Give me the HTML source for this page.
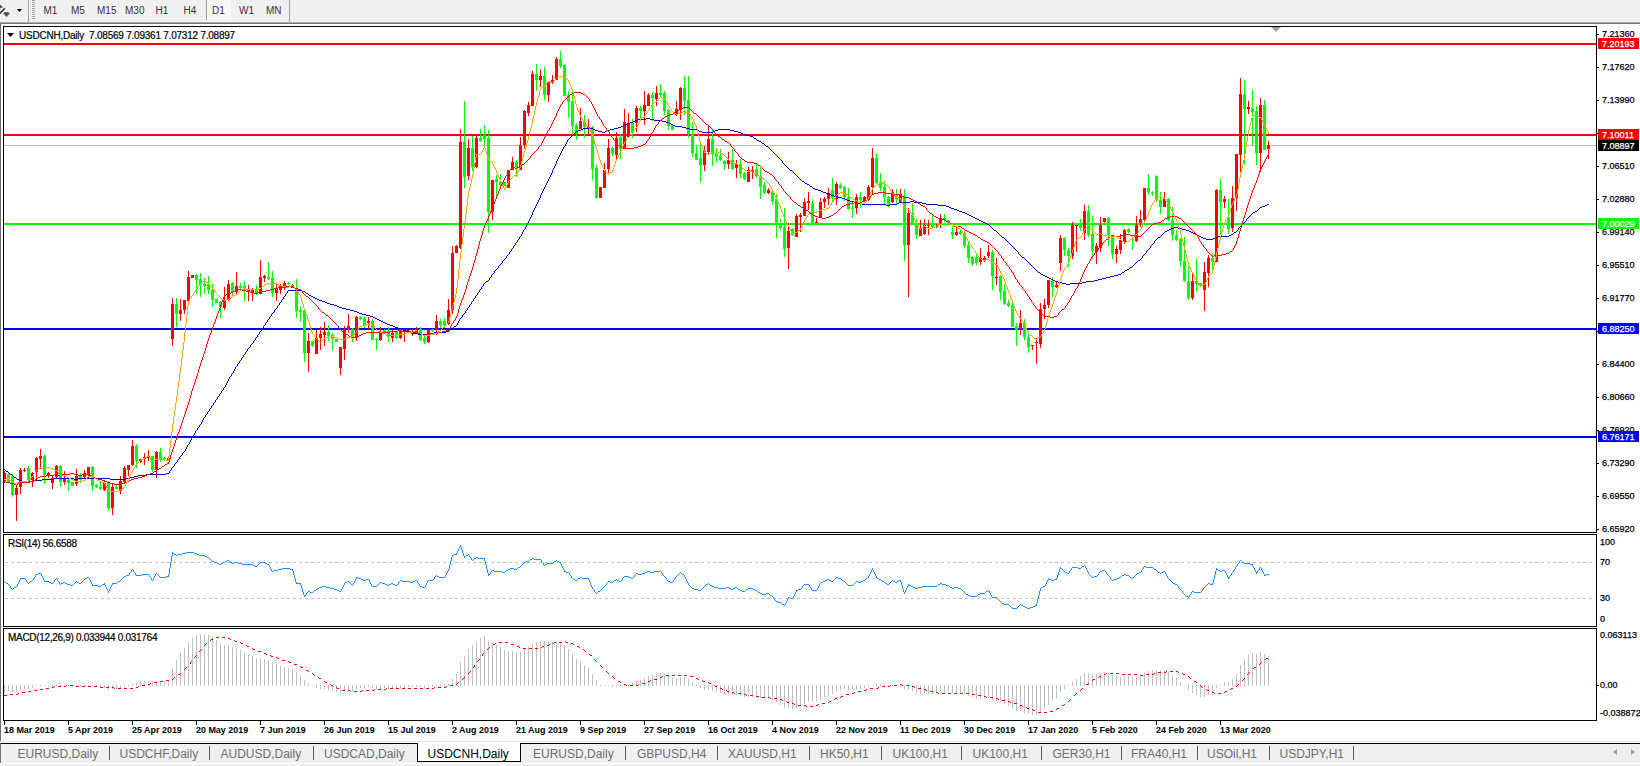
<!DOCTYPE html><html><head><meta charset="utf-8"><style>
html,body{margin:0;padding:0;}
body{width:1640px;height:766px;overflow:hidden;position:relative;background:#fff;font-family:"Liberation Sans",sans-serif;}
.a{position:absolute;white-space:nowrap;}
.tb{font-size:10px;color:#333;top:5px;}
.pl{font-size:9.5px;color:#000;left:1602px;line-height:11px;height:11px;transform:scaleX(0.95);transform-origin:0 0;-webkit-text-stroke:0.25px currentColor;}
.dl{font-size:9.5px;font-weight:bold;color:#000;top:724px;line-height:11px;transform:scaleX(0.94);transform-origin:0 0;}
.tab{font-size:12px;color:#6d6d6d;top:747px;line-height:14px;}
.sep{position:absolute;top:746px;width:1px;height:14px;background:#5a5a5a;}
</style></head><body>
<div class="a" style="left:0;top:0;width:1640px;height:22px;background:#F0F0F0"></div>
<div class="a" style="left:0;top:22px;width:1640px;height:1px;background:#A8A8A8"></div>
<div class="a" style="left:0;top:23px;width:1640px;height:1px;background:#7A7A7A"></div>
<div class="a" style="left:28px;top:0;width:1px;height:22px;background:#A0A0A0"></div>
<div class="a" style="left:289px;top:0;width:1px;height:22px;background:#A0A0A0"></div>
<div class="a" style="left:32px;top:0px;width:3px;height:1px;background:#A0A0A0"></div>
<div class="a" style="left:32px;top:2px;width:3px;height:1px;background:#A0A0A0"></div>
<div class="a" style="left:32px;top:4px;width:3px;height:1px;background:#A0A0A0"></div>
<div class="a" style="left:32px;top:6px;width:3px;height:1px;background:#A0A0A0"></div>
<div class="a" style="left:32px;top:8px;width:3px;height:1px;background:#A0A0A0"></div>
<div class="a" style="left:32px;top:10px;width:3px;height:1px;background:#A0A0A0"></div>
<div class="a" style="left:32px;top:12px;width:3px;height:1px;background:#A0A0A0"></div>
<div class="a" style="left:32px;top:14px;width:3px;height:1px;background:#A0A0A0"></div>
<div class="a" style="left:32px;top:16px;width:3px;height:1px;background:#A0A0A0"></div>
<div class="a" style="left:32px;top:18px;width:3px;height:1px;background:#A0A0A0"></div>
<div class="a" style="left:206px;top:0;width:25px;height:20px;background:#F7F7F7"></div>
<div class="a" style="left:206px;top:0;width:1px;height:20px;background:#A0A0A0"></div>
<div class="a tb" style="left:43.5px">M1</div>
<div class="a tb" style="left:71px">M5</div>
<div class="a tb" style="left:97px">M15</div>
<div class="a tb" style="left:125px">M30</div>
<div class="a tb" style="left:155.5px">H1</div>
<div class="a tb" style="left:183.5px">H4</div>
<div class="a tb" style="left:212px">D1</div>
<div class="a tb" style="left:239px">W1</div>
<div class="a tb" style="left:266px">MN</div>
<svg class="a" style="left:0;top:0" width="28" height="22"><path d="M0 4.5 L3 7.3 L0 8.5 Z" fill="#555"/><path d="M0 13.5 L4.8 8.3" stroke="#333" stroke-width="1.6"/><path d="M3 13.3 L5.5 12 L7.5 12 L10 13.3 L6.5 17 Z" fill="#555"/><path d="M17 9 H22 L19.5 12 Z" fill="#000"/></svg>
<div class="a" style="left:0;top:24px;width:1px;height:717px;background:#6E6E6E"></div>
<svg class="a" style="left:0;top:0" width="1640" height="766"><defs><clipPath id="cm"><rect x="4" y="27" width="1592" height="505"/></clipPath><clipPath id="cr"><rect x="4" y="535" width="1592" height="91"/></clipPath><clipPath id="cd"><rect x="4" y="629" width="1592" height="90"/></clipPath></defs><rect x="3.5" y="26.5" width="1593" height="506" fill="none" stroke="#000" stroke-width="1" shape-rendering="crispEdges"/><rect x="3.5" y="534.5" width="1593" height="92" fill="none" stroke="#000" stroke-width="1" shape-rendering="crispEdges"/><rect x="3.5" y="628.5" width="1593" height="92" fill="none" stroke="#000" stroke-width="1" shape-rendering="crispEdges"/><g clip-path="url(#cm)"><g shape-rendering="crispEdges"><rect x="4" y="43" width="1592" height="2" fill="#FF0000"/><rect x="4" y="134" width="1592" height="2" fill="#FF0000"/><rect x="4" y="145" width="1592" height="1" fill="#C0C0C0"/><rect x="4" y="223" width="1592" height="2" fill="#00FF00"/><rect x="4" y="328" width="1592" height="2" fill="#0000FF"/><rect x="4" y="436" width="1592" height="2" fill="#0000FF"/></g><g shape-rendering="crispEdges"><rect x="4" y="471" width="1" height="12" fill="#FF0000"/><rect x="3" y="473" width="3" height="9" fill="#FF0000"/><rect x="8" y="472" width="1" height="10" fill="#00FF00"/><rect x="7" y="474" width="3" height="8" fill="#00FF00"/><rect x="12" y="474" width="1" height="23" fill="#00FF00"/><rect x="11" y="476" width="3" height="19" fill="#00FF00"/><rect x="16" y="484" width="1" height="37" fill="#FF0000"/><rect x="15" y="488" width="3" height="7" fill="#FF0000"/><rect x="20" y="468" width="1" height="26" fill="#FF0000"/><rect x="19" y="470" width="3" height="17" fill="#FF0000"/><rect x="24" y="468" width="1" height="4" fill="#FF0000"/><rect x="23" y="470" width="3" height="1" fill="#FF0000"/><rect x="28" y="466" width="1" height="17" fill="#00FF00"/><rect x="27" y="468" width="3" height="12" fill="#00FF00"/><rect x="32" y="472" width="1" height="15" fill="#FF0000"/><rect x="31" y="473" width="3" height="7" fill="#FF0000"/><rect x="36" y="457" width="1" height="23" fill="#FF0000"/><rect x="35" y="458" width="3" height="14" fill="#FF0000"/><rect x="40" y="449" width="1" height="20" fill="#FF0000"/><rect x="39" y="456" width="3" height="3" fill="#FF0000"/><rect x="44" y="454" width="1" height="30" fill="#00FF00"/><rect x="43" y="456" width="3" height="19" fill="#00FF00"/><rect x="48" y="472" width="1" height="6" fill="#FF0000"/><rect x="47" y="473" width="3" height="3" fill="#FF0000"/><rect x="52" y="476" width="1" height="13" fill="#FF0000"/><rect x="51" y="478" width="3" height="5" fill="#FF0000"/><rect x="56" y="465" width="1" height="14" fill="#FF0000"/><rect x="55" y="466" width="3" height="11" fill="#FF0000"/><rect x="60" y="465" width="1" height="22" fill="#00FF00"/><rect x="59" y="466" width="3" height="16" fill="#00FF00"/><rect x="64" y="471" width="1" height="14" fill="#FF0000"/><rect x="63" y="478" width="3" height="4" fill="#FF0000"/><rect x="68" y="478" width="1" height="13" fill="#00FF00"/><rect x="67" y="480" width="3" height="3" fill="#00FF00"/><rect x="72" y="482" width="1" height="4" fill="#00FF00"/><rect x="71" y="482" width="3" height="4" fill="#00FF00"/><rect x="76" y="469" width="1" height="17" fill="#FF0000"/><rect x="75" y="476" width="3" height="8" fill="#FF0000"/><rect x="80" y="473" width="1" height="10" fill="#00FF00"/><rect x="79" y="475" width="3" height="5" fill="#00FF00"/><rect x="84" y="470" width="1" height="9" fill="#FF0000"/><rect x="83" y="473" width="3" height="4" fill="#FF0000"/><rect x="88" y="467" width="1" height="11" fill="#FF0000"/><rect x="87" y="467" width="3" height="8" fill="#FF0000"/><rect x="92" y="466" width="1" height="25" fill="#00FF00"/><rect x="91" y="467" width="3" height="19" fill="#00FF00"/><rect x="96" y="484" width="1" height="4" fill="#00FF00"/><rect x="95" y="485" width="3" height="2" fill="#00FF00"/><rect x="100" y="482" width="1" height="8" fill="#00FF00"/><rect x="99" y="487" width="3" height="2" fill="#00FF00"/><rect x="104" y="480" width="1" height="11" fill="#FF0000"/><rect x="103" y="483" width="3" height="7" fill="#FF0000"/><rect x="108" y="481" width="1" height="29" fill="#00FF00"/><rect x="107" y="482" width="3" height="26" fill="#00FF00"/><rect x="112" y="484" width="1" height="31" fill="#FF0000"/><rect x="111" y="487" width="3" height="21" fill="#FF0000"/><rect x="116" y="485" width="1" height="4" fill="#00FF00"/><rect x="115" y="487" width="3" height="2" fill="#00FF00"/><rect x="120" y="476" width="1" height="18" fill="#FF0000"/><rect x="119" y="481" width="3" height="10" fill="#FF0000"/><rect x="124" y="466" width="1" height="18" fill="#FF0000"/><rect x="123" y="468" width="3" height="14" fill="#FF0000"/><rect x="128" y="465" width="1" height="11" fill="#FF0000"/><rect x="127" y="465" width="3" height="5" fill="#FF0000"/><rect x="132" y="440" width="1" height="26" fill="#FF0000"/><rect x="131" y="446" width="3" height="19" fill="#FF0000"/><rect x="136" y="444" width="1" height="24" fill="#00FF00"/><rect x="135" y="446" width="3" height="15" fill="#00FF00"/><rect x="140" y="459" width="1" height="4" fill="#FF0000"/><rect x="139" y="459" width="3" height="3" fill="#FF0000"/><rect x="144" y="453" width="1" height="12" fill="#FF0000"/><rect x="143" y="457" width="3" height="2" fill="#FF0000"/><rect x="148" y="450" width="1" height="11" fill="#FF0000"/><rect x="147" y="456" width="3" height="2" fill="#FF0000"/><rect x="152" y="456" width="1" height="16" fill="#00FF00"/><rect x="151" y="456" width="3" height="14" fill="#00FF00"/><rect x="156" y="451" width="1" height="27" fill="#FF0000"/><rect x="155" y="452" width="3" height="18" fill="#FF0000"/><rect x="160" y="448" width="1" height="14" fill="#00FF00"/><rect x="159" y="452" width="3" height="7" fill="#00FF00"/><rect x="164" y="457" width="1" height="4" fill="#00FF00"/><rect x="163" y="458" width="3" height="2" fill="#00FF00"/><rect x="168" y="458" width="1" height="2" fill="#FF0000"/><rect x="167" y="458" width="3" height="2" fill="#FF0000"/><rect x="172" y="298" width="1" height="48" fill="#FF0000"/><rect x="171" y="304" width="3" height="35" fill="#FF0000"/><rect x="176" y="298" width="1" height="29" fill="#00FF00"/><rect x="175" y="304" width="3" height="10" fill="#00FF00"/><rect x="180" y="299" width="1" height="22" fill="#FF0000"/><rect x="179" y="310" width="3" height="4" fill="#FF0000"/><rect x="184" y="300" width="1" height="14" fill="#FF0000"/><rect x="183" y="300" width="3" height="10" fill="#FF0000"/><rect x="188" y="271" width="1" height="30" fill="#FF0000"/><rect x="187" y="277" width="3" height="24" fill="#FF0000"/><rect x="192" y="275" width="1" height="3" fill="#FF0000"/><rect x="191" y="275" width="3" height="3" fill="#FF0000"/><rect x="196" y="274" width="1" height="20" fill="#00FF00"/><rect x="195" y="275" width="3" height="5" fill="#00FF00"/><rect x="200" y="273" width="1" height="24" fill="#00FF00"/><rect x="199" y="279" width="3" height="5" fill="#00FF00"/><rect x="204" y="278" width="1" height="16" fill="#00FF00"/><rect x="203" y="284" width="3" height="2" fill="#00FF00"/><rect x="208" y="276" width="1" height="18" fill="#00FF00"/><rect x="207" y="284" width="3" height="6" fill="#00FF00"/><rect x="212" y="284" width="1" height="23" fill="#00FF00"/><rect x="211" y="290" width="3" height="10" fill="#00FF00"/><rect x="216" y="299" width="1" height="4" fill="#00FF00"/><rect x="215" y="299" width="3" height="4" fill="#00FF00"/><rect x="220" y="301" width="1" height="17" fill="#00FF00"/><rect x="219" y="302" width="3" height="5" fill="#00FF00"/><rect x="224" y="287" width="1" height="23" fill="#FF0000"/><rect x="223" y="300" width="3" height="8" fill="#FF0000"/><rect x="228" y="280" width="1" height="21" fill="#FF0000"/><rect x="227" y="284" width="3" height="16" fill="#FF0000"/><rect x="232" y="282" width="1" height="14" fill="#00FF00"/><rect x="231" y="283" width="3" height="9" fill="#00FF00"/><rect x="236" y="272" width="1" height="22" fill="#FF0000"/><rect x="235" y="286" width="3" height="6" fill="#FF0000"/><rect x="240" y="283" width="1" height="7" fill="#00FF00"/><rect x="239" y="286" width="3" height="2" fill="#00FF00"/><rect x="244" y="281" width="1" height="20" fill="#00FF00"/><rect x="243" y="286" width="3" height="4" fill="#00FF00"/><rect x="248" y="285" width="1" height="16" fill="#FF0000"/><rect x="247" y="290" width="3" height="2" fill="#FF0000"/><rect x="252" y="288" width="1" height="13" fill="#FF0000"/><rect x="251" y="290" width="3" height="2" fill="#FF0000"/><rect x="256" y="285" width="1" height="10" fill="#00FF00"/><rect x="255" y="289" width="3" height="5" fill="#00FF00"/><rect x="260" y="260" width="1" height="34" fill="#FF0000"/><rect x="259" y="277" width="3" height="17" fill="#FF0000"/><rect x="264" y="275" width="1" height="7" fill="#FF0000"/><rect x="263" y="276" width="3" height="2" fill="#FF0000"/><rect x="268" y="262" width="1" height="18" fill="#00FF00"/><rect x="267" y="277" width="3" height="2" fill="#00FF00"/><rect x="272" y="271" width="1" height="26" fill="#00FF00"/><rect x="271" y="278" width="3" height="15" fill="#00FF00"/><rect x="276" y="284" width="1" height="17" fill="#FF0000"/><rect x="275" y="289" width="3" height="4" fill="#FF0000"/><rect x="280" y="284" width="1" height="10" fill="#FF0000"/><rect x="279" y="286" width="3" height="4" fill="#FF0000"/><rect x="284" y="281" width="1" height="9" fill="#FF0000"/><rect x="283" y="283" width="3" height="3" fill="#FF0000"/><rect x="288" y="282" width="1" height="3" fill="#00FF00"/><rect x="287" y="283" width="3" height="1" fill="#00FF00"/><rect x="292" y="284" width="1" height="4" fill="#FF0000"/><rect x="291" y="285" width="3" height="3" fill="#FF0000"/><rect x="296" y="279" width="1" height="39" fill="#00FF00"/><rect x="295" y="288" width="3" height="23" fill="#00FF00"/><rect x="300" y="307" width="1" height="15" fill="#00FF00"/><rect x="299" y="310" width="3" height="2" fill="#00FF00"/><rect x="304" y="310" width="1" height="52" fill="#00FF00"/><rect x="303" y="310" width="3" height="43" fill="#00FF00"/><rect x="308" y="333" width="1" height="39" fill="#FF0000"/><rect x="307" y="341" width="3" height="12" fill="#FF0000"/><rect x="312" y="341" width="1" height="6" fill="#00FF00"/><rect x="311" y="341" width="3" height="5" fill="#00FF00"/><rect x="316" y="330" width="1" height="24" fill="#FF0000"/><rect x="315" y="338" width="3" height="16" fill="#FF0000"/><rect x="320" y="327" width="1" height="23" fill="#FF0000"/><rect x="319" y="334" width="3" height="4" fill="#FF0000"/><rect x="324" y="322" width="1" height="24" fill="#FF0000"/><rect x="323" y="332" width="3" height="3" fill="#FF0000"/><rect x="328" y="325" width="1" height="16" fill="#00FF00"/><rect x="327" y="332" width="3" height="4" fill="#00FF00"/><rect x="332" y="333" width="1" height="17" fill="#00FF00"/><rect x="331" y="335" width="3" height="4" fill="#00FF00"/><rect x="336" y="339" width="1" height="3" fill="#00FF00"/><rect x="335" y="339" width="3" height="3" fill="#00FF00"/><rect x="340" y="347" width="1" height="28" fill="#FF0000"/><rect x="339" y="347" width="3" height="21" fill="#FF0000"/><rect x="344" y="326" width="1" height="34" fill="#FF0000"/><rect x="343" y="330" width="3" height="19" fill="#FF0000"/><rect x="348" y="314" width="1" height="19" fill="#FF0000"/><rect x="347" y="326" width="3" height="4" fill="#FF0000"/><rect x="352" y="328" width="1" height="14" fill="#00FF00"/><rect x="351" y="329" width="3" height="8" fill="#00FF00"/><rect x="356" y="316" width="1" height="25" fill="#FF0000"/><rect x="355" y="317" width="3" height="21" fill="#FF0000"/><rect x="360" y="316" width="1" height="4" fill="#00FF00"/><rect x="359" y="317" width="3" height="2" fill="#00FF00"/><rect x="364" y="316" width="1" height="12" fill="#00FF00"/><rect x="363" y="318" width="3" height="7" fill="#00FF00"/><rect x="368" y="317" width="1" height="12" fill="#FF0000"/><rect x="367" y="321" width="3" height="2" fill="#FF0000"/><rect x="372" y="319" width="1" height="21" fill="#00FF00"/><rect x="371" y="321" width="3" height="19" fill="#00FF00"/><rect x="376" y="338" width="1" height="12" fill="#00FF00"/><rect x="375" y="339" width="3" height="1" fill="#00FF00"/><rect x="380" y="327" width="1" height="14" fill="#FF0000"/><rect x="379" y="332" width="3" height="8" fill="#FF0000"/><rect x="384" y="329" width="1" height="5" fill="#00FF00"/><rect x="383" y="330" width="3" height="3" fill="#00FF00"/><rect x="388" y="327" width="1" height="15" fill="#00FF00"/><rect x="387" y="331" width="3" height="6" fill="#00FF00"/><rect x="392" y="330" width="1" height="12" fill="#FF0000"/><rect x="391" y="333" width="3" height="5" fill="#FF0000"/><rect x="396" y="331" width="1" height="8" fill="#00FF00"/><rect x="395" y="332" width="3" height="6" fill="#00FF00"/><rect x="400" y="328" width="1" height="11" fill="#FF0000"/><rect x="399" y="329" width="3" height="9" fill="#FF0000"/><rect x="404" y="330" width="1" height="12" fill="#FF0000"/><rect x="403" y="330" width="3" height="2" fill="#FF0000"/><rect x="408" y="330" width="1" height="2" fill="#00FF00"/><rect x="407" y="330" width="3" height="1" fill="#00FF00"/><rect x="412" y="329" width="1" height="7" fill="#FF0000"/><rect x="411" y="332" width="3" height="2" fill="#FF0000"/><rect x="416" y="327" width="1" height="7" fill="#FF0000"/><rect x="415" y="329" width="3" height="3" fill="#FF0000"/><rect x="420" y="327" width="1" height="14" fill="#00FF00"/><rect x="419" y="329" width="3" height="11" fill="#00FF00"/><rect x="424" y="334" width="1" height="10" fill="#00FF00"/><rect x="423" y="338" width="3" height="4" fill="#00FF00"/><rect x="428" y="329" width="1" height="14" fill="#FF0000"/><rect x="427" y="330" width="3" height="12" fill="#FF0000"/><rect x="432" y="329" width="1" height="3" fill="#00FF00"/><rect x="431" y="329" width="3" height="2" fill="#00FF00"/><rect x="436" y="315" width="1" height="20" fill="#FF0000"/><rect x="435" y="321" width="3" height="8" fill="#FF0000"/><rect x="440" y="319" width="1" height="9" fill="#00FF00"/><rect x="439" y="321" width="3" height="4" fill="#00FF00"/><rect x="444" y="318" width="1" height="10" fill="#00FF00"/><rect x="443" y="321" width="3" height="4" fill="#00FF00"/><rect x="448" y="299" width="1" height="26" fill="#FF0000"/><rect x="447" y="310" width="3" height="14" fill="#FF0000"/><rect x="452" y="246" width="1" height="68" fill="#FF0000"/><rect x="451" y="253" width="3" height="57" fill="#FF0000"/><rect x="456" y="245" width="1" height="8" fill="#FF0000"/><rect x="455" y="246" width="3" height="7" fill="#FF0000"/><rect x="460" y="129" width="1" height="120" fill="#FF0000"/><rect x="459" y="142" width="3" height="106" fill="#FF0000"/><rect x="464" y="101" width="1" height="87" fill="#00FF00"/><rect x="463" y="142" width="3" height="35" fill="#00FF00"/><rect x="468" y="139" width="1" height="41" fill="#FF0000"/><rect x="467" y="148" width="3" height="28" fill="#FF0000"/><rect x="472" y="136" width="1" height="35" fill="#00FF00"/><rect x="471" y="148" width="3" height="19" fill="#00FF00"/><rect x="476" y="135" width="1" height="33" fill="#FF0000"/><rect x="475" y="138" width="3" height="29" fill="#FF0000"/><rect x="480" y="129" width="1" height="13" fill="#00FF00"/><rect x="479" y="138" width="3" height="3" fill="#00FF00"/><rect x="484" y="125" width="1" height="21" fill="#00FF00"/><rect x="483" y="135" width="3" height="4" fill="#00FF00"/><rect x="488" y="130" width="1" height="103" fill="#00FF00"/><rect x="487" y="138" width="3" height="74" fill="#00FF00"/><rect x="492" y="180" width="1" height="40" fill="#FF0000"/><rect x="491" y="180" width="3" height="32" fill="#FF0000"/><rect x="496" y="175" width="1" height="24" fill="#00FF00"/><rect x="495" y="179" width="3" height="3" fill="#00FF00"/><rect x="500" y="174" width="1" height="13" fill="#00FF00"/><rect x="499" y="182" width="3" height="3" fill="#00FF00"/><rect x="504" y="182" width="1" height="4" fill="#00FF00"/><rect x="503" y="182" width="3" height="4" fill="#00FF00"/><rect x="508" y="170" width="1" height="18" fill="#FF0000"/><rect x="507" y="170" width="3" height="18" fill="#FF0000"/><rect x="512" y="157" width="1" height="13" fill="#FF0000"/><rect x="511" y="162" width="3" height="8" fill="#FF0000"/><rect x="516" y="160" width="1" height="17" fill="#00FF00"/><rect x="515" y="162" width="3" height="5" fill="#00FF00"/><rect x="520" y="137" width="1" height="33" fill="#FF0000"/><rect x="519" y="145" width="3" height="25" fill="#FF0000"/><rect x="524" y="110" width="1" height="39" fill="#FF0000"/><rect x="523" y="111" width="3" height="34" fill="#FF0000"/><rect x="528" y="102" width="1" height="14" fill="#FF0000"/><rect x="527" y="105" width="3" height="8" fill="#FF0000"/><rect x="532" y="71" width="1" height="35" fill="#FF0000"/><rect x="531" y="74" width="3" height="32" fill="#FF0000"/><rect x="536" y="64" width="1" height="27" fill="#00FF00"/><rect x="535" y="74" width="3" height="6" fill="#00FF00"/><rect x="540" y="69" width="1" height="18" fill="#FF0000"/><rect x="539" y="76" width="3" height="4" fill="#FF0000"/><rect x="544" y="67" width="1" height="33" fill="#00FF00"/><rect x="543" y="76" width="3" height="19" fill="#00FF00"/><rect x="548" y="82" width="1" height="20" fill="#FF0000"/><rect x="547" y="82" width="3" height="13" fill="#FF0000"/><rect x="552" y="75" width="1" height="9" fill="#FF0000"/><rect x="551" y="80" width="3" height="3" fill="#FF0000"/><rect x="556" y="57" width="1" height="23" fill="#FF0000"/><rect x="555" y="59" width="3" height="21" fill="#FF0000"/><rect x="560" y="51" width="1" height="17" fill="#00FF00"/><rect x="559" y="59" width="3" height="7" fill="#00FF00"/><rect x="564" y="64" width="1" height="32" fill="#00FF00"/><rect x="563" y="65" width="3" height="31" fill="#00FF00"/><rect x="568" y="91" width="1" height="27" fill="#00FF00"/><rect x="567" y="95" width="3" height="7" fill="#00FF00"/><rect x="572" y="91" width="1" height="44" fill="#00FF00"/><rect x="571" y="101" width="3" height="25" fill="#00FF00"/><rect x="576" y="123" width="1" height="17" fill="#00FF00"/><rect x="575" y="125" width="3" height="9" fill="#00FF00"/><rect x="580" y="108" width="1" height="21" fill="#FF0000"/><rect x="579" y="121" width="3" height="8" fill="#FF0000"/><rect x="584" y="115" width="1" height="23" fill="#00FF00"/><rect x="583" y="122" width="3" height="5" fill="#00FF00"/><rect x="588" y="119" width="1" height="15" fill="#FF0000"/><rect x="587" y="127" width="3" height="2" fill="#FF0000"/><rect x="592" y="126" width="1" height="54" fill="#00FF00"/><rect x="591" y="127" width="3" height="42" fill="#00FF00"/><rect x="596" y="164" width="1" height="35" fill="#00FF00"/><rect x="595" y="168" width="3" height="30" fill="#00FF00"/><rect x="600" y="187" width="1" height="11" fill="#FF0000"/><rect x="599" y="187" width="3" height="11" fill="#FF0000"/><rect x="604" y="163" width="1" height="25" fill="#FF0000"/><rect x="603" y="170" width="3" height="18" fill="#FF0000"/><rect x="608" y="139" width="1" height="34" fill="#FF0000"/><rect x="607" y="148" width="3" height="21" fill="#FF0000"/><rect x="612" y="147" width="1" height="9" fill="#00FF00"/><rect x="611" y="148" width="3" height="6" fill="#00FF00"/><rect x="616" y="132" width="1" height="29" fill="#FF0000"/><rect x="615" y="138" width="3" height="17" fill="#FF0000"/><rect x="620" y="134" width="1" height="25" fill="#00FF00"/><rect x="619" y="137" width="3" height="12" fill="#00FF00"/><rect x="624" y="109" width="1" height="39" fill="#FF0000"/><rect x="623" y="122" width="3" height="26" fill="#FF0000"/><rect x="628" y="113" width="1" height="24" fill="#FF0000"/><rect x="627" y="123" width="3" height="14" fill="#FF0000"/><rect x="632" y="119" width="1" height="19" fill="#00FF00"/><rect x="631" y="123" width="3" height="10" fill="#00FF00"/><rect x="636" y="106" width="1" height="26" fill="#FF0000"/><rect x="635" y="108" width="3" height="15" fill="#FF0000"/><rect x="640" y="106" width="1" height="15" fill="#00FF00"/><rect x="639" y="108" width="3" height="3" fill="#00FF00"/><rect x="644" y="91" width="1" height="34" fill="#FF0000"/><rect x="643" y="105" width="3" height="6" fill="#FF0000"/><rect x="648" y="93" width="1" height="13" fill="#FF0000"/><rect x="647" y="95" width="3" height="11" fill="#FF0000"/><rect x="652" y="92" width="1" height="29" fill="#00FF00"/><rect x="651" y="95" width="3" height="3" fill="#00FF00"/><rect x="656" y="86" width="1" height="20" fill="#FF0000"/><rect x="655" y="93" width="3" height="6" fill="#FF0000"/><rect x="660" y="84" width="1" height="13" fill="#00FF00"/><rect x="659" y="93" width="3" height="2" fill="#00FF00"/><rect x="664" y="91" width="1" height="24" fill="#00FF00"/><rect x="663" y="93" width="3" height="18" fill="#00FF00"/><rect x="668" y="109" width="1" height="21" fill="#00FF00"/><rect x="667" y="110" width="3" height="16" fill="#00FF00"/><rect x="672" y="124" width="1" height="6" fill="#00FF00"/><rect x="671" y="125" width="3" height="5" fill="#00FF00"/><rect x="676" y="101" width="1" height="15" fill="#FF0000"/><rect x="675" y="109" width="3" height="6" fill="#FF0000"/><rect x="680" y="87" width="1" height="33" fill="#FF0000"/><rect x="679" y="88" width="3" height="22" fill="#FF0000"/><rect x="684" y="76" width="1" height="39" fill="#00FF00"/><rect x="683" y="88" width="3" height="13" fill="#00FF00"/><rect x="688" y="76" width="1" height="62" fill="#00FF00"/><rect x="687" y="100" width="3" height="34" fill="#00FF00"/><rect x="692" y="122" width="1" height="35" fill="#00FF00"/><rect x="691" y="134" width="3" height="19" fill="#00FF00"/><rect x="696" y="145" width="1" height="15" fill="#00FF00"/><rect x="695" y="153" width="3" height="7" fill="#00FF00"/><rect x="700" y="144" width="1" height="38" fill="#00FF00"/><rect x="699" y="158" width="3" height="7" fill="#00FF00"/><rect x="704" y="146" width="1" height="25" fill="#FF0000"/><rect x="703" y="151" width="3" height="14" fill="#FF0000"/><rect x="708" y="125" width="1" height="30" fill="#FF0000"/><rect x="707" y="139" width="3" height="13" fill="#FF0000"/><rect x="712" y="130" width="1" height="36" fill="#00FF00"/><rect x="711" y="139" width="3" height="14" fill="#00FF00"/><rect x="716" y="148" width="1" height="14" fill="#00FF00"/><rect x="715" y="154" width="3" height="3" fill="#00FF00"/><rect x="720" y="149" width="1" height="12" fill="#00FF00"/><rect x="719" y="156" width="3" height="4" fill="#00FF00"/><rect x="724" y="160" width="1" height="10" fill="#00FF00"/><rect x="723" y="161" width="3" height="3" fill="#00FF00"/><rect x="728" y="152" width="1" height="17" fill="#FF0000"/><rect x="727" y="160" width="3" height="4" fill="#FF0000"/><rect x="732" y="149" width="1" height="21" fill="#00FF00"/><rect x="731" y="160" width="3" height="9" fill="#00FF00"/><rect x="736" y="160" width="1" height="18" fill="#FF0000"/><rect x="735" y="164" width="3" height="4" fill="#FF0000"/><rect x="740" y="159" width="1" height="19" fill="#00FF00"/><rect x="739" y="164" width="3" height="10" fill="#00FF00"/><rect x="744" y="172" width="1" height="8" fill="#00FF00"/><rect x="743" y="173" width="3" height="6" fill="#00FF00"/><rect x="748" y="167" width="1" height="15" fill="#FF0000"/><rect x="747" y="170" width="3" height="12" fill="#FF0000"/><rect x="752" y="166" width="1" height="13" fill="#FF0000"/><rect x="751" y="170" width="3" height="2" fill="#FF0000"/><rect x="756" y="164" width="1" height="14" fill="#00FF00"/><rect x="755" y="169" width="3" height="7" fill="#00FF00"/><rect x="760" y="168" width="1" height="31" fill="#00FF00"/><rect x="759" y="176" width="3" height="11" fill="#00FF00"/><rect x="764" y="182" width="1" height="12" fill="#00FF00"/><rect x="763" y="185" width="3" height="8" fill="#00FF00"/><rect x="768" y="188" width="1" height="6" fill="#FF0000"/><rect x="767" y="190" width="3" height="3" fill="#FF0000"/><rect x="772" y="190" width="1" height="15" fill="#00FF00"/><rect x="771" y="192" width="3" height="9" fill="#00FF00"/><rect x="776" y="194" width="1" height="44" fill="#00FF00"/><rect x="775" y="199" width="3" height="24" fill="#00FF00"/><rect x="780" y="219" width="1" height="11" fill="#00FF00"/><rect x="779" y="223" width="3" height="5" fill="#00FF00"/><rect x="784" y="208" width="1" height="49" fill="#00FF00"/><rect x="783" y="227" width="3" height="22" fill="#00FF00"/><rect x="788" y="223" width="1" height="46" fill="#FF0000"/><rect x="787" y="231" width="3" height="17" fill="#FF0000"/><rect x="792" y="228" width="1" height="8" fill="#00FF00"/><rect x="791" y="229" width="3" height="6" fill="#00FF00"/><rect x="796" y="214" width="1" height="23" fill="#FF0000"/><rect x="795" y="216" width="3" height="21" fill="#FF0000"/><rect x="800" y="213" width="1" height="19" fill="#FF0000"/><rect x="799" y="215" width="3" height="2" fill="#FF0000"/><rect x="804" y="198" width="1" height="18" fill="#FF0000"/><rect x="803" y="202" width="3" height="14" fill="#FF0000"/><rect x="808" y="192" width="1" height="18" fill="#FF0000"/><rect x="807" y="201" width="3" height="2" fill="#FF0000"/><rect x="812" y="199" width="1" height="27" fill="#00FF00"/><rect x="811" y="203" width="3" height="20" fill="#00FF00"/><rect x="816" y="218" width="1" height="5" fill="#FF0000"/><rect x="815" y="222" width="3" height="1" fill="#FF0000"/><rect x="820" y="198" width="1" height="19" fill="#FF0000"/><rect x="819" y="202" width="3" height="15" fill="#FF0000"/><rect x="824" y="197" width="1" height="11" fill="#FF0000"/><rect x="823" y="199" width="3" height="3" fill="#FF0000"/><rect x="828" y="188" width="1" height="17" fill="#FF0000"/><rect x="827" y="193" width="3" height="6" fill="#FF0000"/><rect x="832" y="178" width="1" height="24" fill="#00FF00"/><rect x="831" y="190" width="3" height="8" fill="#00FF00"/><rect x="836" y="182" width="1" height="23" fill="#FF0000"/><rect x="835" y="184" width="3" height="15" fill="#FF0000"/><rect x="840" y="183" width="1" height="6" fill="#00FF00"/><rect x="839" y="185" width="3" height="3" fill="#00FF00"/><rect x="844" y="186" width="1" height="15" fill="#00FF00"/><rect x="843" y="187" width="3" height="10" fill="#00FF00"/><rect x="848" y="188" width="1" height="22" fill="#00FF00"/><rect x="847" y="197" width="3" height="12" fill="#00FF00"/><rect x="852" y="201" width="1" height="17" fill="#00FF00"/><rect x="851" y="208" width="3" height="1" fill="#00FF00"/><rect x="856" y="194" width="1" height="20" fill="#FF0000"/><rect x="855" y="197" width="3" height="11" fill="#FF0000"/><rect x="860" y="192" width="1" height="16" fill="#00FF00"/><rect x="859" y="197" width="3" height="3" fill="#00FF00"/><rect x="864" y="196" width="1" height="5" fill="#FF0000"/><rect x="863" y="197" width="3" height="4" fill="#FF0000"/><rect x="868" y="185" width="1" height="16" fill="#FF0000"/><rect x="867" y="187" width="3" height="13" fill="#FF0000"/><rect x="872" y="148" width="1" height="46" fill="#FF0000"/><rect x="871" y="158" width="3" height="29" fill="#FF0000"/><rect x="876" y="153" width="1" height="31" fill="#00FF00"/><rect x="875" y="158" width="3" height="25" fill="#00FF00"/><rect x="880" y="173" width="1" height="18" fill="#00FF00"/><rect x="879" y="182" width="3" height="6" fill="#00FF00"/><rect x="884" y="181" width="1" height="24" fill="#00FF00"/><rect x="883" y="187" width="3" height="10" fill="#00FF00"/><rect x="888" y="196" width="1" height="11" fill="#00FF00"/><rect x="887" y="197" width="3" height="8" fill="#00FF00"/><rect x="892" y="189" width="1" height="14" fill="#FF0000"/><rect x="891" y="192" width="3" height="10" fill="#FF0000"/><rect x="896" y="189" width="1" height="15" fill="#00FF00"/><rect x="895" y="195" width="3" height="4" fill="#00FF00"/><rect x="900" y="189" width="1" height="14" fill="#FF0000"/><rect x="899" y="194" width="3" height="9" fill="#FF0000"/><rect x="904" y="189" width="1" height="72" fill="#00FF00"/><rect x="903" y="196" width="3" height="49" fill="#00FF00"/><rect x="908" y="208" width="1" height="89" fill="#FF0000"/><rect x="907" y="213" width="3" height="32" fill="#FF0000"/><rect x="912" y="203" width="1" height="22" fill="#00FF00"/><rect x="911" y="213" width="3" height="11" fill="#00FF00"/><rect x="916" y="219" width="1" height="20" fill="#00FF00"/><rect x="915" y="225" width="3" height="10" fill="#00FF00"/><rect x="920" y="220" width="1" height="16" fill="#FF0000"/><rect x="919" y="229" width="3" height="7" fill="#FF0000"/><rect x="924" y="219" width="1" height="16" fill="#FF0000"/><rect x="923" y="225" width="3" height="9" fill="#FF0000"/><rect x="928" y="220" width="1" height="15" fill="#FF0000"/><rect x="927" y="225" width="3" height="1" fill="#FF0000"/><rect x="932" y="215" width="1" height="14" fill="#00FF00"/><rect x="931" y="225" width="3" height="2" fill="#00FF00"/><rect x="936" y="224" width="1" height="4" fill="#FF0000"/><rect x="935" y="226" width="3" height="1" fill="#FF0000"/><rect x="940" y="214" width="1" height="14" fill="#FF0000"/><rect x="939" y="218" width="3" height="5" fill="#FF0000"/><rect x="944" y="214" width="1" height="8" fill="#00FF00"/><rect x="943" y="218" width="3" height="2" fill="#00FF00"/><rect x="948" y="220" width="1" height="6" fill="#00FF00"/><rect x="947" y="220" width="3" height="3" fill="#00FF00"/><rect x="952" y="226" width="1" height="13" fill="#00FF00"/><rect x="951" y="232" width="3" height="3" fill="#00FF00"/><rect x="956" y="226" width="1" height="10" fill="#FF0000"/><rect x="955" y="232" width="3" height="3" fill="#FF0000"/><rect x="960" y="230" width="1" height="5" fill="#00FF00"/><rect x="959" y="232" width="3" height="2" fill="#00FF00"/><rect x="964" y="231" width="1" height="17" fill="#00FF00"/><rect x="963" y="233" width="3" height="13" fill="#00FF00"/><rect x="968" y="241" width="1" height="22" fill="#00FF00"/><rect x="967" y="245" width="3" height="13" fill="#00FF00"/><rect x="972" y="256" width="1" height="10" fill="#00FF00"/><rect x="971" y="257" width="3" height="7" fill="#00FF00"/><rect x="976" y="253" width="1" height="12" fill="#00FF00"/><rect x="975" y="257" width="3" height="6" fill="#00FF00"/><rect x="980" y="248" width="1" height="17" fill="#FF0000"/><rect x="979" y="258" width="3" height="4" fill="#FF0000"/><rect x="984" y="256" width="1" height="6" fill="#FF0000"/><rect x="983" y="258" width="3" height="2" fill="#FF0000"/><rect x="988" y="245" width="1" height="13" fill="#FF0000"/><rect x="987" y="252" width="3" height="4" fill="#FF0000"/><rect x="992" y="250" width="1" height="40" fill="#00FF00"/><rect x="991" y="252" width="3" height="24" fill="#00FF00"/><rect x="996" y="258" width="1" height="27" fill="#FF0000"/><rect x="995" y="277" width="3" height="1" fill="#FF0000"/><rect x="1000" y="275" width="1" height="25" fill="#00FF00"/><rect x="999" y="276" width="3" height="16" fill="#00FF00"/><rect x="1004" y="284" width="1" height="21" fill="#00FF00"/><rect x="1003" y="291" width="3" height="13" fill="#00FF00"/><rect x="1008" y="300" width="1" height="7" fill="#00FF00"/><rect x="1007" y="303" width="3" height="3" fill="#00FF00"/><rect x="1012" y="301" width="1" height="26" fill="#00FF00"/><rect x="1011" y="305" width="3" height="22" fill="#00FF00"/><rect x="1016" y="323" width="1" height="23" fill="#00FF00"/><rect x="1015" y="326" width="3" height="4" fill="#00FF00"/><rect x="1020" y="310" width="1" height="25" fill="#FF0000"/><rect x="1019" y="323" width="3" height="7" fill="#FF0000"/><rect x="1024" y="319" width="1" height="21" fill="#00FF00"/><rect x="1023" y="323" width="3" height="14" fill="#00FF00"/><rect x="1028" y="331" width="1" height="22" fill="#00FF00"/><rect x="1027" y="337" width="3" height="10" fill="#00FF00"/><rect x="1032" y="345" width="1" height="5" fill="#FF0000"/><rect x="1031" y="345" width="3" height="1" fill="#FF0000"/><rect x="1036" y="338" width="1" height="26" fill="#FF0000"/><rect x="1035" y="342" width="3" height="1" fill="#FF0000"/><rect x="1040" y="303" width="1" height="45" fill="#FF0000"/><rect x="1039" y="309" width="3" height="35" fill="#FF0000"/><rect x="1044" y="299" width="1" height="20" fill="#FF0000"/><rect x="1043" y="305" width="3" height="4" fill="#FF0000"/><rect x="1048" y="280" width="1" height="28" fill="#FF0000"/><rect x="1047" y="280" width="3" height="25" fill="#FF0000"/><rect x="1052" y="277" width="1" height="20" fill="#00FF00"/><rect x="1051" y="281" width="3" height="6" fill="#00FF00"/><rect x="1056" y="282" width="1" height="6" fill="#FF0000"/><rect x="1055" y="285" width="3" height="2" fill="#FF0000"/><rect x="1060" y="235" width="1" height="36" fill="#FF0000"/><rect x="1059" y="238" width="3" height="25" fill="#FF0000"/><rect x="1064" y="237" width="1" height="19" fill="#00FF00"/><rect x="1063" y="238" width="3" height="12" fill="#00FF00"/><rect x="1068" y="248" width="1" height="19" fill="#00FF00"/><rect x="1067" y="250" width="3" height="6" fill="#00FF00"/><rect x="1072" y="222" width="1" height="37" fill="#FF0000"/><rect x="1071" y="225" width="3" height="31" fill="#FF0000"/><rect x="1076" y="225" width="1" height="27" fill="#FF0000"/><rect x="1075" y="225" width="3" height="1" fill="#FF0000"/><rect x="1080" y="219" width="1" height="12" fill="#00FF00"/><rect x="1079" y="223" width="3" height="5" fill="#00FF00"/><rect x="1084" y="205" width="1" height="35" fill="#FF0000"/><rect x="1083" y="211" width="3" height="22" fill="#FF0000"/><rect x="1088" y="205" width="1" height="32" fill="#00FF00"/><rect x="1087" y="211" width="3" height="24" fill="#00FF00"/><rect x="1092" y="216" width="1" height="43" fill="#00FF00"/><rect x="1091" y="234" width="3" height="17" fill="#00FF00"/><rect x="1096" y="243" width="1" height="21" fill="#FF0000"/><rect x="1095" y="246" width="3" height="6" fill="#FF0000"/><rect x="1100" y="217" width="1" height="35" fill="#FF0000"/><rect x="1099" y="225" width="3" height="23" fill="#FF0000"/><rect x="1104" y="218" width="1" height="5" fill="#FF0000"/><rect x="1103" y="218" width="3" height="4" fill="#FF0000"/><rect x="1108" y="217" width="1" height="29" fill="#00FF00"/><rect x="1107" y="218" width="3" height="17" fill="#00FF00"/><rect x="1112" y="235" width="1" height="24" fill="#00FF00"/><rect x="1111" y="235" width="3" height="19" fill="#00FF00"/><rect x="1116" y="246" width="1" height="17" fill="#FF0000"/><rect x="1115" y="249" width="3" height="5" fill="#FF0000"/><rect x="1120" y="234" width="1" height="20" fill="#FF0000"/><rect x="1119" y="240" width="3" height="10" fill="#FF0000"/><rect x="1124" y="229" width="1" height="15" fill="#FF0000"/><rect x="1123" y="230" width="3" height="12" fill="#FF0000"/><rect x="1128" y="228" width="1" height="5" fill="#00FF00"/><rect x="1127" y="229" width="3" height="3" fill="#00FF00"/><rect x="1132" y="237" width="1" height="13" fill="#00FF00"/><rect x="1131" y="239" width="3" height="1" fill="#00FF00"/><rect x="1136" y="216" width="1" height="26" fill="#FF0000"/><rect x="1135" y="225" width="3" height="16" fill="#FF0000"/><rect x="1140" y="210" width="1" height="17" fill="#FF0000"/><rect x="1139" y="219" width="3" height="4" fill="#FF0000"/><rect x="1144" y="188" width="1" height="33" fill="#FF0000"/><rect x="1143" y="188" width="3" height="32" fill="#FF0000"/><rect x="1148" y="174" width="1" height="21" fill="#00FF00"/><rect x="1147" y="188" width="3" height="4" fill="#00FF00"/><rect x="1152" y="191" width="1" height="5" fill="#00FF00"/><rect x="1151" y="192" width="3" height="1" fill="#00FF00"/><rect x="1156" y="175" width="1" height="27" fill="#00FF00"/><rect x="1155" y="176" width="3" height="24" fill="#00FF00"/><rect x="1160" y="192" width="1" height="22" fill="#00FF00"/><rect x="1159" y="200" width="3" height="7" fill="#00FF00"/><rect x="1164" y="192" width="1" height="15" fill="#FF0000"/><rect x="1163" y="199" width="3" height="8" fill="#FF0000"/><rect x="1168" y="198" width="1" height="23" fill="#00FF00"/><rect x="1167" y="199" width="3" height="21" fill="#00FF00"/><rect x="1172" y="207" width="1" height="34" fill="#00FF00"/><rect x="1171" y="220" width="3" height="15" fill="#00FF00"/><rect x="1176" y="230" width="1" height="11" fill="#00FF00"/><rect x="1175" y="235" width="3" height="5" fill="#00FF00"/><rect x="1180" y="238" width="1" height="29" fill="#00FF00"/><rect x="1179" y="239" width="3" height="22" fill="#00FF00"/><rect x="1184" y="237" width="1" height="45" fill="#00FF00"/><rect x="1183" y="261" width="3" height="20" fill="#00FF00"/><rect x="1188" y="266" width="1" height="34" fill="#00FF00"/><rect x="1187" y="281" width="3" height="17" fill="#00FF00"/><rect x="1192" y="274" width="1" height="26" fill="#FF0000"/><rect x="1191" y="281" width="3" height="17" fill="#FF0000"/><rect x="1196" y="259" width="1" height="33" fill="#00FF00"/><rect x="1195" y="281" width="3" height="3" fill="#00FF00"/><rect x="1200" y="283" width="1" height="4" fill="#00FF00"/><rect x="1199" y="283" width="3" height="3" fill="#00FF00"/><rect x="1204" y="262" width="1" height="49" fill="#FF0000"/><rect x="1203" y="272" width="3" height="18" fill="#FF0000"/><rect x="1208" y="255" width="1" height="32" fill="#FF0000"/><rect x="1207" y="258" width="3" height="15" fill="#FF0000"/><rect x="1212" y="253" width="1" height="17" fill="#00FF00"/><rect x="1211" y="258" width="3" height="4" fill="#00FF00"/><rect x="1216" y="189" width="1" height="73" fill="#FF0000"/><rect x="1215" y="190" width="3" height="72" fill="#FF0000"/><rect x="1220" y="179" width="1" height="56" fill="#00FF00"/><rect x="1219" y="190" width="3" height="12" fill="#00FF00"/><rect x="1224" y="196" width="1" height="12" fill="#FF0000"/><rect x="1223" y="199" width="3" height="3" fill="#FF0000"/><rect x="1228" y="199" width="1" height="35" fill="#00FF00"/><rect x="1227" y="217" width="3" height="12" fill="#00FF00"/><rect x="1232" y="186" width="1" height="46" fill="#FF0000"/><rect x="1231" y="198" width="3" height="30" fill="#FF0000"/><rect x="1236" y="154" width="1" height="57" fill="#FF0000"/><rect x="1235" y="154" width="3" height="44" fill="#FF0000"/><rect x="1240" y="78" width="1" height="94" fill="#FF0000"/><rect x="1239" y="94" width="3" height="61" fill="#FF0000"/><rect x="1244" y="80" width="1" height="85" fill="#00FF00"/><rect x="1243" y="94" width="3" height="15" fill="#00FF00"/><rect x="1248" y="101" width="1" height="13" fill="#FF0000"/><rect x="1247" y="107" width="3" height="2" fill="#FF0000"/><rect x="1252" y="90" width="1" height="56" fill="#00FF00"/><rect x="1251" y="108" width="3" height="4" fill="#00FF00"/><rect x="1256" y="106" width="1" height="59" fill="#00FF00"/><rect x="1255" y="111" width="3" height="42" fill="#00FF00"/><rect x="1260" y="98" width="1" height="74" fill="#FF0000"/><rect x="1259" y="105" width="3" height="48" fill="#FF0000"/><rect x="1264" y="100" width="1" height="50" fill="#00FF00"/><rect x="1263" y="105" width="3" height="45" fill="#00FF00"/><rect x="1268" y="141" width="1" height="18" fill="#FF0000"/><rect x="1267" y="145" width="3" height="4" fill="#FF0000"/></g><path d="M4 469h1v1h-1zM5 470h1v1h-1zM6 471h1v1h-1zM7 471h1v1h-1zM8 472h1v1h-1zM9 473h1v1h-1zM10 474h1v1h-1zM11 474h1v1h-1zM12 475h1v1h-1zM13 476h1v1h-1zM14 477h1v1h-1zM15 477h1v1h-1zM16 478h1v1h-1zM17 479h1v1h-1zM18 479h1v1h-1zM19 480h1v1h-1zM20 480h1v1h-1zM21 480h1v1h-1zM22 481h1v1h-1zM23 481h1v1h-1zM24 481h1v1h-1zM25 481h1v1h-1zM26 481h1v1h-1zM27 481h1v1h-1zM28 481h1v1h-1zM29 481h1v1h-1zM30 481h1v1h-1zM31 481h1v1h-1zM32 481h1v1h-1zM33 481h1v1h-1zM34 480h1v1h-1zM35 480h1v1h-1zM36 480h1v1h-1zM37 480h1v1h-1zM38 480h1v1h-1zM39 480h1v1h-1zM40 480h1v1h-1zM41 480h1v1h-1zM42 479h1v1h-1zM43 479h1v1h-1zM44 479h1v1h-1zM45 479h1v1h-1zM46 479h1v1h-1zM47 479h1v1h-1zM48 479h1v1h-1zM49 479h1v1h-1zM50 479h1v1h-1zM51 479h1v1h-1zM52 479h1v1h-1zM53 479h1v1h-1zM54 478h1v1h-1zM55 478h1v1h-1zM56 478h1v1h-1zM57 478h1v1h-1zM58 478h1v1h-1zM59 478h1v1h-1zM60 478h1v1h-1zM61 478h1v1h-1zM62 478h1v1h-1zM63 478h1v1h-1zM64 478h1v1h-1zM65 478h1v1h-1zM66 478h1v1h-1zM67 478h1v1h-1zM68 478h1v1h-1zM69 478h1v1h-1zM70 478h1v1h-1zM71 478h1v1h-1zM72 478h1v1h-1zM73 478h1v1h-1zM74 479h1v1h-1zM75 479h1v1h-1zM76 479h1v1h-1zM77 479h1v1h-1zM78 478h1v1h-1zM79 478h1v1h-1zM80 478h1v1h-1zM81 478h1v1h-1zM82 478h1v1h-1zM83 478h1v1h-1zM84 478h1v1h-1zM85 478h1v1h-1zM86 478h1v1h-1zM87 478h1v1h-1zM88 478h1v1h-1zM89 478h1v1h-1zM90 478h1v1h-1zM91 478h1v1h-1zM92 478h1v1h-1zM93 478h1v1h-1zM94 478h1v1h-1zM95 478h1v1h-1zM96 478h1v1h-1zM97 478h1v1h-1zM98 478h1v1h-1zM99 478h1v1h-1zM100 478h1v1h-1zM101 478h1v1h-1zM102 478h1v1h-1zM103 478h1v1h-1zM104 478h1v1h-1zM105 478h1v1h-1zM106 478h1v1h-1zM107 478h1v1h-1zM108 478h1v1h-1zM109 478h1v1h-1zM110 479h1v1h-1zM111 479h1v1h-1zM112 479h1v1h-1zM113 479h1v1h-1zM114 479h1v1h-1zM115 479h1v1h-1zM116 479h1v1h-1zM117 479h1v1h-1zM118 479h1v1h-1zM119 479h1v1h-1zM120 479h1v1h-1zM121 479h1v1h-1zM122 479h1v1h-1zM123 479h1v1h-1zM124 479h1v1h-1zM125 479h1v1h-1zM126 478h1v1h-1zM127 478h1v1h-1zM128 478h1v1h-1zM129 478h1v1h-1zM130 477h1v1h-1zM131 477h1v1h-1zM132 477h1v1h-1zM133 477h1v1h-1zM134 476h1v1h-1zM135 476h1v1h-1zM136 476h1v1h-1zM137 476h1v1h-1zM138 475h1v1h-1zM139 475h1v1h-1zM140 475h1v1h-1zM141 475h1v1h-1zM142 475h1v1h-1zM143 475h1v1h-1zM144 475h1v1h-1zM145 475h1v1h-1zM146 474h1v1h-1zM147 474h1v1h-1zM148 474h1v1h-1zM149 474h1v1h-1zM150 474h1v1h-1zM151 474h1v1h-1zM152 474h1v1h-1zM153 474h1v1h-1zM154 474h1v1h-1zM155 474h1v1h-1zM156 474h1v1h-1zM157 474h1v1h-1zM158 474h1v1h-1zM159 474h1v1h-1zM160 474h1v1h-1zM161 474h1v1h-1zM162 474h1v1h-1zM163 474h1v1h-1zM164 474h1v1h-1zM165 474h1v1h-1zM166 473h1v1h-1zM167 473h1v1h-1zM168 473h1v1h-1zM169 471h1v2h-1zM170 470h1v1h-1zM171 468h1v2h-1zM172 467h1v1h-1zM173 466h1v1h-1zM174 464h1v2h-1zM175 463h1v1h-1zM176 462h1v1h-1zM177 460h1v2h-1zM178 459h1v1h-1zM179 457h1v2h-1zM180 456h1v1h-1zM181 455h1v1h-1zM182 453h1v2h-1zM183 452h1v1h-1zM184 451h1v1h-1zM185 449h1v2h-1zM186 447h1v2h-1zM187 445h1v2h-1zM188 444h1v1h-1zM189 442h1v2h-1zM190 440h1v2h-1zM191 438h1v2h-1zM192 437h1v1h-1zM193 435h1v2h-1zM194 433h1v2h-1zM195 431h1v2h-1zM196 430h1v1h-1zM197 428h1v2h-1zM198 427h1v1h-1zM199 425h1v2h-1zM200 424h1v1h-1zM201 422h1v2h-1zM202 420h1v2h-1zM203 418h1v2h-1zM204 417h1v1h-1zM205 415h1v2h-1zM206 414h1v1h-1zM207 412h1v2h-1zM208 411h1v1h-1zM209 409h1v2h-1zM210 408h1v1h-1zM211 406h1v2h-1zM212 405h1v1h-1zM213 403h1v2h-1zM214 402h1v1h-1zM215 400h1v2h-1zM216 399h1v1h-1zM217 397h1v2h-1zM218 396h1v1h-1zM219 394h1v2h-1zM220 393h1v1h-1zM221 391h1v2h-1zM222 390h1v1h-1zM223 388h1v2h-1zM224 387h1v1h-1zM225 385h1v2h-1zM226 383h1v2h-1zM227 381h1v2h-1zM228 379h1v2h-1zM229 377h1v2h-1zM230 376h1v1h-1zM231 374h1v2h-1zM232 373h1v1h-1zM233 371h1v2h-1zM234 369h1v2h-1zM235 367h1v2h-1zM236 366h1v1h-1zM237 364h1v2h-1zM238 363h1v1h-1zM239 361h1v2h-1zM240 360h1v1h-1zM241 358h1v2h-1zM242 357h1v1h-1zM243 355h1v2h-1zM244 354h1v1h-1zM245 352h1v2h-1zM246 351h1v1h-1zM247 349h1v2h-1zM248 348h1v1h-1zM249 347h1v1h-1zM250 345h1v2h-1zM251 344h1v1h-1zM252 343h1v1h-1zM253 341h1v2h-1zM254 340h1v1h-1zM255 338h1v2h-1zM256 337h1v1h-1zM257 335h1v2h-1zM258 334h1v1h-1zM259 332h1v2h-1zM260 331h1v1h-1zM261 329h1v2h-1zM262 328h1v1h-1zM263 326h1v2h-1zM264 325h1v1h-1zM265 323h1v2h-1zM266 322h1v1h-1zM267 320h1v2h-1zM268 319h1v1h-1zM269 317h1v2h-1zM270 316h1v1h-1zM271 314h1v2h-1zM272 313h1v1h-1zM273 312h1v1h-1zM274 310h1v2h-1zM275 309h1v1h-1zM276 308h1v1h-1zM277 306h1v2h-1zM278 305h1v1h-1zM279 303h1v2h-1zM280 302h1v1h-1zM281 300h1v2h-1zM282 299h1v1h-1zM283 297h1v2h-1zM284 296h1v1h-1zM285 294h1v2h-1zM286 293h1v1h-1zM287 291h1v2h-1zM288 290h1v1h-1zM289 290h1v1h-1zM290 290h1v1h-1zM291 290h1v1h-1zM292 290h1v1h-1zM293 290h1v1h-1zM294 290h1v1h-1zM295 290h1v1h-1zM296 290h1v1h-1zM297 290h1v1h-1zM298 290h1v1h-1zM299 290h1v1h-1zM300 290h1v1h-1zM301 290h1v1h-1zM302 291h1v1h-1zM303 291h1v1h-1zM304 291h1v1h-1zM305 292h1v1h-1zM306 293h1v1h-1zM307 293h1v1h-1zM308 294h1v1h-1zM309 295h1v1h-1zM310 295h1v1h-1zM311 296h1v1h-1zM312 296h1v1h-1zM313 297h1v1h-1zM314 297h1v1h-1zM315 298h1v1h-1zM316 298h1v1h-1zM317 299h1v1h-1zM318 299h1v1h-1zM319 300h1v1h-1zM320 300h1v1h-1zM321 300h1v1h-1zM322 301h1v1h-1zM323 301h1v1h-1zM324 301h1v1h-1zM325 302h1v1h-1zM326 302h1v1h-1zM327 303h1v1h-1zM328 303h1v1h-1zM329 303h1v1h-1zM330 304h1v1h-1zM331 304h1v1h-1zM332 304h1v1h-1zM333 304h1v1h-1zM334 305h1v1h-1zM335 305h1v1h-1zM336 305h1v1h-1zM337 306h1v1h-1zM338 306h1v1h-1zM339 307h1v1h-1zM340 307h1v1h-1zM341 307h1v1h-1zM342 308h1v1h-1zM343 308h1v1h-1zM344 308h1v1h-1zM345 308h1v1h-1zM346 309h1v1h-1zM347 309h1v1h-1zM348 309h1v1h-1zM349 309h1v1h-1zM350 310h1v1h-1zM351 310h1v1h-1zM352 310h1v1h-1zM353 310h1v1h-1zM354 311h1v1h-1zM355 311h1v1h-1zM356 311h1v1h-1zM357 312h1v1h-1zM358 312h1v1h-1zM359 313h1v1h-1zM360 313h1v1h-1zM361 313h1v1h-1zM362 314h1v1h-1zM363 314h1v1h-1zM364 314h1v1h-1zM365 314h1v1h-1zM366 315h1v1h-1zM367 315h1v1h-1zM368 315h1v1h-1zM369 315h1v1h-1zM370 316h1v1h-1zM371 316h1v1h-1zM372 316h1v1h-1zM373 317h1v1h-1zM374 317h1v1h-1zM375 318h1v1h-1zM376 318h1v1h-1zM377 319h1v1h-1zM378 319h1v1h-1zM379 320h1v1h-1zM380 320h1v1h-1zM381 321h1v1h-1zM382 321h1v1h-1zM383 322h1v1h-1zM384 322h1v1h-1zM385 323h1v1h-1zM386 323h1v1h-1zM387 324h1v1h-1zM388 324h1v1h-1zM389 324h1v1h-1zM390 325h1v1h-1zM391 325h1v1h-1zM392 325h1v1h-1zM393 326h1v1h-1zM394 326h1v1h-1zM395 327h1v1h-1zM396 327h1v1h-1zM397 327h1v1h-1zM398 328h1v1h-1zM399 328h1v1h-1zM400 328h1v1h-1zM401 329h1v1h-1zM402 329h1v1h-1zM403 330h1v1h-1zM404 330h1v1h-1zM405 330h1v1h-1zM406 331h1v1h-1zM407 331h1v1h-1zM408 331h1v1h-1zM409 332h1v1h-1zM410 332h1v1h-1zM411 333h1v1h-1zM412 333h1v1h-1zM413 333h1v1h-1zM414 333h1v1h-1zM415 333h1v1h-1zM416 333h1v1h-1zM417 333h1v1h-1zM418 334h1v1h-1zM419 334h1v1h-1zM420 334h1v1h-1zM421 334h1v1h-1zM422 334h1v1h-1zM423 334h1v1h-1zM424 334h1v1h-1zM425 334h1v1h-1zM426 334h1v1h-1zM427 334h1v1h-1zM428 334h1v1h-1zM429 334h1v1h-1zM430 333h1v1h-1zM431 333h1v1h-1zM432 333h1v1h-1zM433 333h1v1h-1zM434 332h1v1h-1zM435 332h1v1h-1zM436 332h1v1h-1zM437 332h1v1h-1zM438 332h1v1h-1zM439 332h1v1h-1zM440 332h1v1h-1zM441 332h1v1h-1zM442 332h1v1h-1zM443 332h1v1h-1zM444 332h1v1h-1zM445 332h1v1h-1zM446 331h1v1h-1zM447 331h1v1h-1zM448 331h1v1h-1zM449 330h1v1h-1zM450 329h1v1h-1zM451 329h1v1h-1zM452 328h1v1h-1zM453 327h1v1h-1zM454 326h1v1h-1zM455 326h1v1h-1zM456 325h1v1h-1zM457 323h1v2h-1zM458 321h1v2h-1zM459 319h1v2h-1zM460 318h1v1h-1zM461 317h1v1h-1zM462 315h1v2h-1zM463 314h1v1h-1zM464 313h1v1h-1zM465 311h1v2h-1zM466 310h1v1h-1zM467 308h1v2h-1zM468 307h1v1h-1zM469 305h1v2h-1zM470 304h1v1h-1zM471 302h1v2h-1zM472 301h1v1h-1zM473 299h1v2h-1zM474 298h1v1h-1zM475 296h1v2h-1zM476 295h1v1h-1zM477 293h1v2h-1zM478 292h1v1h-1zM479 290h1v2h-1zM480 289h1v1h-1zM481 287h1v2h-1zM482 286h1v1h-1zM483 284h1v2h-1zM484 283h1v1h-1zM485 282h1v1h-1zM486 281h1v1h-1zM487 281h1v1h-1zM488 280h1v1h-1zM489 278h1v2h-1zM490 277h1v1h-1zM491 275h1v2h-1zM492 274h1v1h-1zM493 273h1v1h-1zM494 271h1v2h-1zM495 270h1v1h-1zM496 269h1v1h-1zM497 268h1v1h-1zM498 266h1v2h-1zM499 265h1v1h-1zM500 264h1v1h-1zM501 263h1v1h-1zM502 261h1v2h-1zM503 260h1v1h-1zM504 259h1v1h-1zM505 258h1v1h-1zM506 256h1v2h-1zM507 255h1v1h-1zM508 254h1v1h-1zM509 252h1v2h-1zM510 251h1v1h-1zM511 249h1v2h-1zM512 248h1v1h-1zM513 246h1v2h-1zM514 245h1v1h-1zM515 243h1v2h-1zM516 242h1v1h-1zM517 240h1v2h-1zM518 239h1v1h-1zM519 237h1v2h-1zM520 236h1v1h-1zM521 234h1v2h-1zM522 232h1v2h-1zM523 230h1v2h-1zM524 229h1v1h-1zM525 227h1v2h-1zM526 225h1v2h-1zM527 223h1v2h-1zM528 221h1v2h-1zM529 219h1v2h-1zM530 217h1v2h-1zM531 215h1v2h-1zM532 212h1v3h-1zM533 210h1v2h-1zM534 208h1v2h-1zM535 206h1v2h-1zM536 204h1v2h-1zM537 202h1v2h-1zM538 200h1v2h-1zM539 198h1v2h-1zM540 195h1v3h-1zM541 193h1v2h-1zM542 191h1v2h-1zM543 189h1v2h-1zM544 187h1v2h-1zM545 185h1v2h-1zM546 183h1v2h-1zM547 181h1v2h-1zM548 179h1v2h-1zM549 177h1v2h-1zM550 175h1v2h-1zM551 173h1v2h-1zM552 170h1v3h-1zM553 168h1v2h-1zM554 166h1v2h-1zM555 164h1v2h-1zM556 161h1v3h-1zM557 159h1v2h-1zM558 157h1v2h-1zM559 155h1v2h-1zM560 153h1v2h-1zM561 151h1v2h-1zM562 149h1v2h-1zM563 147h1v2h-1zM564 146h1v1h-1zM565 144h1v2h-1zM566 142h1v2h-1zM567 140h1v2h-1zM568 139h1v1h-1zM569 138h1v1h-1zM570 137h1v1h-1zM571 136h1v1h-1zM572 135h1v1h-1zM573 134h1v1h-1zM574 133h1v1h-1zM575 132h1v1h-1zM576 131h1v1h-1zM577 131h1v1h-1zM578 130h1v1h-1zM579 130h1v1h-1zM580 130h1v1h-1zM581 129h1v1h-1zM582 129h1v1h-1zM583 128h1v1h-1zM584 128h1v1h-1zM585 128h1v1h-1zM586 128h1v1h-1zM587 128h1v1h-1zM588 128h1v1h-1zM589 128h1v1h-1zM590 128h1v1h-1zM591 128h1v1h-1zM592 128h1v1h-1zM593 129h1v1h-1zM594 129h1v1h-1zM595 130h1v1h-1zM596 130h1v1h-1zM597 130h1v1h-1zM598 131h1v1h-1zM599 131h1v1h-1zM600 131h1v1h-1zM601 131h1v1h-1zM602 132h1v1h-1zM603 132h1v1h-1zM604 132h1v1h-1zM605 131h1v1h-1zM606 131h1v1h-1zM607 130h1v1h-1zM608 130h1v1h-1zM609 130h1v1h-1zM610 129h1v1h-1zM611 129h1v1h-1zM612 129h1v1h-1zM613 129h1v1h-1zM614 128h1v1h-1zM615 128h1v1h-1zM616 128h1v1h-1zM617 128h1v1h-1zM618 127h1v1h-1zM619 127h1v1h-1zM620 127h1v1h-1zM621 126h1v1h-1zM622 126h1v1h-1zM623 125h1v1h-1zM624 125h1v1h-1zM625 124h1v1h-1zM626 124h1v1h-1zM627 123h1v1h-1zM628 123h1v1h-1zM629 123h1v1h-1zM630 122h1v1h-1zM631 122h1v1h-1zM632 122h1v1h-1zM633 121h1v1h-1zM634 121h1v1h-1zM635 120h1v1h-1zM636 120h1v1h-1zM637 120h1v1h-1zM638 119h1v1h-1zM639 119h1v1h-1zM640 119h1v1h-1zM641 119h1v1h-1zM642 119h1v1h-1zM643 119h1v1h-1zM644 119h1v1h-1zM645 119h1v1h-1zM646 118h1v1h-1zM647 118h1v1h-1zM648 118h1v1h-1zM649 118h1v1h-1zM650 119h1v1h-1zM651 119h1v1h-1zM652 119h1v1h-1zM653 119h1v1h-1zM654 120h1v1h-1zM655 120h1v1h-1zM656 120h1v1h-1zM657 120h1v1h-1zM658 120h1v1h-1zM659 120h1v1h-1zM660 120h1v1h-1zM661 120h1v1h-1zM662 121h1v1h-1zM663 121h1v1h-1zM664 121h1v1h-1zM665 121h1v1h-1zM666 122h1v1h-1zM667 122h1v1h-1zM668 122h1v1h-1zM669 123h1v1h-1zM670 123h1v1h-1zM671 124h1v1h-1zM672 124h1v1h-1zM673 125h1v1h-1zM674 125h1v1h-1zM675 126h1v1h-1zM676 126h1v1h-1zM677 126h1v1h-1zM678 126h1v1h-1zM679 126h1v1h-1zM680 126h1v1h-1zM681 126h1v1h-1zM682 127h1v1h-1zM683 127h1v1h-1zM684 127h1v1h-1zM685 127h1v1h-1zM686 128h1v1h-1zM687 128h1v1h-1zM688 128h1v1h-1zM689 128h1v1h-1zM690 129h1v1h-1zM691 129h1v1h-1zM692 129h1v1h-1zM693 129h1v1h-1zM694 129h1v1h-1zM695 129h1v1h-1zM696 129h1v1h-1zM697 130h1v1h-1zM698 130h1v1h-1zM699 131h1v1h-1zM700 131h1v1h-1zM701 131h1v1h-1zM702 132h1v1h-1zM703 132h1v1h-1zM704 132h1v1h-1zM705 132h1v1h-1zM706 132h1v1h-1zM707 132h1v1h-1zM708 132h1v1h-1zM709 132h1v1h-1zM710 132h1v1h-1zM711 132h1v1h-1zM712 132h1v1h-1zM713 131h1v1h-1zM714 131h1v1h-1zM715 130h1v1h-1zM716 130h1v1h-1zM717 130h1v1h-1zM718 129h1v1h-1zM719 129h1v1h-1zM720 129h1v1h-1zM721 129h1v1h-1zM722 129h1v1h-1zM723 129h1v1h-1zM724 129h1v1h-1zM725 129h1v1h-1zM726 129h1v1h-1zM727 129h1v1h-1zM728 129h1v1h-1zM729 129h1v1h-1zM730 130h1v1h-1zM731 130h1v1h-1zM732 130h1v1h-1zM733 130h1v1h-1zM734 131h1v1h-1zM735 131h1v1h-1zM736 131h1v1h-1zM737 131h1v1h-1zM738 132h1v1h-1zM739 132h1v1h-1zM740 132h1v1h-1zM741 133h1v1h-1zM742 133h1v1h-1zM743 134h1v1h-1zM744 134h1v1h-1zM745 134h1v1h-1zM746 135h1v1h-1zM747 135h1v1h-1zM748 135h1v1h-1zM749 135h1v1h-1zM750 136h1v1h-1zM751 136h1v1h-1zM752 136h1v1h-1zM753 137h1v1h-1zM754 138h1v1h-1zM755 138h1v1h-1zM756 139h1v1h-1zM757 140h1v1h-1zM758 140h1v1h-1zM759 141h1v1h-1zM760 141h1v1h-1zM761 142h1v1h-1zM762 143h1v1h-1zM763 143h1v1h-1zM764 144h1v1h-1zM765 145h1v1h-1zM766 146h1v1h-1zM767 146h1v1h-1zM768 147h1v1h-1zM769 148h1v1h-1zM770 149h1v1h-1zM771 150h1v1h-1zM772 151h1v1h-1zM773 152h1v1h-1zM774 153h1v1h-1zM775 154h1v1h-1zM776 155h1v1h-1zM777 156h1v1h-1zM778 157h1v1h-1zM779 158h1v1h-1zM780 159h1v1h-1zM781 160h1v1h-1zM782 161h1v2h-1zM783 163h1v1h-1zM784 164h1v1h-1zM785 165h1v1h-1zM786 166h1v1h-1zM787 167h1v1h-1zM788 168h1v1h-1zM789 169h1v1h-1zM790 170h1v1h-1zM791 170h1v1h-1zM792 171h1v1h-1zM793 172h1v1h-1zM794 173h1v1h-1zM795 174h1v1h-1zM796 175h1v1h-1zM797 176h1v1h-1zM798 177h1v1h-1zM799 178h1v1h-1zM800 179h1v1h-1zM801 180h1v1h-1zM802 181h1v1h-1zM803 181h1v1h-1zM804 182h1v1h-1zM805 183h1v1h-1zM806 183h1v1h-1zM807 184h1v1h-1zM808 184h1v1h-1zM809 185h1v1h-1zM810 186h1v1h-1zM811 186h1v1h-1zM812 187h1v1h-1zM813 188h1v1h-1zM814 188h1v1h-1zM815 189h1v1h-1zM816 189h1v1h-1zM817 189h1v1h-1zM818 190h1v1h-1zM819 190h1v1h-1zM820 190h1v1h-1zM821 191h1v1h-1zM822 191h1v1h-1zM823 192h1v1h-1zM824 192h1v1h-1zM825 192h1v1h-1zM826 193h1v1h-1zM827 193h1v1h-1zM828 193h1v1h-1zM829 194h1v1h-1zM830 194h1v1h-1zM831 195h1v1h-1zM832 195h1v1h-1zM833 195h1v1h-1zM834 196h1v1h-1zM835 196h1v1h-1zM836 196h1v1h-1zM837 196h1v1h-1zM838 197h1v1h-1zM839 197h1v1h-1zM840 197h1v1h-1zM841 197h1v1h-1zM842 198h1v1h-1zM843 198h1v1h-1zM844 198h1v1h-1zM845 199h1v1h-1zM846 199h1v1h-1zM847 200h1v1h-1zM848 200h1v1h-1zM849 200h1v1h-1zM850 201h1v1h-1zM851 201h1v1h-1zM852 201h1v1h-1zM853 201h1v1h-1zM854 202h1v1h-1zM855 202h1v1h-1zM856 202h1v1h-1zM857 202h1v1h-1zM858 203h1v1h-1zM859 203h1v1h-1zM860 203h1v1h-1zM861 203h1v1h-1zM862 204h1v1h-1zM863 204h1v1h-1zM864 204h1v1h-1zM865 204h1v1h-1zM866 204h1v1h-1zM867 204h1v1h-1zM868 204h1v1h-1zM869 204h1v1h-1zM870 204h1v1h-1zM871 204h1v1h-1zM872 204h1v1h-1zM873 204h1v1h-1zM874 204h1v1h-1zM875 204h1v1h-1zM876 204h1v1h-1zM877 204h1v1h-1zM878 204h1v1h-1zM879 204h1v1h-1zM880 204h1v1h-1zM881 204h1v1h-1zM882 204h1v1h-1zM883 204h1v1h-1zM884 204h1v1h-1zM885 204h1v1h-1zM886 205h1v1h-1zM887 205h1v1h-1zM888 205h1v1h-1zM889 205h1v1h-1zM890 204h1v1h-1zM891 204h1v1h-1zM892 204h1v1h-1zM893 204h1v1h-1zM894 204h1v1h-1zM895 204h1v1h-1zM896 204h1v1h-1zM897 203h1v1h-1zM898 203h1v1h-1zM899 202h1v1h-1zM900 202h1v1h-1zM901 202h1v1h-1zM902 202h1v1h-1zM903 202h1v1h-1zM904 202h1v1h-1zM905 202h1v1h-1zM906 202h1v1h-1zM907 202h1v1h-1zM908 202h1v1h-1zM909 202h1v1h-1zM910 201h1v1h-1zM911 201h1v1h-1zM912 201h1v1h-1zM913 201h1v1h-1zM914 202h1v1h-1zM915 202h1v1h-1zM916 202h1v1h-1zM917 202h1v1h-1zM918 202h1v1h-1zM919 202h1v1h-1zM920 202h1v1h-1zM921 202h1v1h-1zM922 203h1v1h-1zM923 203h1v1h-1zM924 203h1v1h-1zM925 203h1v1h-1zM926 204h1v1h-1zM927 204h1v1h-1zM928 204h1v1h-1zM929 204h1v1h-1zM930 204h1v1h-1zM931 204h1v1h-1zM932 204h1v1h-1zM933 204h1v1h-1zM934 204h1v1h-1zM935 204h1v1h-1zM936 204h1v1h-1zM937 204h1v1h-1zM938 205h1v1h-1zM939 205h1v1h-1zM940 205h1v1h-1zM941 205h1v1h-1zM942 205h1v1h-1zM943 205h1v1h-1zM944 205h1v1h-1zM945 205h1v1h-1zM946 206h1v1h-1zM947 206h1v1h-1zM948 206h1v1h-1zM949 207h1v1h-1zM950 207h1v1h-1zM951 208h1v1h-1zM952 208h1v1h-1zM953 208h1v1h-1zM954 209h1v1h-1zM955 209h1v1h-1zM956 209h1v1h-1zM957 210h1v1h-1zM958 210h1v1h-1zM959 211h1v1h-1zM960 211h1v1h-1zM961 211h1v1h-1zM962 212h1v1h-1zM963 212h1v1h-1zM964 212h1v1h-1zM965 213h1v1h-1zM966 213h1v1h-1zM967 214h1v1h-1zM968 214h1v1h-1zM969 215h1v1h-1zM970 215h1v1h-1zM971 216h1v1h-1zM972 216h1v1h-1zM973 217h1v1h-1zM974 217h1v1h-1zM975 218h1v1h-1zM976 218h1v1h-1zM977 219h1v1h-1zM978 219h1v1h-1zM979 220h1v1h-1zM980 220h1v1h-1zM981 221h1v1h-1zM982 221h1v1h-1zM983 222h1v1h-1zM984 222h1v1h-1zM985 223h1v1h-1zM986 223h1v1h-1zM987 224h1v1h-1zM988 224h1v1h-1zM989 225h1v1h-1zM990 226h1v1h-1zM991 227h1v1h-1zM992 228h1v1h-1zM993 229h1v1h-1zM994 230h1v1h-1zM995 230h1v1h-1zM996 231h1v1h-1zM997 232h1v1h-1zM998 233h1v1h-1zM999 234h1v1h-1zM1000 235h1v1h-1zM1001 236h1v1h-1zM1002 237h1v1h-1zM1003 237h1v1h-1zM1004 238h1v1h-1zM1005 239h1v1h-1zM1006 240h1v1h-1zM1007 241h1v1h-1zM1008 242h1v1h-1zM1009 243h1v1h-1zM1010 244h1v1h-1zM1011 245h1v1h-1zM1012 246h1v1h-1zM1013 247h1v1h-1zM1014 248h1v1h-1zM1015 249h1v1h-1zM1016 250h1v1h-1zM1017 251h1v1h-1zM1018 252h1v2h-1zM1019 254h1v1h-1zM1020 255h1v1h-1zM1021 256h1v1h-1zM1022 257h1v1h-1zM1023 257h1v1h-1zM1024 258h1v1h-1zM1025 259h1v1h-1zM1026 260h1v1h-1zM1027 261h1v1h-1zM1028 262h1v1h-1zM1029 263h1v1h-1zM1030 264h1v1h-1zM1031 265h1v1h-1zM1032 266h1v1h-1zM1033 267h1v1h-1zM1034 268h1v1h-1zM1035 269h1v1h-1zM1036 270h1v1h-1zM1037 271h1v1h-1zM1038 272h1v1h-1zM1039 272h1v1h-1zM1040 273h1v1h-1zM1041 274h1v1h-1zM1042 274h1v1h-1zM1043 275h1v1h-1zM1044 275h1v1h-1zM1045 276h1v1h-1zM1046 276h1v1h-1zM1047 277h1v1h-1zM1048 277h1v1h-1zM1049 278h1v1h-1zM1050 278h1v1h-1zM1051 279h1v1h-1zM1052 279h1v1h-1zM1053 280h1v1h-1zM1054 280h1v1h-1zM1055 281h1v1h-1zM1056 281h1v1h-1zM1057 281h1v1h-1zM1058 282h1v1h-1zM1059 282h1v1h-1zM1060 282h1v1h-1zM1061 282h1v1h-1zM1062 283h1v1h-1zM1063 283h1v1h-1zM1064 283h1v1h-1zM1065 283h1v1h-1zM1066 284h1v1h-1zM1067 284h1v1h-1zM1068 284h1v1h-1zM1069 284h1v1h-1zM1070 283h1v1h-1zM1071 283h1v1h-1zM1072 283h1v1h-1zM1073 283h1v1h-1zM1074 283h1v1h-1zM1075 283h1v1h-1zM1076 283h1v1h-1zM1077 283h1v1h-1zM1078 283h1v1h-1zM1079 283h1v1h-1zM1080 283h1v1h-1zM1081 283h1v1h-1zM1082 282h1v1h-1zM1083 282h1v1h-1zM1084 282h1v1h-1zM1085 282h1v1h-1zM1086 281h1v1h-1zM1087 281h1v1h-1zM1088 281h1v1h-1zM1089 281h1v1h-1zM1090 281h1v1h-1zM1091 281h1v1h-1zM1092 281h1v1h-1zM1093 281h1v1h-1zM1094 280h1v1h-1zM1095 280h1v1h-1zM1096 280h1v1h-1zM1097 280h1v1h-1zM1098 279h1v1h-1zM1099 279h1v1h-1zM1100 279h1v1h-1zM1101 279h1v1h-1zM1102 278h1v1h-1zM1103 278h1v1h-1zM1104 278h1v1h-1zM1105 278h1v1h-1zM1106 277h1v1h-1zM1107 277h1v1h-1zM1108 277h1v1h-1zM1109 277h1v1h-1zM1110 276h1v1h-1zM1111 276h1v1h-1zM1112 276h1v1h-1zM1113 276h1v1h-1zM1114 275h1v1h-1zM1115 275h1v1h-1zM1116 275h1v1h-1zM1117 275h1v1h-1zM1118 274h1v1h-1zM1119 274h1v1h-1zM1120 274h1v1h-1zM1121 273h1v1h-1zM1122 272h1v1h-1zM1123 272h1v1h-1zM1124 271h1v1h-1zM1125 270h1v1h-1zM1126 270h1v1h-1zM1127 269h1v1h-1zM1128 269h1v1h-1zM1129 268h1v1h-1zM1130 267h1v1h-1zM1131 267h1v1h-1zM1132 266h1v1h-1zM1133 265h1v1h-1zM1134 264h1v1h-1zM1135 263h1v1h-1zM1136 262h1v1h-1zM1137 261h1v1h-1zM1138 260h1v1h-1zM1139 260h1v1h-1zM1140 259h1v1h-1zM1141 258h1v1h-1zM1142 256h1v2h-1zM1143 255h1v1h-1zM1144 254h1v1h-1zM1145 253h1v1h-1zM1146 251h1v2h-1zM1147 250h1v1h-1zM1148 249h1v1h-1zM1149 248h1v1h-1zM1150 246h1v2h-1zM1151 245h1v1h-1zM1152 244h1v1h-1zM1153 243h1v1h-1zM1154 241h1v2h-1zM1155 240h1v1h-1zM1156 239h1v1h-1zM1157 238h1v1h-1zM1158 237h1v1h-1zM1159 237h1v1h-1zM1160 236h1v1h-1zM1161 235h1v1h-1zM1162 234h1v1h-1zM1163 233h1v1h-1zM1164 232h1v1h-1zM1165 231h1v1h-1zM1166 231h1v1h-1zM1167 230h1v1h-1zM1168 230h1v1h-1zM1169 229h1v1h-1zM1170 229h1v1h-1zM1171 228h1v1h-1zM1172 228h1v1h-1zM1173 228h1v1h-1zM1174 227h1v1h-1zM1175 227h1v1h-1zM1176 227h1v1h-1zM1177 227h1v1h-1zM1178 228h1v1h-1zM1179 228h1v1h-1zM1180 228h1v1h-1zM1181 228h1v1h-1zM1182 229h1v1h-1zM1183 229h1v1h-1zM1184 229h1v1h-1zM1185 229h1v1h-1zM1186 230h1v1h-1zM1187 230h1v1h-1zM1188 230h1v1h-1zM1189 231h1v1h-1zM1190 231h1v1h-1zM1191 232h1v1h-1zM1192 232h1v1h-1zM1193 233h1v1h-1zM1194 233h1v1h-1zM1195 234h1v1h-1zM1196 234h1v1h-1zM1197 235h1v1h-1zM1198 235h1v1h-1zM1199 236h1v1h-1zM1200 236h1v1h-1zM1201 237h1v1h-1zM1202 237h1v1h-1zM1203 238h1v1h-1zM1204 238h1v1h-1zM1205 238h1v1h-1zM1206 239h1v1h-1zM1207 239h1v1h-1zM1208 239h1v1h-1zM1209 239h1v1h-1zM1210 239h1v1h-1zM1211 239h1v1h-1zM1212 239h1v1h-1zM1213 238h1v1h-1zM1214 238h1v1h-1zM1215 237h1v1h-1zM1216 237h1v1h-1zM1217 237h1v1h-1zM1218 236h1v1h-1zM1219 236h1v1h-1zM1220 236h1v1h-1zM1221 236h1v1h-1zM1222 236h1v1h-1zM1223 236h1v1h-1zM1224 236h1v1h-1zM1225 236h1v1h-1zM1226 236h1v1h-1zM1227 236h1v1h-1zM1228 236h1v1h-1zM1229 235h1v1h-1zM1230 235h1v1h-1zM1231 234h1v1h-1zM1232 234h1v1h-1zM1233 233h1v1h-1zM1234 232h1v1h-1zM1235 232h1v1h-1zM1236 231h1v1h-1zM1237 230h1v1h-1zM1238 228h1v2h-1zM1239 227h1v1h-1zM1240 226h1v1h-1zM1241 225h1v1h-1zM1242 224h1v1h-1zM1243 223h1v1h-1zM1244 222h1v1h-1zM1245 221h1v1h-1zM1246 219h1v2h-1zM1247 218h1v1h-1zM1248 217h1v1h-1zM1249 216h1v1h-1zM1250 215h1v1h-1zM1251 214h1v1h-1zM1252 213h1v1h-1zM1253 212h1v1h-1zM1254 212h1v1h-1zM1255 211h1v1h-1zM1256 211h1v1h-1zM1257 210h1v1h-1zM1258 209h1v1h-1zM1259 208h1v1h-1zM1260 207h1v1h-1zM1261 207h1v1h-1zM1262 206h1v1h-1zM1263 206h1v1h-1zM1264 206h1v1h-1zM1265 205h1v1h-1zM1266 205h1v1h-1zM1267 204h1v1h-1zM1268 204h1v1h-1z" fill="#0000CD" shape-rendering="crispEdges"/><path d="M4 481h1v1h-1zM5 481h1v1h-1zM6 482h1v1h-1zM7 482h1v1h-1zM8 482h1v1h-1zM9 482h1v1h-1zM10 483h1v1h-1zM11 483h1v1h-1zM12 483h1v1h-1zM13 483h1v1h-1zM14 484h1v1h-1zM15 484h1v1h-1zM16 484h1v1h-1zM17 484h1v1h-1zM18 483h1v1h-1zM19 483h1v1h-1zM20 483h1v1h-1zM21 483h1v1h-1zM22 482h1v1h-1zM23 482h1v1h-1zM24 482h1v1h-1zM25 482h1v1h-1zM26 482h1v1h-1zM27 482h1v1h-1zM28 482h1v1h-1zM29 482h1v1h-1zM30 481h1v1h-1zM31 481h1v1h-1zM32 481h1v1h-1zM33 480h1v1h-1zM34 480h1v1h-1zM35 479h1v1h-1zM36 479h1v1h-1zM37 478h1v1h-1zM38 477h1v1h-1zM39 477h1v1h-1zM40 476h1v1h-1zM41 476h1v1h-1zM42 476h1v1h-1zM43 476h1v1h-1zM44 476h1v1h-1zM45 476h1v1h-1zM46 475h1v1h-1zM47 475h1v1h-1zM48 475h1v1h-1zM49 475h1v1h-1zM50 475h1v1h-1zM51 475h1v1h-1zM52 475h1v1h-1zM53 475h1v1h-1zM54 474h1v1h-1zM55 474h1v1h-1zM56 474h1v1h-1zM57 474h1v1h-1zM58 475h1v1h-1zM59 475h1v1h-1zM60 475h1v1h-1zM61 475h1v1h-1zM62 474h1v1h-1zM63 474h1v1h-1zM64 474h1v1h-1zM65 474h1v1h-1zM66 474h1v1h-1zM67 474h1v1h-1zM68 474h1v1h-1zM69 474h1v1h-1zM70 473h1v1h-1zM71 473h1v1h-1zM72 473h1v1h-1zM73 473h1v1h-1zM74 474h1v1h-1zM75 474h1v1h-1zM76 474h1v1h-1zM77 474h1v1h-1zM78 475h1v1h-1zM79 475h1v1h-1zM80 475h1v1h-1zM81 475h1v1h-1zM82 474h1v1h-1zM83 474h1v1h-1zM84 474h1v1h-1zM85 474h1v1h-1zM86 474h1v1h-1zM87 474h1v1h-1zM88 474h1v1h-1zM89 475h1v1h-1zM90 475h1v1h-1zM91 476h1v1h-1zM92 476h1v1h-1zM93 477h1v1h-1zM94 477h1v1h-1zM95 478h1v1h-1zM96 478h1v1h-1zM97 478h1v1h-1zM98 479h1v1h-1zM99 479h1v1h-1zM100 479h1v1h-1zM101 479h1v1h-1zM102 480h1v1h-1zM103 480h1v1h-1zM104 480h1v1h-1zM105 481h1v1h-1zM106 481h1v1h-1zM107 482h1v1h-1zM108 482h1v1h-1zM109 482h1v1h-1zM110 483h1v1h-1zM111 483h1v1h-1zM112 483h1v1h-1zM113 483h1v1h-1zM114 484h1v1h-1zM115 484h1v1h-1zM116 484h1v1h-1zM117 484h1v1h-1zM118 484h1v1h-1zM119 484h1v1h-1zM120 484h1v1h-1zM121 484h1v1h-1zM122 483h1v1h-1zM123 483h1v1h-1zM124 483h1v1h-1zM125 482h1v1h-1zM126 482h1v1h-1zM127 481h1v1h-1zM128 481h1v1h-1zM129 480h1v1h-1zM130 480h1v1h-1zM131 479h1v1h-1zM132 479h1v1h-1zM133 479h1v1h-1zM134 478h1v1h-1zM135 478h1v1h-1zM136 478h1v1h-1zM137 478h1v1h-1zM138 477h1v1h-1zM139 477h1v1h-1zM140 477h1v1h-1zM141 477h1v1h-1zM142 476h1v1h-1zM143 476h1v1h-1zM144 476h1v1h-1zM145 475h1v1h-1zM146 475h1v1h-1zM147 474h1v1h-1zM148 474h1v1h-1zM149 474h1v1h-1zM150 473h1v1h-1zM151 473h1v1h-1zM152 473h1v1h-1zM153 472h1v1h-1zM154 471h1v1h-1zM155 471h1v1h-1zM156 470h1v1h-1zM157 469h1v1h-1zM158 469h1v1h-1zM159 468h1v1h-1zM160 468h1v1h-1zM161 467h1v1h-1zM162 466h1v1h-1zM163 466h1v1h-1zM164 465h1v1h-1zM165 464h1v1h-1zM166 464h1v1h-1zM167 463h1v1h-1zM168 462h1v2h-1zM169 459h1v3h-1zM170 455h1v4h-1zM171 452h1v3h-1zM172 449h1v3h-1zM173 446h1v3h-1zM174 443h1v3h-1zM175 440h1v3h-1zM176 437h1v3h-1zM177 434h1v3h-1zM178 432h1v2h-1zM179 429h1v3h-1zM180 426h1v3h-1zM181 423h1v3h-1zM182 420h1v3h-1zM183 417h1v3h-1zM184 414h1v3h-1zM185 411h1v3h-1zM186 408h1v3h-1zM187 405h1v3h-1zM188 402h1v3h-1zM189 398h1v4h-1zM190 395h1v3h-1zM191 391h1v4h-1zM192 388h1v3h-1zM193 385h1v3h-1zM194 382h1v3h-1zM195 379h1v3h-1zM196 376h1v3h-1zM197 373h1v3h-1zM198 369h1v4h-1zM199 366h1v3h-1zM200 363h1v3h-1zM201 360h1v3h-1zM202 357h1v3h-1zM203 354h1v3h-1zM204 351h1v3h-1zM205 348h1v3h-1zM206 344h1v4h-1zM207 341h1v3h-1zM208 338h1v3h-1zM209 335h1v3h-1zM210 333h1v2h-1zM211 330h1v3h-1zM212 327h1v3h-1zM213 324h1v3h-1zM214 322h1v2h-1zM215 319h1v3h-1zM216 316h1v3h-1zM217 313h1v3h-1zM218 311h1v2h-1zM219 308h1v3h-1zM220 305h1v3h-1zM221 302h1v3h-1zM222 300h1v2h-1zM223 297h1v3h-1zM224 295h1v2h-1zM225 295h1v1h-1zM226 294h1v1h-1zM227 294h1v1h-1zM228 294h1v1h-1zM229 293h1v1h-1zM230 293h1v1h-1zM231 292h1v1h-1zM232 292h1v1h-1zM233 291h1v1h-1zM234 291h1v1h-1zM235 290h1v1h-1zM236 290h1v1h-1zM237 290h1v1h-1zM238 289h1v1h-1zM239 289h1v1h-1zM240 289h1v1h-1zM241 289h1v1h-1zM242 290h1v1h-1zM243 290h1v1h-1zM244 290h1v1h-1zM245 290h1v1h-1zM246 291h1v1h-1zM247 291h1v1h-1zM248 291h1v1h-1zM249 291h1v1h-1zM250 292h1v1h-1zM251 292h1v1h-1zM252 292h1v1h-1zM253 292h1v1h-1zM254 293h1v1h-1zM255 293h1v1h-1zM256 293h1v1h-1zM257 293h1v1h-1zM258 292h1v1h-1zM259 292h1v1h-1zM260 292h1v1h-1zM261 292h1v1h-1zM262 291h1v1h-1zM263 291h1v1h-1zM264 291h1v1h-1zM265 291h1v1h-1zM266 290h1v1h-1zM267 290h1v1h-1zM268 290h1v1h-1zM269 290h1v1h-1zM270 289h1v1h-1zM271 289h1v1h-1zM272 289h1v1h-1zM273 289h1v1h-1zM274 288h1v1h-1zM275 288h1v1h-1zM276 288h1v1h-1zM277 288h1v1h-1zM278 287h1v1h-1zM279 287h1v1h-1zM280 287h1v1h-1zM281 287h1v1h-1zM282 287h1v1h-1zM283 287h1v1h-1zM284 287h1v1h-1zM285 287h1v1h-1zM286 286h1v1h-1zM287 286h1v1h-1zM288 286h1v1h-1zM289 286h1v1h-1zM290 286h1v1h-1zM291 286h1v1h-1zM292 286h1v1h-1zM293 287h1v1h-1zM294 287h1v1h-1zM295 288h1v1h-1zM296 288h1v1h-1zM297 288h1v1h-1zM298 289h1v1h-1zM299 289h1v1h-1zM300 289h1v1h-1zM301 290h1v1h-1zM302 291h1v2h-1zM303 293h1v1h-1zM304 294h1v1h-1zM305 295h1v1h-1zM306 296h1v1h-1zM307 296h1v1h-1zM308 297h1v1h-1zM309 298h1v1h-1zM310 299h1v1h-1zM311 300h1v1h-1zM312 301h1v1h-1zM313 302h1v1h-1zM314 303h1v1h-1zM315 304h1v1h-1zM316 305h1v1h-1zM317 306h1v1h-1zM318 307h1v2h-1zM319 309h1v1h-1zM320 310h1v1h-1zM321 311h1v1h-1zM322 312h1v1h-1zM323 312h1v1h-1zM324 313h1v1h-1zM325 314h1v1h-1zM326 315h1v1h-1zM327 315h1v1h-1zM328 316h1v1h-1zM329 317h1v1h-1zM330 318h1v1h-1zM331 319h1v1h-1zM332 320h1v1h-1zM333 321h1v1h-1zM334 322h1v1h-1zM335 323h1v1h-1zM336 324h1v1h-1zM337 325h1v1h-1zM338 326h1v2h-1zM339 328h1v1h-1zM340 329h1v1h-1zM341 330h1v1h-1zM342 331h1v1h-1zM343 331h1v1h-1zM344 332h1v1h-1zM345 333h1v1h-1zM346 334h1v1h-1zM347 334h1v1h-1zM348 335h1v1h-1zM349 336h1v1h-1zM350 336h1v1h-1zM351 337h1v1h-1zM352 337h1v1h-1zM353 337h1v1h-1zM354 337h1v1h-1zM355 337h1v1h-1zM356 337h1v1h-1zM357 336h1v1h-1zM358 336h1v1h-1zM359 335h1v1h-1zM360 335h1v1h-1zM361 334h1v1h-1zM362 334h1v1h-1zM363 333h1v1h-1zM364 333h1v1h-1zM365 333h1v1h-1zM366 332h1v1h-1zM367 332h1v1h-1zM368 332h1v1h-1zM369 332h1v1h-1zM370 332h1v1h-1zM371 332h1v1h-1zM372 332h1v1h-1zM373 332h1v1h-1zM374 332h1v1h-1zM375 332h1v1h-1zM376 332h1v1h-1zM377 332h1v1h-1zM378 332h1v1h-1zM379 332h1v1h-1zM380 332h1v1h-1zM381 332h1v1h-1zM382 332h1v1h-1zM383 332h1v1h-1zM384 332h1v1h-1zM385 332h1v1h-1zM386 332h1v1h-1zM387 332h1v1h-1zM388 332h1v1h-1zM389 332h1v1h-1zM390 331h1v1h-1zM391 331h1v1h-1zM392 331h1v1h-1zM393 331h1v1h-1zM394 331h1v1h-1zM395 331h1v1h-1zM396 331h1v1h-1zM397 331h1v1h-1zM398 330h1v1h-1zM399 330h1v1h-1zM400 330h1v1h-1zM401 330h1v1h-1zM402 331h1v1h-1zM403 331h1v1h-1zM404 331h1v1h-1zM405 331h1v1h-1zM406 330h1v1h-1zM407 330h1v1h-1zM408 330h1v1h-1zM409 331h1v1h-1zM410 331h1v1h-1zM411 332h1v1h-1zM412 332h1v1h-1zM413 332h1v1h-1zM414 332h1v1h-1zM415 332h1v1h-1zM416 332h1v1h-1zM417 332h1v1h-1zM418 333h1v1h-1zM419 333h1v1h-1zM420 333h1v1h-1zM421 334h1v1h-1zM422 334h1v1h-1zM423 335h1v1h-1zM424 335h1v1h-1zM425 335h1v1h-1zM426 334h1v1h-1zM427 334h1v1h-1zM428 334h1v1h-1zM429 334h1v1h-1zM430 333h1v1h-1zM431 333h1v1h-1zM432 333h1v1h-1zM433 333h1v1h-1zM434 333h1v1h-1zM435 333h1v1h-1zM436 333h1v1h-1zM437 333h1v1h-1zM438 332h1v1h-1zM439 332h1v1h-1zM440 332h1v1h-1zM441 332h1v1h-1zM442 331h1v1h-1zM443 331h1v1h-1zM444 331h1v1h-1zM445 331h1v1h-1zM446 330h1v1h-1zM447 330h1v1h-1zM448 330h1v1h-1zM449 328h1v2h-1zM450 326h1v2h-1zM451 324h1v2h-1zM452 323h1v1h-1zM453 321h1v2h-1zM454 320h1v1h-1zM455 318h1v2h-1zM456 316h1v2h-1zM457 313h1v3h-1zM458 309h1v4h-1zM459 306h1v3h-1zM460 303h1v3h-1zM461 300h1v3h-1zM462 298h1v2h-1zM463 295h1v3h-1zM464 292h1v3h-1zM465 289h1v3h-1zM466 285h1v4h-1zM467 282h1v3h-1zM468 279h1v3h-1zM469 276h1v3h-1zM470 273h1v3h-1zM471 270h1v3h-1zM472 267h1v3h-1zM473 263h1v4h-1zM474 260h1v3h-1zM475 256h1v4h-1zM476 253h1v3h-1zM477 249h1v4h-1zM478 245h1v4h-1zM479 241h1v4h-1zM480 238h1v3h-1zM481 235h1v3h-1zM482 231h1v4h-1zM483 228h1v3h-1zM484 225h1v3h-1zM485 223h1v2h-1zM486 221h1v2h-1zM487 219h1v2h-1zM488 216h1v3h-1zM489 214h1v2h-1zM490 211h1v3h-1zM491 209h1v2h-1zM492 206h1v3h-1zM493 204h1v2h-1zM494 201h1v3h-1zM495 199h1v2h-1zM496 196h1v3h-1zM497 194h1v2h-1zM498 191h1v3h-1zM499 189h1v2h-1zM500 186h1v3h-1zM501 184h1v2h-1zM502 182h1v2h-1zM503 180h1v2h-1zM504 178h1v2h-1zM505 176h1v2h-1zM506 175h1v1h-1zM507 173h1v2h-1zM508 172h1v1h-1zM509 170h1v2h-1zM510 169h1v1h-1zM511 167h1v2h-1zM512 166h1v1h-1zM513 167h1v1h-1zM514 167h1v1h-1zM515 168h1v1h-1zM516 168h1v1h-1zM517 167h1v1h-1zM518 167h1v1h-1zM519 166h1v1h-1zM520 166h1v1h-1zM521 165h1v1h-1zM522 164h1v1h-1zM523 164h1v1h-1zM524 163h1v1h-1zM525 162h1v1h-1zM526 161h1v1h-1zM527 160h1v1h-1zM528 159h1v1h-1zM529 158h1v1h-1zM530 156h1v2h-1zM531 155h1v1h-1zM532 154h1v1h-1zM533 153h1v1h-1zM534 152h1v1h-1zM535 151h1v1h-1zM536 150h1v1h-1zM537 149h1v1h-1zM538 147h1v2h-1zM539 146h1v1h-1zM540 145h1v1h-1zM541 143h1v2h-1zM542 141h1v2h-1zM543 139h1v2h-1zM544 137h1v2h-1zM545 135h1v2h-1zM546 133h1v2h-1zM547 131h1v2h-1zM548 130h1v1h-1zM549 128h1v2h-1zM550 126h1v2h-1zM551 124h1v2h-1zM552 122h1v2h-1zM553 120h1v2h-1zM554 118h1v2h-1zM555 116h1v2h-1zM556 113h1v3h-1zM557 111h1v2h-1zM558 109h1v2h-1zM559 107h1v2h-1zM560 105h1v2h-1zM561 104h1v1h-1zM562 102h1v2h-1zM563 101h1v1h-1zM564 100h1v1h-1zM565 99h1v1h-1zM566 98h1v1h-1zM567 97h1v1h-1zM568 96h1v1h-1zM569 95h1v1h-1zM570 94h1v1h-1zM571 94h1v1h-1zM572 93h1v1h-1zM573 93h1v1h-1zM574 92h1v1h-1zM575 92h1v1h-1zM576 92h1v1h-1zM577 92h1v1h-1zM578 92h1v1h-1zM579 92h1v1h-1zM580 92h1v1h-1zM581 93h1v1h-1zM582 93h1v1h-1zM583 94h1v1h-1zM584 94h1v1h-1zM585 95h1v1h-1zM586 96h1v1h-1zM587 97h1v1h-1zM588 98h1v1h-1zM589 99h1v2h-1zM590 101h1v1h-1zM591 102h1v2h-1zM592 104h1v2h-1zM593 106h1v2h-1zM594 108h1v2h-1zM595 110h1v2h-1zM596 112h1v2h-1zM597 114h1v2h-1zM598 116h1v1h-1zM599 117h1v2h-1zM600 119h1v1h-1zM601 120h1v2h-1zM602 122h1v2h-1zM603 124h1v2h-1zM604 126h1v1h-1zM605 127h1v1h-1zM606 128h1v2h-1zM607 130h1v1h-1zM608 131h1v1h-1zM609 132h1v2h-1zM610 134h1v1h-1zM611 135h1v2h-1zM612 137h1v1h-1zM613 138h1v2h-1zM614 140h1v1h-1zM615 141h1v2h-1zM616 143h1v1h-1zM617 144h1v1h-1zM618 145h1v1h-1zM619 145h1v1h-1zM620 146h1v1h-1zM621 147h1v1h-1zM622 147h1v1h-1zM623 148h1v1h-1zM624 148h1v1h-1zM625 148h1v1h-1zM626 148h1v1h-1zM627 148h1v1h-1zM628 148h1v1h-1zM629 148h1v1h-1zM630 148h1v1h-1zM631 148h1v1h-1zM632 148h1v1h-1zM633 148h1v1h-1zM634 147h1v1h-1zM635 147h1v1h-1zM636 147h1v1h-1zM637 147h1v1h-1zM638 146h1v1h-1zM639 146h1v1h-1zM640 146h1v1h-1zM641 145h1v1h-1zM642 145h1v1h-1zM643 144h1v1h-1zM644 144h1v1h-1zM645 143h1v1h-1zM646 141h1v2h-1zM647 140h1v1h-1zM648 139h1v1h-1zM649 137h1v2h-1zM650 135h1v2h-1zM651 133h1v2h-1zM652 132h1v1h-1zM653 130h1v2h-1zM654 128h1v2h-1zM655 126h1v2h-1zM656 125h1v1h-1zM657 124h1v1h-1zM658 122h1v2h-1zM659 121h1v1h-1zM660 120h1v1h-1zM661 119h1v1h-1zM662 118h1v1h-1zM663 118h1v1h-1zM664 117h1v1h-1zM665 116h1v1h-1zM666 116h1v1h-1zM667 115h1v1h-1zM668 115h1v1h-1zM669 115h1v1h-1zM670 114h1v1h-1zM671 114h1v1h-1zM672 114h1v1h-1zM673 113h1v1h-1zM674 112h1v1h-1zM675 112h1v1h-1zM676 111h1v1h-1zM677 110h1v1h-1zM678 110h1v1h-1zM679 109h1v1h-1zM680 109h1v1h-1zM681 108h1v1h-1zM682 108h1v1h-1zM683 107h1v1h-1zM684 107h1v1h-1zM685 107h1v1h-1zM686 107h1v1h-1zM687 107h1v1h-1zM688 107h1v1h-1zM689 108h1v1h-1zM690 109h1v1h-1zM691 110h1v1h-1zM692 111h1v1h-1zM693 112h1v1h-1zM694 113h1v1h-1zM695 113h1v1h-1zM696 114h1v1h-1zM697 115h1v1h-1zM698 116h1v1h-1zM699 117h1v1h-1zM700 118h1v1h-1zM701 119h1v1h-1zM702 120h1v1h-1zM703 121h1v1h-1zM704 122h1v1h-1zM705 123h1v1h-1zM706 124h1v1h-1zM707 124h1v1h-1zM708 125h1v1h-1zM709 126h1v1h-1zM710 127h1v1h-1zM711 128h1v1h-1zM712 129h1v1h-1zM713 130h1v1h-1zM714 131h1v2h-1zM715 133h1v1h-1zM716 134h1v1h-1zM717 135h1v1h-1zM718 136h1v1h-1zM719 136h1v1h-1zM720 137h1v1h-1zM721 138h1v1h-1zM722 139h1v1h-1zM723 139h1v1h-1zM724 140h1v1h-1zM725 141h1v1h-1zM726 141h1v1h-1zM727 142h1v1h-1zM728 142h1v1h-1zM729 143h1v1h-1zM730 144h1v2h-1zM731 146h1v1h-1zM732 147h1v1h-1zM733 148h1v1h-1zM734 149h1v2h-1zM735 151h1v1h-1zM736 152h1v1h-1zM737 153h1v1h-1zM738 154h1v2h-1zM739 156h1v1h-1zM740 157h1v1h-1zM741 158h1v1h-1zM742 159h1v1h-1zM743 159h1v1h-1zM744 160h1v1h-1zM745 161h1v1h-1zM746 161h1v1h-1zM747 162h1v1h-1zM748 162h1v1h-1zM749 162h1v1h-1zM750 162h1v1h-1zM751 162h1v1h-1zM752 162h1v1h-1zM753 162h1v1h-1zM754 163h1v1h-1zM755 163h1v1h-1zM756 163h1v1h-1zM757 164h1v1h-1zM758 165h1v1h-1zM759 165h1v1h-1zM760 166h1v1h-1zM761 167h1v1h-1zM762 168h1v1h-1zM763 169h1v1h-1zM764 170h1v1h-1zM765 171h1v1h-1zM766 171h1v1h-1zM767 172h1v1h-1zM768 172h1v1h-1zM769 173h1v1h-1zM770 174h1v1h-1zM771 174h1v1h-1zM772 175h1v1h-1zM773 176h1v1h-1zM774 177h1v2h-1zM775 179h1v1h-1zM776 180h1v1h-1zM777 181h1v1h-1zM778 182h1v2h-1zM779 184h1v1h-1zM780 185h1v1h-1zM781 186h1v2h-1zM782 188h1v1h-1zM783 189h1v2h-1zM784 191h1v1h-1zM785 192h1v1h-1zM786 193h1v1h-1zM787 194h1v1h-1zM788 195h1v1h-1zM789 196h1v1h-1zM790 197h1v2h-1zM791 199h1v1h-1zM792 200h1v1h-1zM793 201h1v1h-1zM794 202h1v1h-1zM795 202h1v1h-1zM796 203h1v1h-1zM797 204h1v1h-1zM798 205h1v1h-1zM799 205h1v1h-1zM800 206h1v1h-1zM801 207h1v1h-1zM802 207h1v1h-1zM803 208h1v1h-1zM804 208h1v1h-1zM805 209h1v1h-1zM806 210h1v1h-1zM807 210h1v1h-1zM808 211h1v1h-1zM809 212h1v1h-1zM810 213h1v1h-1zM811 213h1v1h-1zM812 214h1v1h-1zM813 215h1v1h-1zM814 215h1v1h-1zM815 216h1v1h-1zM816 216h1v1h-1zM817 216h1v1h-1zM818 217h1v1h-1zM819 217h1v1h-1zM820 217h1v1h-1zM821 217h1v1h-1zM822 218h1v1h-1zM823 218h1v1h-1zM824 218h1v1h-1zM825 218h1v1h-1zM826 217h1v1h-1zM827 217h1v1h-1zM828 217h1v1h-1zM829 216h1v1h-1zM830 216h1v1h-1zM831 215h1v1h-1zM832 215h1v1h-1zM833 214h1v1h-1zM834 213h1v1h-1zM835 213h1v1h-1zM836 212h1v1h-1zM837 211h1v1h-1zM838 210h1v1h-1zM839 209h1v1h-1zM840 208h1v1h-1zM841 207h1v1h-1zM842 206h1v1h-1zM843 206h1v1h-1zM844 205h1v1h-1zM845 205h1v1h-1zM846 204h1v1h-1zM847 204h1v1h-1zM848 204h1v1h-1zM849 204h1v1h-1zM850 203h1v1h-1zM851 203h1v1h-1zM852 203h1v1h-1zM853 203h1v1h-1zM854 202h1v1h-1zM855 202h1v1h-1zM856 202h1v1h-1zM857 202h1v1h-1zM858 202h1v1h-1zM859 202h1v1h-1zM860 202h1v1h-1zM861 202h1v1h-1zM862 201h1v1h-1zM863 201h1v1h-1zM864 201h1v1h-1zM865 200h1v1h-1zM866 200h1v1h-1zM867 199h1v1h-1zM868 199h1v1h-1zM869 198h1v1h-1zM870 196h1v2h-1zM871 195h1v1h-1zM872 194h1v1h-1zM873 194h1v1h-1zM874 193h1v1h-1zM875 193h1v1h-1zM876 193h1v1h-1zM877 193h1v1h-1zM878 192h1v1h-1zM879 192h1v1h-1zM880 192h1v1h-1zM881 192h1v1h-1zM882 192h1v1h-1zM883 192h1v1h-1zM884 192h1v1h-1zM885 192h1v1h-1zM886 193h1v1h-1zM887 193h1v1h-1zM888 193h1v1h-1zM889 193h1v1h-1zM890 193h1v1h-1zM891 193h1v1h-1zM892 193h1v1h-1zM893 193h1v1h-1zM894 194h1v1h-1zM895 194h1v1h-1zM896 194h1v1h-1zM897 194h1v1h-1zM898 194h1v1h-1zM899 194h1v1h-1zM900 194h1v1h-1zM901 195h1v1h-1zM902 196h1v1h-1zM903 196h1v1h-1zM904 197h1v1h-1zM905 197h1v1h-1zM906 197h1v1h-1zM907 197h1v1h-1zM908 197h1v1h-1zM909 198h1v1h-1zM910 198h1v1h-1zM911 199h1v1h-1zM912 199h1v1h-1zM913 200h1v1h-1zM914 200h1v1h-1zM915 201h1v1h-1zM916 201h1v1h-1zM917 202h1v1h-1zM918 203h1v1h-1zM919 203h1v1h-1zM920 204h1v1h-1zM921 205h1v1h-1zM922 205h1v1h-1zM923 206h1v1h-1zM924 206h1v1h-1zM925 207h1v1h-1zM926 208h1v2h-1zM927 210h1v1h-1zM928 211h1v1h-1zM929 212h1v1h-1zM930 213h1v1h-1zM931 213h1v1h-1zM932 214h1v1h-1zM933 215h1v1h-1zM934 216h1v1h-1zM935 216h1v1h-1zM936 217h1v1h-1zM937 217h1v1h-1zM938 218h1v1h-1zM939 218h1v1h-1zM940 218h1v1h-1zM941 218h1v1h-1zM942 219h1v1h-1zM943 219h1v1h-1zM944 219h1v1h-1zM945 220h1v1h-1zM946 221h1v1h-1zM947 221h1v1h-1zM948 222h1v1h-1zM949 223h1v1h-1zM950 223h1v1h-1zM951 224h1v1h-1zM952 224h1v1h-1zM953 225h1v1h-1zM954 226h1v1h-1zM955 226h1v1h-1zM956 227h1v1h-1zM957 227h1v1h-1zM958 226h1v1h-1zM959 226h1v1h-1zM960 226h1v1h-1zM961 227h1v1h-1zM962 228h1v1h-1zM963 228h1v1h-1zM964 229h1v1h-1zM965 230h1v1h-1zM966 230h1v1h-1zM967 231h1v1h-1zM968 231h1v1h-1zM969 232h1v1h-1zM970 232h1v1h-1zM971 233h1v1h-1zM972 233h1v1h-1zM973 234h1v1h-1zM974 234h1v1h-1zM975 235h1v1h-1zM976 235h1v1h-1zM977 236h1v1h-1zM978 237h1v1h-1zM979 237h1v1h-1zM980 238h1v1h-1zM981 239h1v1h-1zM982 239h1v1h-1zM983 240h1v1h-1zM984 240h1v1h-1zM985 241h1v1h-1zM986 241h1v1h-1zM987 242h1v1h-1zM988 242h1v1h-1zM989 243h1v1h-1zM990 244h1v1h-1zM991 245h1v1h-1zM992 246h1v1h-1zM993 247h1v1h-1zM994 248h1v1h-1zM995 249h1v1h-1zM996 250h1v1h-1zM997 251h1v1h-1zM998 252h1v2h-1zM999 254h1v1h-1zM1000 255h1v1h-1zM1001 256h1v2h-1zM1002 258h1v1h-1zM1003 259h1v2h-1zM1004 261h1v1h-1zM1005 262h1v1h-1zM1006 263h1v2h-1zM1007 265h1v1h-1zM1008 266h1v1h-1zM1009 267h1v2h-1zM1010 269h1v1h-1zM1011 270h1v2h-1zM1012 272h1v1h-1zM1013 273h1v2h-1zM1014 275h1v2h-1zM1015 277h1v2h-1zM1016 279h1v1h-1zM1017 280h1v2h-1zM1018 282h1v1h-1zM1019 283h1v2h-1zM1020 285h1v1h-1zM1021 286h1v1h-1zM1022 287h1v2h-1zM1023 289h1v1h-1zM1024 290h1v1h-1zM1025 291h1v2h-1zM1026 293h1v1h-1zM1027 294h1v2h-1zM1028 296h1v1h-1zM1029 297h1v2h-1zM1030 299h1v1h-1zM1031 300h1v2h-1zM1032 302h1v1h-1zM1033 303h1v2h-1zM1034 305h1v1h-1zM1035 306h1v2h-1zM1036 308h1v1h-1zM1037 309h1v1h-1zM1038 310h1v1h-1zM1039 311h1v1h-1zM1040 312h1v1h-1zM1041 313h1v1h-1zM1042 314h1v1h-1zM1043 315h1v1h-1zM1044 316h1v1h-1zM1045 316h1v1h-1zM1046 316h1v1h-1zM1047 316h1v1h-1zM1048 316h1v1h-1zM1049 316h1v1h-1zM1050 317h1v1h-1zM1051 317h1v1h-1zM1052 317h1v1h-1zM1053 317h1v1h-1zM1054 316h1v1h-1zM1055 316h1v1h-1zM1056 316h1v1h-1zM1057 315h1v1h-1zM1058 313h1v2h-1zM1059 312h1v1h-1zM1060 311h1v1h-1zM1061 310h1v1h-1zM1062 309h1v1h-1zM1063 309h1v1h-1zM1064 308h1v1h-1zM1065 306h1v2h-1zM1066 305h1v1h-1zM1067 303h1v2h-1zM1068 302h1v1h-1zM1069 300h1v2h-1zM1070 298h1v2h-1zM1071 296h1v2h-1zM1072 295h1v1h-1zM1073 293h1v2h-1zM1074 291h1v2h-1zM1075 289h1v2h-1zM1076 288h1v1h-1zM1077 286h1v2h-1zM1078 284h1v2h-1zM1079 282h1v2h-1zM1080 279h1v3h-1zM1081 277h1v2h-1zM1082 274h1v3h-1zM1083 272h1v2h-1zM1084 270h1v2h-1zM1085 268h1v2h-1zM1086 266h1v2h-1zM1087 264h1v2h-1zM1088 263h1v1h-1zM1089 261h1v2h-1zM1090 259h1v2h-1zM1091 257h1v2h-1zM1092 256h1v1h-1zM1093 255h1v1h-1zM1094 253h1v2h-1zM1095 252h1v1h-1zM1096 251h1v1h-1zM1097 250h1v1h-1zM1098 248h1v2h-1zM1099 247h1v1h-1zM1100 246h1v1h-1zM1101 245h1v1h-1zM1102 243h1v2h-1zM1103 242h1v1h-1zM1104 241h1v1h-1zM1105 240h1v1h-1zM1106 239h1v1h-1zM1107 239h1v1h-1zM1108 238h1v1h-1zM1109 237h1v1h-1zM1110 236h1v1h-1zM1111 236h1v1h-1zM1112 235h1v1h-1zM1113 235h1v1h-1zM1114 236h1v1h-1zM1115 236h1v1h-1zM1116 236h1v1h-1zM1117 236h1v1h-1zM1118 236h1v1h-1zM1119 236h1v1h-1zM1120 236h1v1h-1zM1121 235h1v1h-1zM1122 235h1v1h-1zM1123 234h1v1h-1zM1124 234h1v1h-1zM1125 234h1v1h-1zM1126 234h1v1h-1zM1127 234h1v1h-1zM1128 234h1v1h-1zM1129 234h1v1h-1zM1130 235h1v1h-1zM1131 235h1v1h-1zM1132 235h1v1h-1zM1133 235h1v1h-1zM1134 235h1v1h-1zM1135 235h1v1h-1zM1136 235h1v1h-1zM1137 235h1v1h-1zM1138 236h1v1h-1zM1139 236h1v1h-1zM1140 236h1v1h-1zM1141 235h1v1h-1zM1142 234h1v1h-1zM1143 233h1v1h-1zM1144 232h1v1h-1zM1145 231h1v1h-1zM1146 230h1v1h-1zM1147 229h1v1h-1zM1148 228h1v1h-1zM1149 227h1v1h-1zM1150 226h1v1h-1zM1151 225h1v1h-1zM1152 224h1v1h-1zM1153 224h1v1h-1zM1154 223h1v1h-1zM1155 223h1v1h-1zM1156 223h1v1h-1zM1157 223h1v1h-1zM1158 222h1v1h-1zM1159 222h1v1h-1zM1160 222h1v1h-1zM1161 221h1v1h-1zM1162 220h1v1h-1zM1163 220h1v1h-1zM1164 219h1v1h-1zM1165 218h1v1h-1zM1166 218h1v1h-1zM1167 217h1v1h-1zM1168 217h1v1h-1zM1169 217h1v1h-1zM1170 216h1v1h-1zM1171 216h1v1h-1zM1172 216h1v1h-1zM1173 216h1v1h-1zM1174 216h1v1h-1zM1175 216h1v1h-1zM1176 216h1v1h-1zM1177 217h1v1h-1zM1178 217h1v1h-1zM1179 218h1v1h-1zM1180 218h1v1h-1zM1181 219h1v1h-1zM1182 220h1v1h-1zM1183 221h1v1h-1zM1184 222h1v1h-1zM1185 223h1v1h-1zM1186 224h1v1h-1zM1187 225h1v1h-1zM1188 226h1v1h-1zM1189 227h1v1h-1zM1190 228h1v1h-1zM1191 229h1v1h-1zM1192 230h1v1h-1zM1193 231h1v1h-1zM1194 232h1v1h-1zM1195 233h1v1h-1zM1196 234h1v1h-1zM1197 235h1v2h-1zM1198 237h1v2h-1zM1199 239h1v2h-1zM1200 241h1v1h-1zM1201 242h1v2h-1zM1202 244h1v1h-1zM1203 245h1v2h-1zM1204 247h1v1h-1zM1205 248h1v1h-1zM1206 249h1v2h-1zM1207 251h1v1h-1zM1208 252h1v1h-1zM1209 253h1v1h-1zM1210 254h1v1h-1zM1211 255h1v1h-1zM1212 256h1v1h-1zM1213 256h1v1h-1zM1214 255h1v1h-1zM1215 255h1v1h-1zM1216 255h1v1h-1zM1217 255h1v1h-1zM1218 255h1v1h-1zM1219 255h1v1h-1zM1220 255h1v1h-1zM1221 255h1v1h-1zM1222 254h1v1h-1zM1223 254h1v1h-1zM1224 254h1v1h-1zM1225 254h1v1h-1zM1226 253h1v1h-1zM1227 253h1v1h-1zM1228 253h1v1h-1zM1229 252h1v1h-1zM1230 251h1v1h-1zM1231 251h1v1h-1zM1232 250h1v1h-1zM1233 248h1v2h-1zM1234 246h1v2h-1zM1235 244h1v2h-1zM1236 241h1v3h-1zM1237 238h1v3h-1zM1238 234h1v4h-1zM1239 231h1v3h-1zM1240 228h1v3h-1zM1241 225h1v3h-1zM1242 221h1v4h-1zM1243 218h1v3h-1zM1244 215h1v3h-1zM1245 212h1v3h-1zM1246 208h1v4h-1zM1247 205h1v3h-1zM1248 202h1v3h-1zM1249 199h1v3h-1zM1250 196h1v3h-1zM1251 193h1v3h-1zM1252 190h1v3h-1zM1253 188h1v2h-1zM1254 185h1v3h-1zM1255 183h1v2h-1zM1256 180h1v3h-1zM1257 177h1v3h-1zM1258 174h1v3h-1zM1259 171h1v3h-1zM1260 169h1v2h-1zM1261 167h1v2h-1zM1262 165h1v2h-1zM1263 163h1v2h-1zM1264 161h1v2h-1zM1265 159h1v2h-1zM1266 157h1v2h-1zM1267 155h1v2h-1zM1268 153h1v2h-1z" fill="#FF0000" shape-rendering="crispEdges"/><path d="M4 479h1v1h-1zM5 479h1v1h-1zM6 478h1v1h-1zM7 478h1v1h-1zM8 478h1v1h-1zM9 479h1v1h-1zM10 480h1v1h-1zM11 480h1v1h-1zM12 481h1v1h-1zM13 482h1v1h-1zM14 483h1v1h-1zM15 483h1v1h-1zM16 484h1v1h-1zM17 483h1v1h-1zM18 482h1v1h-1zM19 482h1v1h-1zM20 481h1v1h-1zM21 481h1v1h-1zM22 481h1v1h-1zM23 481h1v1h-1zM24 481h1v1h-1zM25 481h1v1h-1zM26 481h1v1h-1zM27 481h1v1h-1zM28 481h1v1h-1zM29 480h1v1h-1zM30 478h1v2h-1zM31 477h1v1h-1zM32 476h1v1h-1zM33 474h1v2h-1zM34 473h1v1h-1zM35 471h1v2h-1zM36 470h1v1h-1zM37 469h1v1h-1zM38 468h1v1h-1zM39 468h1v1h-1zM40 467h1v1h-1zM41 468h1v1h-1zM42 468h1v1h-1zM43 469h1v1h-1zM44 469h1v1h-1zM45 468h1v1h-1zM46 468h1v1h-1zM47 467h1v1h-1zM48 467h1v1h-1zM49 467h1v1h-1zM50 468h1v1h-1zM51 468h1v1h-1zM52 468h1v1h-1zM53 469h1v1h-1zM54 469h1v1h-1zM55 470h1v1h-1zM56 470h1v1h-1zM57 471h1v1h-1zM58 472h1v2h-1zM59 474h1v1h-1zM60 475h1v1h-1zM61 475h1v1h-1zM62 475h1v1h-1zM63 475h1v1h-1zM64 475h1v1h-1zM65 476h1v1h-1zM66 476h1v1h-1zM67 477h1v1h-1zM68 477h1v1h-1zM69 478h1v1h-1zM70 478h1v1h-1zM71 479h1v1h-1zM72 479h1v1h-1zM73 480h1v1h-1zM74 480h1v1h-1zM75 481h1v1h-1zM76 481h1v1h-1zM77 481h1v1h-1zM78 481h1v1h-1zM79 481h1v1h-1zM80 481h1v1h-1zM81 481h1v1h-1zM82 480h1v1h-1zM83 480h1v1h-1zM84 480h1v1h-1zM85 479h1v1h-1zM86 478h1v1h-1zM87 477h1v1h-1zM88 476h1v1h-1zM89 476h1v1h-1zM90 476h1v1h-1zM91 476h1v1h-1zM92 476h1v1h-1zM93 477h1v1h-1zM94 478h1v1h-1zM95 478h1v1h-1zM96 479h1v1h-1zM97 480h1v1h-1zM98 480h1v1h-1zM99 481h1v1h-1zM100 481h1v1h-1zM101 481h1v1h-1zM102 482h1v1h-1zM103 482h1v1h-1zM104 482h1v2h-1zM105 484h1v2h-1zM106 486h1v2h-1zM107 488h1v2h-1zM108 490h1v2h-1zM109 491h1v1h-1zM110 491h1v1h-1zM111 491h1v1h-1zM112 491h1v1h-1zM113 491h1v1h-1zM114 491h1v1h-1zM115 491h1v1h-1zM116 491h1v1h-1zM117 491h1v1h-1zM118 490h1v1h-1zM119 490h1v1h-1zM120 490h1v1h-1zM121 489h1v1h-1zM122 488h1v1h-1zM123 488h1v1h-1zM124 486h1v2h-1zM125 484h1v2h-1zM126 482h1v2h-1zM127 480h1v2h-1zM128 478h1v2h-1zM129 476h1v2h-1zM130 474h1v2h-1zM131 472h1v2h-1zM132 470h1v2h-1zM133 468h1v2h-1zM134 467h1v1h-1zM135 465h1v2h-1zM136 464h1v1h-1zM137 463h1v1h-1zM138 462h1v1h-1zM139 461h1v1h-1zM140 460h1v1h-1zM141 459h1v1h-1zM142 459h1v1h-1zM143 458h1v1h-1zM144 458h1v1h-1zM145 457h1v1h-1zM146 457h1v1h-1zM147 456h1v1h-1zM148 456h1v1h-1zM149 457h1v1h-1zM150 458h1v2h-1zM151 460h1v1h-1zM152 461h1v1h-1zM153 460h1v1h-1zM154 460h1v1h-1zM155 459h1v1h-1zM156 459h1v1h-1zM157 459h1v1h-1zM158 459h1v1h-1zM159 459h1v1h-1zM160 459h1v1h-1zM161 459h1v1h-1zM162 459h1v1h-1zM163 459h1v1h-1zM164 459h1v1h-1zM165 459h1v1h-1zM166 460h1v1h-1zM167 460h1v1h-1zM168 456h1v5h-1zM169 448h1v8h-1zM170 440h1v8h-1zM171 432h1v8h-1zM172 424h1v8h-1zM173 417h1v7h-1zM174 410h1v7h-1zM175 403h1v7h-1zM176 396h1v7h-1zM177 388h1v8h-1zM178 381h1v7h-1zM179 373h1v8h-1zM180 366h1v7h-1zM181 358h1v8h-1zM182 350h1v8h-1zM183 342h1v8h-1zM184 333h1v9h-1zM185 324h1v9h-1zM186 315h1v9h-1zM187 306h1v9h-1zM188 301h1v5h-1zM189 299h1v2h-1zM190 298h1v1h-1zM191 296h1v2h-1zM192 295h1v1h-1zM193 293h1v2h-1zM194 292h1v1h-1zM195 290h1v2h-1zM196 289h1v1h-1zM197 287h1v2h-1zM198 286h1v1h-1zM199 284h1v2h-1zM200 283h1v1h-1zM201 282h1v1h-1zM202 281h1v1h-1zM203 281h1v1h-1zM204 280h1v1h-1zM205 281h1v1h-1zM206 282h1v1h-1zM207 282h1v1h-1zM208 283h1v1h-1zM209 284h1v1h-1zM210 285h1v2h-1zM211 287h1v1h-1zM212 288h1v1h-1zM213 289h1v1h-1zM214 290h1v2h-1zM215 292h1v1h-1zM216 293h1v1h-1zM217 294h1v1h-1zM218 295h1v1h-1zM219 296h1v1h-1zM220 297h1v1h-1zM221 298h1v1h-1zM222 299h1v1h-1zM223 299h1v1h-1zM224 300h1v1h-1zM225 300h1v1h-1zM226 299h1v1h-1zM227 299h1v1h-1zM228 299h1v1h-1zM229 298h1v1h-1zM230 298h1v1h-1zM231 297h1v1h-1zM232 297h1v1h-1zM233 296h1v1h-1zM234 295h1v1h-1zM235 295h1v1h-1zM236 294h1v1h-1zM237 293h1v1h-1zM238 292h1v1h-1zM239 291h1v1h-1zM240 290h1v1h-1zM241 289h1v1h-1zM242 289h1v1h-1zM243 288h1v1h-1zM244 288h1v1h-1zM245 288h1v1h-1zM246 289h1v1h-1zM247 289h1v1h-1zM248 289h1v1h-1zM249 289h1v1h-1zM250 289h1v1h-1zM251 289h1v1h-1zM252 289h1v1h-1zM253 289h1v1h-1zM254 290h1v1h-1zM255 290h1v1h-1zM256 290h1v1h-1zM257 289h1v1h-1zM258 289h1v1h-1zM259 288h1v1h-1zM260 288h1v1h-1zM261 287h1v1h-1zM262 286h1v1h-1zM263 286h1v1h-1zM264 285h1v1h-1zM265 284h1v1h-1zM266 284h1v1h-1zM267 283h1v1h-1zM268 283h1v1h-1zM269 283h1v1h-1zM270 284h1v1h-1zM271 284h1v1h-1zM272 284h1v1h-1zM273 284h1v1h-1zM274 283h1v1h-1zM275 283h1v1h-1zM276 283h1v1h-1zM277 284h1v1h-1zM278 284h1v1h-1zM279 285h1v1h-1zM280 285h1v1h-1zM281 285h1v1h-1zM282 286h1v1h-1zM283 286h1v1h-1zM284 286h1v1h-1zM285 286h1v1h-1zM286 287h1v1h-1zM287 287h1v1h-1zM288 287h1v1h-1zM289 286h1v1h-1zM290 286h1v1h-1zM291 285h1v1h-1zM292 285h1v1h-1zM293 286h1v1h-1zM294 287h1v2h-1zM295 289h1v1h-1zM296 290h1v1h-1zM297 291h1v1h-1zM298 292h1v2h-1zM299 294h1v1h-1zM300 295h1v2h-1zM301 297h1v4h-1zM302 301h1v3h-1zM303 304h1v4h-1zM304 308h1v3h-1zM305 311h1v3h-1zM306 314h1v2h-1zM307 316h1v3h-1zM308 319h1v3h-1zM309 322h1v3h-1zM310 325h1v4h-1zM311 329h1v3h-1zM312 332h1v2h-1zM313 334h1v1h-1zM314 335h1v2h-1zM315 337h1v1h-1zM316 338h1v1h-1zM317 339h1v1h-1zM318 340h1v1h-1zM319 341h1v1h-1zM320 342h1v1h-1zM321 341h1v1h-1zM322 340h1v1h-1zM323 339h1v1h-1zM324 338h1v1h-1zM325 338h1v1h-1zM326 337h1v1h-1zM327 337h1v1h-1zM328 337h1v1h-1zM329 337h1v1h-1zM330 336h1v1h-1zM331 336h1v1h-1zM332 336h1v1h-1zM333 336h1v1h-1zM334 337h1v1h-1zM335 337h1v1h-1zM336 337h1v1h-1zM337 338h1v1h-1zM338 338h1v1h-1zM339 339h1v1h-1zM340 339h1v1h-1zM341 339h1v1h-1zM342 339h1v1h-1zM343 339h1v1h-1zM344 339h1v1h-1zM345 338h1v1h-1zM346 338h1v1h-1zM347 337h1v1h-1zM348 337h1v1h-1zM349 337h1v1h-1zM350 336h1v1h-1zM351 336h1v1h-1zM352 336h1v1h-1zM353 335h1v1h-1zM354 333h1v2h-1zM355 332h1v1h-1zM356 331h1v1h-1zM357 330h1v1h-1zM358 328h1v2h-1zM359 327h1v1h-1zM360 326h1v1h-1zM361 326h1v1h-1zM362 325h1v1h-1zM363 325h1v1h-1zM364 325h1v1h-1zM365 325h1v1h-1zM366 324h1v1h-1zM367 324h1v1h-1zM368 324h1v1h-1zM369 324h1v1h-1zM370 324h1v1h-1zM371 324h1v1h-1zM372 324h1v1h-1zM373 325h1v1h-1zM374 326h1v2h-1zM375 328h1v1h-1zM376 329h1v1h-1zM377 330h1v1h-1zM378 331h1v1h-1zM379 331h1v1h-1zM380 332h1v1h-1zM381 332h1v1h-1zM382 333h1v1h-1zM383 333h1v1h-1zM384 333h1v1h-1zM385 334h1v1h-1zM386 335h1v1h-1zM387 335h1v1h-1zM388 336h1v1h-1zM389 336h1v1h-1zM390 335h1v1h-1zM391 335h1v1h-1zM392 335h1v1h-1zM393 335h1v1h-1zM394 335h1v1h-1zM395 335h1v1h-1zM396 335h1v1h-1zM397 335h1v1h-1zM398 334h1v1h-1zM399 334h1v1h-1zM400 334h1v1h-1zM401 334h1v1h-1zM402 334h1v1h-1zM403 334h1v1h-1zM404 334h1v1h-1zM405 333h1v1h-1zM406 333h1v1h-1zM407 332h1v1h-1zM408 332h1v1h-1zM409 332h1v1h-1zM410 332h1v1h-1zM411 332h1v1h-1zM412 332h1v1h-1zM413 331h1v1h-1zM414 331h1v1h-1zM415 330h1v1h-1zM416 330h1v1h-1zM417 331h1v1h-1zM418 332h1v1h-1zM419 332h1v1h-1zM420 333h1v1h-1zM421 334h1v1h-1zM422 334h1v1h-1zM423 335h1v1h-1zM424 335h1v1h-1zM425 335h1v1h-1zM426 335h1v1h-1zM427 335h1v1h-1zM428 335h1v1h-1zM429 335h1v1h-1zM430 334h1v1h-1zM431 334h1v1h-1zM432 334h1v1h-1zM433 334h1v1h-1zM434 333h1v1h-1zM435 333h1v1h-1zM436 333h1v1h-1zM437 332h1v1h-1zM438 331h1v1h-1zM439 331h1v1h-1zM440 330h1v1h-1zM441 329h1v1h-1zM442 328h1v1h-1zM443 327h1v1h-1zM444 326h1v1h-1zM445 325h1v1h-1zM446 324h1v1h-1zM447 323h1v1h-1zM448 321h1v2h-1zM449 317h1v4h-1zM450 313h1v4h-1zM451 309h1v4h-1zM452 306h1v3h-1zM453 302h1v4h-1zM454 298h1v4h-1zM455 294h1v4h-1zM456 288h1v6h-1zM457 279h1v9h-1zM458 269h1v10h-1zM459 260h1v9h-1zM460 252h1v8h-1zM461 244h1v8h-1zM462 237h1v7h-1zM463 229h1v8h-1zM464 222h1v7h-1zM465 214h1v8h-1zM466 206h1v8h-1zM467 198h1v8h-1zM468 191h1v7h-1zM469 187h1v4h-1zM470 183h1v4h-1zM471 179h1v4h-1zM472 174h1v5h-1zM473 168h1v6h-1zM474 163h1v5h-1zM475 157h1v6h-1zM476 154h1v3h-1zM477 154h1v1h-1zM478 154h1v1h-1zM479 154h1v1h-1zM480 154h1v1h-1zM481 152h1v2h-1zM482 150h1v2h-1zM483 148h1v2h-1zM484 146h1v2h-1zM485 148h1v3h-1zM486 151h1v4h-1zM487 155h1v3h-1zM488 158h1v2h-1zM489 160h1v1h-1zM490 161h1v1h-1zM491 161h1v1h-1zM492 162h1v2h-1zM493 164h1v2h-1zM494 166h1v2h-1zM495 168h1v2h-1zM496 170h1v3h-1zM497 173h1v2h-1zM498 175h1v2h-1zM499 177h1v2h-1zM500 179h1v3h-1zM501 182h1v2h-1zM502 184h1v2h-1zM503 186h1v2h-1zM504 188h1v2h-1zM505 187h1v2h-1zM506 185h1v2h-1zM507 183h1v2h-1zM508 181h1v2h-1zM509 180h1v1h-1zM510 179h1v1h-1zM511 178h1v1h-1zM512 177h1v1h-1zM513 176h1v1h-1zM514 175h1v1h-1zM515 175h1v1h-1zM516 174h1v1h-1zM517 172h1v2h-1zM518 170h1v2h-1zM519 168h1v2h-1zM520 165h1v3h-1zM521 161h1v4h-1zM522 157h1v4h-1zM523 153h1v4h-1zM524 150h1v3h-1zM525 147h1v3h-1zM526 143h1v4h-1zM527 140h1v3h-1zM528 136h1v4h-1zM529 132h1v4h-1zM530 128h1v4h-1zM531 124h1v4h-1zM532 119h1v5h-1zM533 115h1v4h-1zM534 110h1v5h-1zM535 106h1v4h-1zM536 102h1v4h-1zM537 98h1v4h-1zM538 95h1v3h-1zM539 91h1v4h-1zM540 89h1v2h-1zM541 88h1v1h-1zM542 87h1v1h-1zM543 87h1v1h-1zM544 86h1v1h-1zM545 85h1v1h-1zM546 83h1v2h-1zM547 82h1v1h-1zM548 81h1v1h-1zM549 81h1v1h-1zM550 82h1v1h-1zM551 82h1v1h-1zM552 82h1v1h-1zM553 81h1v1h-1zM554 80h1v1h-1zM555 79h1v1h-1zM556 78h1v1h-1zM557 77h1v1h-1zM558 77h1v1h-1zM559 76h1v1h-1zM560 76h1v1h-1zM561 76h1v1h-1zM562 76h1v1h-1zM563 76h1v1h-1zM564 76h1v1h-1zM565 77h1v1h-1zM566 78h1v1h-1zM567 79h1v1h-1zM568 80h1v2h-1zM569 82h1v2h-1zM570 84h1v3h-1zM571 87h1v2h-1zM572 89h1v3h-1zM573 92h1v4h-1zM574 96h1v4h-1zM575 100h1v4h-1zM576 104h1v3h-1zM577 107h1v3h-1zM578 110h1v2h-1zM579 112h1v3h-1zM580 115h1v2h-1zM581 117h1v2h-1zM582 119h1v1h-1zM583 120h1v2h-1zM584 122h1v1h-1zM585 123h1v1h-1zM586 124h1v2h-1zM587 126h1v1h-1zM588 127h1v1h-1zM589 128h1v2h-1zM590 130h1v2h-1zM591 132h1v2h-1zM592 134h1v3h-1zM593 137h1v3h-1zM594 140h1v4h-1zM595 144h1v3h-1zM596 147h1v3h-1zM597 150h1v3h-1zM598 153h1v4h-1zM599 157h1v3h-1zM600 160h1v3h-1zM601 163h1v2h-1zM602 165h1v2h-1zM603 167h1v2h-1zM604 169h1v2h-1zM605 171h1v1h-1zM606 172h1v1h-1zM607 173h1v1h-1zM608 174h1v1h-1zM609 173h1v1h-1zM610 172h1v1h-1zM611 172h1v1h-1zM612 170h1v2h-1zM613 167h1v3h-1zM614 164h1v3h-1zM615 161h1v3h-1zM616 159h1v2h-1zM617 157h1v2h-1zM618 155h1v2h-1zM619 153h1v2h-1zM620 151h1v2h-1zM621 149h1v2h-1zM622 146h1v3h-1zM623 144h1v2h-1zM624 142h1v2h-1zM625 141h1v1h-1zM626 139h1v2h-1zM627 138h1v1h-1zM628 137h1v1h-1zM629 136h1v1h-1zM630 135h1v1h-1zM631 134h1v1h-1zM632 133h1v1h-1zM633 131h1v2h-1zM634 130h1v1h-1zM635 128h1v2h-1zM636 127h1v1h-1zM637 125h1v2h-1zM638 123h1v2h-1zM639 121h1v2h-1zM640 119h1v2h-1zM641 118h1v1h-1zM642 117h1v1h-1zM643 117h1v1h-1zM644 116h1v1h-1zM645 114h1v2h-1zM646 113h1v1h-1zM647 111h1v2h-1zM648 110h1v1h-1zM649 108h1v2h-1zM650 107h1v1h-1zM651 105h1v2h-1zM652 104h1v1h-1zM653 103h1v1h-1zM654 102h1v1h-1zM655 102h1v1h-1zM656 101h1v1h-1zM657 100h1v1h-1zM658 99h1v1h-1zM659 98h1v1h-1zM660 97h1v1h-1zM661 97h1v1h-1zM662 98h1v1h-1zM663 98h1v1h-1zM664 98h1v1h-1zM665 99h1v2h-1zM666 101h1v2h-1zM667 103h1v2h-1zM668 105h1v1h-1zM669 106h1v2h-1zM670 108h1v1h-1zM671 109h1v2h-1zM672 111h1v1h-1zM673 112h1v1h-1zM674 113h1v1h-1zM675 113h1v1h-1zM676 114h1v1h-1zM677 114h1v1h-1zM678 113h1v1h-1zM679 113h1v1h-1zM680 113h1v1h-1zM681 112h1v1h-1zM682 112h1v1h-1zM683 111h1v1h-1zM684 111h1v1h-1zM685 111h1v1h-1zM686 112h1v1h-1zM687 112h1v1h-1zM688 112h1v1h-1zM689 113h1v1h-1zM690 114h1v2h-1zM691 116h1v1h-1zM692 117h1v2h-1zM693 119h1v2h-1zM694 121h1v3h-1zM695 124h1v2h-1zM696 126h1v3h-1zM697 129h1v4h-1zM698 133h1v4h-1zM699 137h1v4h-1zM700 141h1v3h-1zM701 144h1v2h-1zM702 146h1v3h-1zM703 149h1v2h-1zM704 151h1v2h-1zM705 152h1v1h-1zM706 153h1v1h-1zM707 153h1v1h-1zM708 153h1v1h-1zM709 153h1v1h-1zM710 153h1v1h-1zM711 153h1v1h-1zM712 153h1v1h-1zM713 153h1v1h-1zM714 153h1v1h-1zM715 153h1v1h-1zM716 153h1v1h-1zM717 153h1v1h-1zM718 152h1v1h-1zM719 152h1v1h-1zM720 152h1v1h-1zM721 153h1v1h-1zM722 154h1v1h-1zM723 154h1v1h-1zM724 155h1v1h-1zM725 156h1v1h-1zM726 157h1v1h-1zM727 158h1v1h-1zM728 159h1v1h-1zM729 160h1v1h-1zM730 161h1v1h-1zM731 161h1v1h-1zM732 162h1v1h-1zM733 162h1v1h-1zM734 163h1v1h-1zM735 163h1v1h-1zM736 163h1v1h-1zM737 164h1v1h-1zM738 165h1v1h-1zM739 165h1v1h-1zM740 166h1v1h-1zM741 167h1v1h-1zM742 168h1v1h-1zM743 168h1v1h-1zM744 169h1v1h-1zM745 170h1v1h-1zM746 170h1v1h-1zM747 171h1v1h-1zM748 171h1v1h-1zM749 171h1v1h-1zM750 171h1v1h-1zM751 171h1v1h-1zM752 171h1v1h-1zM753 172h1v1h-1zM754 173h1v1h-1zM755 173h1v1h-1zM756 174h1v1h-1zM757 175h1v1h-1zM758 175h1v1h-1zM759 176h1v1h-1zM760 176h1v1h-1zM761 177h1v1h-1zM762 178h1v1h-1zM763 178h1v1h-1zM764 179h1v1h-1zM765 180h1v1h-1zM766 181h1v1h-1zM767 182h1v1h-1zM768 183h1v1h-1zM769 184h1v2h-1zM770 186h1v1h-1zM771 187h1v2h-1zM772 189h1v2h-1zM773 191h1v2h-1zM774 193h1v3h-1zM775 196h1v2h-1zM776 198h1v2h-1zM777 200h1v2h-1zM778 202h1v2h-1zM779 204h1v2h-1zM780 206h1v3h-1zM781 209h1v3h-1zM782 212h1v2h-1zM783 214h1v3h-1zM784 217h1v2h-1zM785 219h1v2h-1zM786 221h1v2h-1zM787 223h1v2h-1zM788 225h1v2h-1zM789 227h1v2h-1zM790 229h1v2h-1zM791 231h1v2h-1zM792 233h1v1h-1zM793 233h1v1h-1zM794 232h1v1h-1zM795 232h1v1h-1zM796 232h1v1h-1zM797 231h1v1h-1zM798 230h1v1h-1zM799 230h1v1h-1zM800 228h1v2h-1zM801 226h1v2h-1zM802 224h1v2h-1zM803 222h1v2h-1zM804 220h1v2h-1zM805 218h1v2h-1zM806 217h1v1h-1zM807 215h1v2h-1zM808 214h1v1h-1zM809 213h1v1h-1zM810 212h1v1h-1zM811 212h1v1h-1zM812 211h1v1h-1zM813 211h1v1h-1zM814 212h1v1h-1zM815 212h1v1h-1zM816 212h1v1h-1zM817 211h1v1h-1zM818 211h1v1h-1zM819 210h1v1h-1zM820 210h1v1h-1zM821 210h1v1h-1zM822 209h1v1h-1zM823 209h1v1h-1zM824 209h1v1h-1zM825 209h1v1h-1zM826 208h1v1h-1zM827 208h1v1h-1zM828 208h1v1h-1zM829 206h1v2h-1zM830 205h1v1h-1zM831 203h1v2h-1zM832 202h1v1h-1zM833 200h1v2h-1zM834 198h1v2h-1zM835 196h1v2h-1zM836 195h1v1h-1zM837 194h1v1h-1zM838 193h1v1h-1zM839 193h1v1h-1zM840 192h1v1h-1zM841 192h1v1h-1zM842 192h1v1h-1zM843 192h1v1h-1zM844 192h1v1h-1zM845 193h1v1h-1zM846 194h1v1h-1zM847 194h1v1h-1zM848 195h1v1h-1zM849 196h1v1h-1zM850 197h1v1h-1zM851 197h1v1h-1zM852 198h1v1h-1zM853 199h1v1h-1zM854 199h1v1h-1zM855 200h1v1h-1zM856 200h1v1h-1zM857 201h1v1h-1zM858 202h1v1h-1zM859 202h1v1h-1zM860 203h1v1h-1zM861 203h1v1h-1zM862 203h1v1h-1zM863 203h1v1h-1zM864 203h1v1h-1zM865 202h1v1h-1zM866 200h1v2h-1zM867 199h1v1h-1zM868 197h1v2h-1zM869 195h1v2h-1zM870 192h1v3h-1zM871 190h1v2h-1zM872 188h1v2h-1zM873 187h1v1h-1zM874 186h1v1h-1zM875 186h1v1h-1zM876 185h1v1h-1zM877 184h1v1h-1zM878 184h1v1h-1zM879 183h1v1h-1zM880 183h1v1h-1zM881 183h1v1h-1zM882 183h1v1h-1zM883 183h1v1h-1zM884 183h1v1h-1zM885 184h1v1h-1zM886 185h1v1h-1zM887 185h1v1h-1zM888 186h1v1h-1zM889 187h1v2h-1zM890 189h1v2h-1zM891 191h1v2h-1zM892 193h1v1h-1zM893 194h1v1h-1zM894 195h1v1h-1zM895 195h1v1h-1zM896 196h1v1h-1zM897 197h1v1h-1zM898 197h1v1h-1zM899 198h1v1h-1zM900 198h1v2h-1zM901 200h1v2h-1zM902 202h1v2h-1zM903 204h1v2h-1zM904 206h1v2h-1zM905 208h1v1h-1zM906 208h1v1h-1zM907 209h1v1h-1zM908 209h1v1h-1zM909 210h1v2h-1zM910 212h1v1h-1zM911 213h1v2h-1zM912 215h1v1h-1zM913 216h1v2h-1zM914 218h1v2h-1zM915 220h1v2h-1zM916 222h1v1h-1zM917 223h1v2h-1zM918 225h1v2h-1zM919 227h1v2h-1zM920 229h1v1h-1zM921 228h1v1h-1zM922 227h1v1h-1zM923 226h1v1h-1zM924 225h1v1h-1zM925 226h1v1h-1zM926 227h1v1h-1zM927 227h1v1h-1zM928 228h1v1h-1zM929 228h1v1h-1zM930 228h1v1h-1zM931 228h1v1h-1zM932 228h1v1h-1zM933 227h1v1h-1zM934 227h1v1h-1zM935 226h1v1h-1zM936 226h1v1h-1zM937 225h1v1h-1zM938 225h1v1h-1zM939 224h1v1h-1zM940 224h1v1h-1zM941 224h1v1h-1zM942 223h1v1h-1zM943 223h1v1h-1zM944 223h1v1h-1zM945 223h1v1h-1zM946 223h1v1h-1zM947 223h1v1h-1zM948 223h1v1h-1zM949 223h1v1h-1zM950 224h1v1h-1zM951 224h1v1h-1zM952 224h1v1h-1zM953 225h1v1h-1zM954 225h1v1h-1zM955 226h1v1h-1zM956 226h1v1h-1zM957 227h1v1h-1zM958 228h1v1h-1zM959 228h1v1h-1zM960 229h1v1h-1zM961 230h1v1h-1zM962 231h1v2h-1zM963 233h1v1h-1zM964 234h1v1h-1zM965 235h1v2h-1zM966 237h1v2h-1zM967 239h1v2h-1zM968 241h1v1h-1zM969 242h1v2h-1zM970 244h1v1h-1zM971 245h1v2h-1zM972 247h1v1h-1zM973 248h1v2h-1zM974 250h1v1h-1zM975 251h1v2h-1zM976 253h1v1h-1zM977 254h1v1h-1zM978 255h1v2h-1zM979 257h1v1h-1zM980 258h1v1h-1zM981 259h1v1h-1zM982 259h1v1h-1zM983 260h1v1h-1zM984 260h1v1h-1zM985 260h1v1h-1zM986 259h1v1h-1zM987 259h1v1h-1zM988 259h1v1h-1zM989 260h1v1h-1zM990 261h1v1h-1zM991 261h1v1h-1zM992 262h1v1h-1zM993 263h1v1h-1zM994 263h1v1h-1zM995 264h1v1h-1zM996 264h1v1h-1zM997 265h1v2h-1zM998 267h1v2h-1zM999 269h1v2h-1zM1000 271h1v2h-1zM1001 273h1v2h-1zM1002 275h1v2h-1zM1003 277h1v2h-1zM1004 279h1v3h-1zM1005 282h1v3h-1zM1006 285h1v2h-1zM1007 287h1v3h-1zM1008 290h1v3h-1zM1009 293h1v2h-1zM1010 295h1v3h-1zM1011 298h1v2h-1zM1012 300h1v3h-1zM1013 303h1v3h-1zM1014 306h1v2h-1zM1015 308h1v3h-1zM1016 311h1v2h-1zM1017 313h1v2h-1zM1018 315h1v1h-1zM1019 316h1v2h-1zM1020 318h1v1h-1zM1021 319h1v2h-1zM1022 321h1v1h-1zM1023 322h1v2h-1zM1024 324h1v2h-1zM1025 326h1v2h-1zM1026 328h1v2h-1zM1027 330h1v2h-1zM1028 332h1v2h-1zM1029 334h1v1h-1zM1030 335h1v1h-1zM1031 335h1v1h-1zM1032 336h1v1h-1zM1033 337h1v1h-1zM1034 338h1v1h-1zM1035 338h1v1h-1zM1036 339h1v1h-1zM1037 338h1v1h-1zM1038 337h1v1h-1zM1039 337h1v1h-1zM1040 336h1v1h-1zM1041 334h1v2h-1zM1042 333h1v1h-1zM1043 331h1v2h-1zM1044 329h1v2h-1zM1045 325h1v4h-1zM1046 322h1v3h-1zM1047 318h1v4h-1zM1048 315h1v3h-1zM1049 312h1v3h-1zM1050 310h1v2h-1zM1051 307h1v3h-1zM1052 304h1v3h-1zM1053 301h1v3h-1zM1054 298h1v3h-1zM1055 295h1v3h-1zM1056 292h1v3h-1zM1057 288h1v4h-1zM1058 285h1v3h-1zM1059 281h1v4h-1zM1060 278h1v3h-1zM1061 275h1v3h-1zM1062 273h1v2h-1zM1063 270h1v3h-1zM1064 268h1v2h-1zM1065 267h1v1h-1zM1066 265h1v2h-1zM1067 264h1v1h-1zM1068 262h1v2h-1zM1069 259h1v3h-1zM1070 256h1v3h-1zM1071 253h1v3h-1zM1072 250h1v3h-1zM1073 247h1v3h-1zM1074 244h1v3h-1zM1075 241h1v3h-1zM1076 239h1v2h-1zM1077 238h1v1h-1zM1078 238h1v1h-1zM1079 237h1v1h-1zM1080 237h1v1h-1zM1081 235h1v2h-1zM1082 233h1v2h-1zM1083 231h1v2h-1zM1084 229h1v2h-1zM1085 228h1v1h-1zM1086 227h1v1h-1zM1087 226h1v1h-1zM1088 225h1v1h-1zM1089 226h1v1h-1zM1090 227h1v2h-1zM1091 229h1v1h-1zM1092 230h1v1h-1zM1093 231h1v1h-1zM1094 232h1v1h-1zM1095 233h1v1h-1zM1096 234h1v1h-1zM1097 234h1v1h-1zM1098 233h1v1h-1zM1099 233h1v1h-1zM1100 233h1v1h-1zM1101 234h1v1h-1zM1102 234h1v1h-1zM1103 235h1v1h-1zM1104 235h1v1h-1zM1105 235h1v1h-1zM1106 235h1v1h-1zM1107 235h1v1h-1zM1108 235h1v1h-1zM1109 235h1v1h-1zM1110 236h1v1h-1zM1111 236h1v1h-1zM1112 236h1v1h-1zM1113 236h1v1h-1zM1114 236h1v1h-1zM1115 236h1v1h-1zM1116 236h1v1h-1zM1117 237h1v1h-1zM1118 238h1v1h-1zM1119 238h1v1h-1zM1120 239h1v1h-1zM1121 240h1v1h-1zM1122 241h1v1h-1zM1123 241h1v1h-1zM1124 242h1v1h-1zM1125 242h1v1h-1zM1126 241h1v1h-1zM1127 241h1v1h-1zM1128 241h1v1h-1zM1129 240h1v1h-1zM1130 239h1v1h-1zM1131 239h1v1h-1zM1132 238h1v1h-1zM1133 237h1v1h-1zM1134 236h1v1h-1zM1135 235h1v1h-1zM1136 234h1v1h-1zM1137 233h1v1h-1zM1138 231h1v2h-1zM1139 230h1v1h-1zM1140 229h1v1h-1zM1141 227h1v2h-1zM1142 225h1v2h-1zM1143 223h1v2h-1zM1144 221h1v2h-1zM1145 219h1v2h-1zM1146 217h1v2h-1zM1147 215h1v2h-1zM1148 212h1v3h-1zM1149 210h1v2h-1zM1150 207h1v3h-1zM1151 205h1v2h-1zM1152 203h1v2h-1zM1153 202h1v1h-1zM1154 200h1v2h-1zM1155 199h1v1h-1zM1156 198h1v1h-1zM1157 197h1v1h-1zM1158 197h1v1h-1zM1159 196h1v1h-1zM1160 196h1v1h-1zM1161 197h1v1h-1zM1162 197h1v1h-1zM1163 198h1v1h-1zM1164 198h1v1h-1zM1165 199h1v2h-1zM1166 201h1v1h-1zM1167 202h1v2h-1zM1168 204h1v1h-1zM1169 205h1v2h-1zM1170 207h1v2h-1zM1171 209h1v2h-1zM1172 211h1v2h-1zM1173 213h1v2h-1zM1174 215h1v2h-1zM1175 217h1v2h-1zM1176 219h1v3h-1zM1177 222h1v3h-1zM1178 225h1v2h-1zM1179 227h1v3h-1zM1180 230h1v4h-1zM1181 234h1v4h-1zM1182 238h1v4h-1zM1183 242h1v4h-1zM1184 246h1v4h-1zM1185 250h1v4h-1zM1186 254h1v4h-1zM1187 258h1v4h-1zM1188 262h1v3h-1zM1189 265h1v2h-1zM1190 267h1v3h-1zM1191 270h1v2h-1zM1192 272h1v2h-1zM1193 274h1v2h-1zM1194 276h1v2h-1zM1195 278h1v2h-1zM1196 280h1v2h-1zM1197 282h1v1h-1zM1198 283h1v2h-1zM1199 285h1v1h-1zM1200 286h1v1h-1zM1201 285h1v1h-1zM1202 285h1v1h-1zM1203 284h1v1h-1zM1204 284h1v1h-1zM1205 282h1v2h-1zM1206 280h1v2h-1zM1207 278h1v2h-1zM1208 276h1v2h-1zM1209 275h1v1h-1zM1210 274h1v1h-1zM1211 273h1v1h-1zM1212 270h1v3h-1zM1213 266h1v4h-1zM1214 261h1v5h-1zM1215 257h1v4h-1zM1216 252h1v5h-1zM1217 248h1v4h-1zM1218 244h1v4h-1zM1219 240h1v4h-1zM1220 236h1v4h-1zM1221 232h1v4h-1zM1222 228h1v4h-1zM1223 224h1v4h-1zM1224 222h1v2h-1zM1225 220h1v2h-1zM1226 219h1v1h-1zM1227 217h1v2h-1zM1228 215h1v2h-1zM1229 212h1v3h-1zM1230 208h1v4h-1zM1231 205h1v3h-1zM1232 203h1v2h-1zM1233 201h1v2h-1zM1234 199h1v2h-1zM1235 197h1v2h-1zM1236 194h1v3h-1zM1237 189h1v5h-1zM1238 183h1v6h-1zM1239 178h1v5h-1zM1240 173h1v5h-1zM1241 169h1v4h-1zM1242 164h1v5h-1zM1243 160h1v4h-1zM1244 154h1v6h-1zM1245 148h1v6h-1zM1246 142h1v6h-1zM1247 136h1v6h-1zM1248 130h1v6h-1zM1249 126h1v4h-1zM1250 122h1v4h-1zM1251 118h1v4h-1zM1252 115h1v3h-1zM1253 115h1v1h-1zM1254 115h1v1h-1zM1255 115h1v1h-1zM1256 115h1v1h-1zM1257 116h1v1h-1zM1258 116h1v1h-1zM1259 117h1v1h-1zM1260 117h1v1h-1zM1261 118h1v2h-1zM1262 120h1v2h-1zM1263 122h1v2h-1zM1264 124h1v2h-1zM1265 126h1v2h-1zM1266 128h1v2h-1zM1267 130h1v2h-1zM1268 132h1v2h-1z" fill="#FFA500" shape-rendering="crispEdges"/></g><path d="M1271 27 H1281 L1276 32 Z" fill="#A0A0A0"/><path d="M7 33 H14 L10.5 37 Z" fill="#000"/><g shape-rendering="crispEdges"><rect x="1597" y="34" width="2" height="1" fill="#000"/><rect x="1597" y="67" width="2" height="1" fill="#000"/><rect x="1597" y="100" width="2" height="1" fill="#000"/><rect x="1597" y="133" width="2" height="1" fill="#000"/><rect x="1597" y="166" width="2" height="1" fill="#000"/><rect x="1597" y="199" width="2" height="1" fill="#000"/><rect x="1597" y="232" width="2" height="1" fill="#000"/><rect x="1597" y="265" width="2" height="1" fill="#000"/><rect x="1597" y="298" width="2" height="1" fill="#000"/><rect x="1597" y="331" width="2" height="1" fill="#000"/><rect x="1597" y="364" width="2" height="1" fill="#000"/><rect x="1597" y="397" width="2" height="1" fill="#000"/><rect x="1597" y="430" width="2" height="1" fill="#000"/><rect x="1597" y="463" width="2" height="1" fill="#000"/><rect x="1597" y="496" width="2" height="1" fill="#000"/><rect x="1597" y="529" width="2" height="1" fill="#000"/><rect x="1597" y="685" width="2" height="1" fill="#000"/><rect x="4" y="721" width="1" height="4" fill="#000"/><rect x="68" y="721" width="1" height="4" fill="#000"/><rect x="132" y="721" width="1" height="4" fill="#000"/><rect x="196" y="721" width="1" height="4" fill="#000"/><rect x="260" y="721" width="1" height="4" fill="#000"/><rect x="324" y="721" width="1" height="4" fill="#000"/><rect x="388" y="721" width="1" height="4" fill="#000"/><rect x="452" y="721" width="1" height="4" fill="#000"/><rect x="516" y="721" width="1" height="4" fill="#000"/><rect x="580" y="721" width="1" height="4" fill="#000"/><rect x="644" y="721" width="1" height="4" fill="#000"/><rect x="708" y="721" width="1" height="4" fill="#000"/><rect x="772" y="721" width="1" height="4" fill="#000"/><rect x="836" y="721" width="1" height="4" fill="#000"/><rect x="900" y="721" width="1" height="4" fill="#000"/><rect x="964" y="721" width="1" height="4" fill="#000"/><rect x="1028" y="721" width="1" height="4" fill="#000"/><rect x="1092" y="721" width="1" height="4" fill="#000"/><rect x="1156" y="721" width="1" height="4" fill="#000"/><rect x="1220" y="721" width="1" height="4" fill="#000"/></g><g clip-path="url(#cr)"><line x1="5" y1="562.5" x2="1596" y2="562.5" stroke="#C0C0C0" stroke-dasharray="3,3" shape-rendering="crispEdges"/><line x1="5" y1="598.5" x2="1596" y2="598.5" stroke="#C0C0C0" stroke-dasharray="3,3" shape-rendering="crispEdges"/><path d="M4 581h1v1h-1zM5 582h1v1h-1zM6 583h1v1h-1zM7 583h1v1h-1zM8 584h1v1h-1zM9 585h1v1h-1zM10 586h1v2h-1zM11 588h1v1h-1zM12 589h1v1h-1zM13 588h1v1h-1zM14 587h1v1h-1zM15 587h1v1h-1zM16 586h1v1h-1zM17 584h1v2h-1zM18 582h1v2h-1zM19 580h1v2h-1zM20 578h1v2h-1zM21 578h1v1h-1zM22 578h1v1h-1zM23 578h1v1h-1zM24 578h1v1h-1zM25 579h1v1h-1zM26 580h1v2h-1zM27 582h1v1h-1zM28 583h1v1h-1zM29 582h1v1h-1zM30 581h1v1h-1zM31 581h1v1h-1zM32 580h1v1h-1zM33 578h1v2h-1zM34 577h1v1h-1zM35 575h1v2h-1zM36 574h1v1h-1zM37 574h1v1h-1zM38 573h1v1h-1zM39 573h1v1h-1zM40 573h1v1h-1zM41 574h1v2h-1zM42 576h1v2h-1zM43 578h1v2h-1zM44 580h1v2h-1zM45 581h1v1h-1zM46 581h1v1h-1zM47 581h1v1h-1zM48 581h1v1h-1zM49 582h1v1h-1zM50 582h1v1h-1zM51 583h1v1h-1zM52 583h1v1h-1zM53 582h1v1h-1zM54 580h1v2h-1zM55 579h1v1h-1zM56 578h1v1h-1zM57 579h1v2h-1zM58 581h1v1h-1zM59 582h1v2h-1zM60 584h1v1h-1zM61 583h1v1h-1zM62 583h1v1h-1zM63 582h1v1h-1zM64 582h1v1h-1zM65 583h1v1h-1zM66 583h1v1h-1zM67 584h1v1h-1zM68 584h1v1h-1zM69 584h1v1h-1zM70 585h1v1h-1zM71 585h1v1h-1zM72 585h1v1h-1zM73 584h1v1h-1zM74 583h1v1h-1zM75 582h1v1h-1zM76 581h1v1h-1zM77 582h1v1h-1zM78 582h1v1h-1zM79 583h1v1h-1zM80 583h1v1h-1zM81 582h1v1h-1zM82 581h1v1h-1zM83 580h1v1h-1zM84 579h1v1h-1zM85 578h1v1h-1zM86 578h1v1h-1zM87 577h1v1h-1zM88 577h1v1h-1zM89 578h1v2h-1zM90 580h1v2h-1zM91 582h1v2h-1zM92 584h1v2h-1zM93 585h1v1h-1zM94 585h1v1h-1zM95 585h1v1h-1zM96 585h1v1h-1zM97 585h1v1h-1zM98 586h1v1h-1zM99 586h1v1h-1zM100 586h1v1h-1zM101 585h1v1h-1zM102 584h1v1h-1zM103 584h1v1h-1zM104 583h1v2h-1zM105 585h1v2h-1zM106 587h1v2h-1zM107 589h1v2h-1zM108 591h1v2h-1zM109 589h1v2h-1zM110 587h1v2h-1zM111 585h1v2h-1zM112 583h1v2h-1zM113 583h1v1h-1zM114 583h1v1h-1zM115 583h1v1h-1zM116 583h1v1h-1zM117 582h1v1h-1zM118 581h1v1h-1zM119 581h1v1h-1zM120 580h1v1h-1zM121 579h1v1h-1zM122 578h1v1h-1zM123 577h1v1h-1zM124 576h1v1h-1zM125 576h1v1h-1zM126 575h1v1h-1zM127 575h1v1h-1zM128 575h1v1h-1zM129 573h1v2h-1zM130 572h1v1h-1zM131 570h1v2h-1zM132 569h1v1h-1zM133 570h1v2h-1zM134 572h1v1h-1zM135 573h1v2h-1zM136 575h1v1h-1zM137 575h1v1h-1zM138 575h1v1h-1zM139 575h1v1h-1zM140 575h1v1h-1zM141 575h1v1h-1zM142 574h1v1h-1zM143 574h1v1h-1zM144 574h1v1h-1zM145 574h1v1h-1zM146 574h1v1h-1zM147 574h1v1h-1zM148 574h1v1h-1zM149 575h1v2h-1zM150 577h1v1h-1zM151 578h1v2h-1zM152 580h1v1h-1zM153 578h1v2h-1zM154 576h1v2h-1zM155 574h1v2h-1zM156 573h1v1h-1zM157 574h1v1h-1zM158 575h1v1h-1zM159 576h1v1h-1zM160 577h1v1h-1zM161 577h1v1h-1zM162 577h1v1h-1zM163 577h1v1h-1zM164 577h1v1h-1zM165 577h1v1h-1zM166 576h1v1h-1zM167 576h1v1h-1zM168 574h1v3h-1zM169 568h1v6h-1zM170 562h1v6h-1zM171 556h1v6h-1zM172 552h1v4h-1zM173 553h1v1h-1zM174 554h1v1h-1zM175 554h1v1h-1zM176 555h1v1h-1zM177 555h1v1h-1zM178 554h1v1h-1zM179 554h1v1h-1zM180 554h1v1h-1zM181 554h1v1h-1zM182 553h1v1h-1zM183 553h1v1h-1zM184 553h1v1h-1zM185 553h1v1h-1zM186 552h1v1h-1zM187 552h1v1h-1zM188 552h1v1h-1zM189 552h1v1h-1zM190 552h1v1h-1zM191 552h1v1h-1zM192 552h1v1h-1zM193 552h1v1h-1zM194 553h1v1h-1zM195 553h1v1h-1zM196 553h1v1h-1zM197 554h1v1h-1zM198 554h1v1h-1zM199 555h1v1h-1zM200 555h1v1h-1zM201 555h1v1h-1zM202 555h1v1h-1zM203 555h1v1h-1zM204 555h1v1h-1zM205 556h1v1h-1zM206 556h1v1h-1zM207 557h1v1h-1zM208 557h1v1h-1zM209 558h1v1h-1zM210 559h1v1h-1zM211 560h1v1h-1zM212 561h1v1h-1zM213 561h1v1h-1zM214 562h1v1h-1zM215 562h1v1h-1zM216 562h1v1h-1zM217 563h1v1h-1zM218 563h1v1h-1zM219 564h1v1h-1zM220 564h1v1h-1zM221 563h1v1h-1zM222 563h1v1h-1zM223 562h1v1h-1zM224 562h1v1h-1zM225 561h1v1h-1zM226 561h1v1h-1zM227 560h1v1h-1zM228 560h1v1h-1zM229 561h1v1h-1zM230 562h1v1h-1zM231 562h1v1h-1zM232 563h1v1h-1zM233 563h1v1h-1zM234 562h1v1h-1zM235 562h1v1h-1zM236 562h1v1h-1zM237 562h1v1h-1zM238 563h1v1h-1zM239 563h1v1h-1zM240 563h1v1h-1zM241 563h1v1h-1zM242 564h1v1h-1zM243 564h1v1h-1zM244 564h1v1h-1zM245 564h1v1h-1zM246 564h1v1h-1zM247 564h1v1h-1zM248 564h1v1h-1zM249 564h1v1h-1zM250 564h1v1h-1zM251 564h1v1h-1zM252 564h1v1h-1zM253 565h1v1h-1zM254 565h1v1h-1zM255 566h1v1h-1zM256 566h1v1h-1zM257 565h1v1h-1zM258 564h1v1h-1zM259 563h1v1h-1zM260 562h1v1h-1zM261 562h1v1h-1zM262 562h1v1h-1zM263 562h1v1h-1zM264 562h1v1h-1zM265 563h1v1h-1zM266 563h1v1h-1zM267 564h1v1h-1zM268 564h1v1h-1zM269 565h1v2h-1zM270 567h1v2h-1zM271 569h1v2h-1zM272 571h1v1h-1zM273 571h1v1h-1zM274 570h1v1h-1zM275 570h1v1h-1zM276 570h1v1h-1zM277 570h1v1h-1zM278 569h1v1h-1zM279 569h1v1h-1zM280 569h1v1h-1zM281 569h1v1h-1zM282 568h1v1h-1zM283 568h1v1h-1zM284 568h1v1h-1zM285 568h1v1h-1zM286 568h1v1h-1zM287 568h1v1h-1zM288 568h1v1h-1zM289 568h1v1h-1zM290 569h1v1h-1zM291 569h1v1h-1zM292 569h1v2h-1zM293 571h1v4h-1zM294 575h1v3h-1zM295 578h1v4h-1zM296 582h1v2h-1zM297 583h1v1h-1zM298 583h1v1h-1zM299 583h1v1h-1zM300 583h1v2h-1zM301 585h1v3h-1zM302 588h1v4h-1zM303 592h1v3h-1zM304 595h1v2h-1zM305 595h1v1h-1zM306 593h1v2h-1zM307 592h1v1h-1zM308 591h1v1h-1zM309 591h1v1h-1zM310 592h1v1h-1zM311 592h1v1h-1zM312 592h1v1h-1zM313 591h1v1h-1zM314 590h1v1h-1zM315 590h1v1h-1zM316 589h1v1h-1zM317 588h1v1h-1zM318 588h1v1h-1zM319 587h1v1h-1zM320 587h1v1h-1zM321 587h1v1h-1zM322 586h1v1h-1zM323 586h1v1h-1zM324 586h1v1h-1zM325 586h1v1h-1zM326 587h1v1h-1zM327 587h1v1h-1zM328 587h1v1h-1zM329 587h1v1h-1zM330 588h1v1h-1zM331 588h1v1h-1zM332 588h1v1h-1zM333 588h1v1h-1zM334 589h1v1h-1zM335 589h1v1h-1zM336 589h1v1h-1zM337 590h1v1h-1zM338 590h1v1h-1zM339 591h1v1h-1zM340 591h1v1h-1zM341 589h1v2h-1zM342 587h1v2h-1zM343 585h1v2h-1zM344 583h1v2h-1zM345 582h1v1h-1zM346 582h1v1h-1zM347 581h1v1h-1zM348 581h1v1h-1zM349 582h1v1h-1zM350 583h1v1h-1zM351 584h1v1h-1zM352 585h1v1h-1zM353 583h1v2h-1zM354 581h1v2h-1zM355 579h1v2h-1zM356 577h1v2h-1zM357 577h1v1h-1zM358 578h1v1h-1zM359 578h1v1h-1zM360 578h1v1h-1zM361 579h1v1h-1zM362 579h1v1h-1zM363 580h1v1h-1zM364 580h1v1h-1zM365 580h1v1h-1zM366 579h1v1h-1zM367 579h1v1h-1zM368 579h1v1h-1zM369 580h1v2h-1zM370 582h1v2h-1zM371 584h1v2h-1zM372 586h1v1h-1zM373 586h1v1h-1zM374 586h1v1h-1zM375 586h1v1h-1zM376 586h1v1h-1zM377 585h1v1h-1zM378 584h1v1h-1zM379 583h1v1h-1zM380 582h1v1h-1zM381 582h1v1h-1zM382 583h1v1h-1zM383 583h1v1h-1zM384 583h1v1h-1zM385 584h1v1h-1zM386 584h1v1h-1zM387 585h1v1h-1zM388 585h1v1h-1zM389 584h1v1h-1zM390 584h1v1h-1zM391 583h1v1h-1zM392 583h1v1h-1zM393 584h1v1h-1zM394 584h1v1h-1zM395 585h1v1h-1zM396 585h1v1h-1zM397 584h1v1h-1zM398 582h1v2h-1zM399 581h1v1h-1zM400 580h1v1h-1zM401 580h1v1h-1zM402 581h1v1h-1zM403 581h1v1h-1zM404 581h1v1h-1zM405 581h1v1h-1zM406 581h1v1h-1zM407 581h1v1h-1zM408 581h1v1h-1zM409 581h1v1h-1zM410 582h1v1h-1zM411 582h1v1h-1zM412 582h1v1h-1zM413 581h1v1h-1zM414 581h1v1h-1zM415 580h1v1h-1zM416 580h1v1h-1zM417 581h1v2h-1zM418 583h1v1h-1zM419 584h1v2h-1zM420 586h1v1h-1zM421 586h1v1h-1zM422 587h1v1h-1zM423 587h1v1h-1zM424 587h1v1h-1zM425 585h1v2h-1zM426 583h1v2h-1zM427 581h1v2h-1zM428 580h1v1h-1zM429 580h1v1h-1zM430 580h1v1h-1zM431 580h1v1h-1zM432 580h1v1h-1zM433 579h1v1h-1zM434 577h1v2h-1zM435 576h1v1h-1zM436 575h1v1h-1zM437 576h1v1h-1zM438 576h1v1h-1zM439 577h1v1h-1zM440 577h1v1h-1zM441 577h1v1h-1zM442 577h1v1h-1zM443 577h1v1h-1zM444 577h1v1h-1zM445 575h1v2h-1zM446 573h1v2h-1zM447 571h1v2h-1zM448 569h1v2h-1zM449 565h1v4h-1zM450 561h1v4h-1zM451 557h1v4h-1zM452 555h1v2h-1zM453 555h1v1h-1zM454 554h1v1h-1zM455 554h1v1h-1zM456 553h1v2h-1zM457 551h1v2h-1zM458 549h1v2h-1zM459 547h1v2h-1zM460 545h1v2h-1zM461 547h1v3h-1zM462 550h1v3h-1zM463 553h1v3h-1zM464 556h1v2h-1zM465 556h1v1h-1zM466 555h1v1h-1zM467 555h1v1h-1zM468 554h1v1h-1zM469 555h1v2h-1zM470 557h1v1h-1zM471 558h1v2h-1zM472 560h1v1h-1zM473 559h1v1h-1zM474 558h1v1h-1zM475 558h1v1h-1zM476 557h1v1h-1zM477 557h1v1h-1zM478 558h1v1h-1zM479 558h1v1h-1zM480 558h1v1h-1zM481 558h1v1h-1zM482 558h1v1h-1zM483 558h1v1h-1zM484 558h1v3h-1zM485 561h1v4h-1zM486 565h1v4h-1zM487 569h1v4h-1zM488 573h1v3h-1zM489 574h1v1h-1zM490 572h1v2h-1zM491 571h1v1h-1zM492 570h1v1h-1zM493 570h1v1h-1zM494 571h1v1h-1zM495 571h1v1h-1zM496 571h1v1h-1zM497 571h1v1h-1zM498 571h1v1h-1zM499 571h1v1h-1zM500 571h1v1h-1zM501 571h1v1h-1zM502 572h1v1h-1zM503 572h1v1h-1zM504 572h1v1h-1zM505 571h1v1h-1zM506 570h1v1h-1zM507 570h1v1h-1zM508 569h1v1h-1zM509 569h1v1h-1zM510 568h1v1h-1zM511 568h1v1h-1zM512 568h1v1h-1zM513 568h1v1h-1zM514 569h1v1h-1zM515 569h1v1h-1zM516 569h1v1h-1zM517 568h1v1h-1zM518 567h1v1h-1zM519 567h1v1h-1zM520 566h1v1h-1zM521 565h1v1h-1zM522 564h1v1h-1zM523 563h1v1h-1zM524 562h1v1h-1zM525 562h1v1h-1zM526 561h1v1h-1zM527 561h1v1h-1zM528 561h1v1h-1zM529 560h1v1h-1zM530 559h1v1h-1zM531 559h1v1h-1zM532 558h1v1h-1zM533 558h1v1h-1zM534 559h1v1h-1zM535 559h1v1h-1zM536 559h1v1h-1zM537 559h1v1h-1zM538 559h1v1h-1zM539 559h1v1h-1zM540 559h1v1h-1zM541 560h1v2h-1zM542 562h1v1h-1zM543 563h1v2h-1zM544 565h1v1h-1zM545 564h1v1h-1zM546 564h1v1h-1zM547 563h1v1h-1zM548 563h1v1h-1zM549 563h1v1h-1zM550 563h1v1h-1zM551 563h1v1h-1zM552 563h1v1h-1zM553 562h1v1h-1zM554 561h1v1h-1zM555 561h1v1h-1zM556 560h1v1h-1zM557 561h1v1h-1zM558 561h1v1h-1zM559 562h1v1h-1zM560 562h1v2h-1zM561 564h1v2h-1zM562 566h1v2h-1zM563 568h1v2h-1zM564 570h1v2h-1zM565 571h1v1h-1zM566 572h1v1h-1zM567 572h1v1h-1zM568 572h1v1h-1zM569 573h1v2h-1zM570 575h1v1h-1zM571 576h1v2h-1zM572 578h1v1h-1zM573 579h1v1h-1zM574 579h1v1h-1zM575 580h1v1h-1zM576 580h1v1h-1zM577 579h1v1h-1zM578 578h1v1h-1zM579 578h1v1h-1zM580 577h1v1h-1zM581 577h1v1h-1zM582 578h1v1h-1zM583 578h1v1h-1zM584 578h1v1h-1zM585 578h1v1h-1zM586 578h1v1h-1zM587 578h1v1h-1zM588 578h1v2h-1zM589 580h1v2h-1zM590 582h1v3h-1zM591 585h1v2h-1zM592 587h1v2h-1zM593 589h1v1h-1zM594 590h1v2h-1zM595 592h1v1h-1zM596 593h1v1h-1zM597 592h1v1h-1zM598 591h1v1h-1zM599 591h1v1h-1zM600 590h1v1h-1zM601 589h1v1h-1zM602 588h1v1h-1zM603 587h1v1h-1zM604 586h1v1h-1zM605 585h1v1h-1zM606 583h1v2h-1zM607 582h1v1h-1zM608 581h1v1h-1zM609 581h1v1h-1zM610 582h1v1h-1zM611 582h1v1h-1zM612 582h1v1h-1zM613 581h1v1h-1zM614 580h1v1h-1zM615 580h1v1h-1zM616 579h1v1h-1zM617 580h1v1h-1zM618 580h1v1h-1zM619 581h1v1h-1zM620 581h1v1h-1zM621 580h1v1h-1zM622 578h1v2h-1zM623 577h1v1h-1zM624 576h1v1h-1zM625 576h1v1h-1zM626 576h1v1h-1zM627 576h1v1h-1zM628 576h1v1h-1zM629 577h1v1h-1zM630 577h1v1h-1zM631 578h1v1h-1zM632 578h1v1h-1zM633 577h1v1h-1zM634 575h1v2h-1zM635 574h1v1h-1zM636 573h1v1h-1zM637 573h1v1h-1zM638 574h1v1h-1zM639 574h1v1h-1zM640 574h1v1h-1zM641 574h1v1h-1zM642 573h1v1h-1zM643 573h1v1h-1zM644 573h1v1h-1zM645 572h1v1h-1zM646 572h1v1h-1zM647 571h1v1h-1zM648 571h1v1h-1zM649 571h1v1h-1zM650 572h1v1h-1zM651 572h1v1h-1zM652 572h1v1h-1zM653 572h1v1h-1zM654 571h1v1h-1zM655 571h1v1h-1zM656 571h1v1h-1zM657 571h1v1h-1zM658 571h1v1h-1zM659 571h1v1h-1zM660 571h1v1h-1zM661 572h1v1h-1zM662 573h1v2h-1zM663 575h1v1h-1zM664 576h1v1h-1zM665 577h1v1h-1zM666 578h1v2h-1zM667 580h1v1h-1zM668 581h1v1h-1zM669 581h1v1h-1zM670 582h1v1h-1zM671 582h1v1h-1zM672 582h1v1h-1zM673 580h1v2h-1zM674 579h1v1h-1zM675 577h1v2h-1zM676 576h1v1h-1zM677 575h1v1h-1zM678 574h1v1h-1zM679 573h1v1h-1zM680 572h1v1h-1zM681 573h1v1h-1zM682 574h1v1h-1zM683 574h1v1h-1zM684 575h1v2h-1zM685 577h1v2h-1zM686 579h1v2h-1zM687 581h1v2h-1zM688 583h1v2h-1zM689 585h1v1h-1zM690 586h1v1h-1zM691 587h1v1h-1zM692 588h1v1h-1zM693 588h1v1h-1zM694 589h1v1h-1zM695 589h1v1h-1zM696 589h1v1h-1zM697 589h1v1h-1zM698 590h1v1h-1zM699 590h1v1h-1zM700 590h1v1h-1zM701 589h1v1h-1zM702 588h1v1h-1zM703 587h1v1h-1zM704 586h1v1h-1zM705 585h1v1h-1zM706 584h1v1h-1zM707 584h1v1h-1zM708 583h1v1h-1zM709 584h1v1h-1zM710 585h1v1h-1zM711 585h1v1h-1zM712 586h1v1h-1zM713 586h1v1h-1zM714 587h1v1h-1zM715 587h1v1h-1zM716 587h1v1h-1zM717 587h1v1h-1zM718 588h1v1h-1zM719 588h1v1h-1zM720 588h1v1h-1zM721 588h1v1h-1zM722 588h1v1h-1zM723 588h1v1h-1zM724 588h1v1h-1zM725 588h1v1h-1zM726 587h1v1h-1zM727 587h1v1h-1zM728 587h1v1h-1zM729 588h1v1h-1zM730 588h1v1h-1zM731 589h1v1h-1zM732 589h1v1h-1zM733 588h1v1h-1zM734 588h1v1h-1zM735 587h1v1h-1zM736 587h1v1h-1zM737 588h1v1h-1zM738 589h1v1h-1zM739 589h1v1h-1zM740 590h1v1h-1zM741 590h1v1h-1zM742 591h1v1h-1zM743 591h1v1h-1zM744 591h1v1h-1zM745 590h1v1h-1zM746 589h1v1h-1zM747 589h1v1h-1zM748 588h1v1h-1zM749 588h1v1h-1zM750 588h1v1h-1zM751 588h1v1h-1zM752 588h1v1h-1zM753 589h1v1h-1zM754 589h1v1h-1zM755 590h1v1h-1zM756 590h1v1h-1zM757 591h1v1h-1zM758 592h1v1h-1zM759 592h1v1h-1zM760 593h1v1h-1zM761 593h1v1h-1zM762 594h1v1h-1zM763 594h1v1h-1zM764 594h1v1h-1zM765 594h1v1h-1zM766 593h1v1h-1zM767 593h1v1h-1zM768 593h1v1h-1zM769 594h1v1h-1zM770 595h1v1h-1zM771 595h1v1h-1zM772 596h1v1h-1zM773 597h1v1h-1zM774 598h1v2h-1zM775 600h1v1h-1zM776 601h1v1h-1zM777 601h1v1h-1zM778 602h1v1h-1zM779 602h1v1h-1zM780 602h1v1h-1zM781 603h1v1h-1zM782 604h1v1h-1zM783 604h1v1h-1zM784 605h1v1h-1zM785 603h1v2h-1zM786 601h1v2h-1zM787 599h1v2h-1zM788 597h1v2h-1zM789 597h1v1h-1zM790 598h1v1h-1zM791 598h1v1h-1zM792 598h1v1h-1zM793 596h1v2h-1zM794 594h1v2h-1zM795 592h1v2h-1zM796 590h1v2h-1zM797 590h1v1h-1zM798 589h1v1h-1zM799 589h1v1h-1zM800 589h1v1h-1zM801 588h1v1h-1zM802 586h1v2h-1zM803 585h1v1h-1zM804 584h1v1h-1zM805 584h1v1h-1zM806 584h1v1h-1zM807 584h1v1h-1zM808 584h1v1h-1zM809 585h1v2h-1zM810 587h1v1h-1zM811 588h1v2h-1zM812 590h1v1h-1zM813 590h1v1h-1zM814 590h1v1h-1zM815 590h1v1h-1zM816 590h1v1h-1zM817 588h1v2h-1zM818 586h1v2h-1zM819 584h1v2h-1zM820 583h1v1h-1zM821 582h1v1h-1zM822 582h1v1h-1zM823 581h1v1h-1zM824 581h1v1h-1zM825 580h1v1h-1zM826 580h1v1h-1zM827 579h1v1h-1zM828 579h1v1h-1zM829 580h1v1h-1zM830 580h1v1h-1zM831 581h1v1h-1zM832 581h1v1h-1zM833 580h1v1h-1zM834 579h1v1h-1zM835 578h1v1h-1zM836 577h1v1h-1zM837 577h1v1h-1zM838 578h1v1h-1zM839 578h1v1h-1zM840 578h1v1h-1zM841 579h1v1h-1zM842 580h1v1h-1zM843 580h1v1h-1zM844 581h1v1h-1zM845 582h1v1h-1zM846 583h1v1h-1zM847 584h1v1h-1zM848 585h1v1h-1zM849 585h1v1h-1zM850 585h1v1h-1zM851 585h1v1h-1zM852 585h1v1h-1zM853 584h1v1h-1zM854 583h1v1h-1zM855 582h1v1h-1zM856 581h1v1h-1zM857 581h1v1h-1zM858 582h1v1h-1zM859 582h1v1h-1zM860 582h1v1h-1zM861 581h1v1h-1zM862 581h1v1h-1zM863 580h1v1h-1zM864 580h1v1h-1zM865 579h1v1h-1zM866 578h1v1h-1zM867 578h1v1h-1zM868 576h1v2h-1zM869 574h1v2h-1zM870 572h1v2h-1zM871 570h1v2h-1zM872 568h1v2h-1zM873 570h1v2h-1zM874 572h1v2h-1zM875 574h1v2h-1zM876 576h1v2h-1zM877 578h1v1h-1zM878 578h1v1h-1zM879 579h1v1h-1zM880 579h1v1h-1zM881 580h1v1h-1zM882 581h1v1h-1zM883 581h1v1h-1zM884 582h1v1h-1zM885 583h1v1h-1zM886 583h1v1h-1zM887 584h1v1h-1zM888 584h1v1h-1zM889 583h1v1h-1zM890 582h1v1h-1zM891 581h1v1h-1zM892 580h1v1h-1zM893 581h1v1h-1zM894 581h1v1h-1zM895 582h1v1h-1zM896 582h1v1h-1zM897 581h1v1h-1zM898 581h1v1h-1zM899 580h1v1h-1zM900 580h1v2h-1zM901 582h1v3h-1zM902 585h1v4h-1zM903 589h1v3h-1zM904 592h1v2h-1zM905 590h1v2h-1zM906 588h1v2h-1zM907 586h1v2h-1zM908 584h1v2h-1zM909 585h1v1h-1zM910 585h1v1h-1zM911 586h1v1h-1zM912 586h1v1h-1zM913 587h1v1h-1zM914 587h1v1h-1zM915 588h1v1h-1zM916 588h1v1h-1zM917 588h1v1h-1zM918 587h1v1h-1zM919 587h1v1h-1zM920 587h1v1h-1zM921 587h1v1h-1zM922 586h1v1h-1zM923 586h1v1h-1zM924 586h1v1h-1zM925 586h1v1h-1zM926 586h1v1h-1zM927 586h1v1h-1zM928 586h1v1h-1zM929 586h1v1h-1zM930 586h1v1h-1zM931 586h1v1h-1zM932 586h1v1h-1zM933 586h1v1h-1zM934 586h1v1h-1zM935 586h1v1h-1zM936 586h1v1h-1zM937 585h1v1h-1zM938 584h1v1h-1zM939 584h1v1h-1zM940 583h1v1h-1zM941 583h1v1h-1zM942 584h1v1h-1zM943 584h1v1h-1zM944 584h1v1h-1zM945 584h1v1h-1zM946 585h1v1h-1zM947 585h1v1h-1zM948 585h1v1h-1zM949 586h1v1h-1zM950 587h1v1h-1zM951 587h1v1h-1zM952 588h1v1h-1zM953 588h1v1h-1zM954 587h1v1h-1zM955 587h1v1h-1zM956 587h1v1h-1zM957 587h1v1h-1zM958 588h1v1h-1zM959 588h1v1h-1zM960 588h1v1h-1zM961 589h1v1h-1zM962 590h1v1h-1zM963 591h1v1h-1zM964 592h1v1h-1zM965 593h1v1h-1zM966 594h1v1h-1zM967 594h1v1h-1zM968 595h1v1h-1zM969 595h1v1h-1zM970 596h1v1h-1zM971 596h1v1h-1zM972 596h1v1h-1zM973 596h1v1h-1zM974 596h1v1h-1zM975 596h1v1h-1zM976 596h1v1h-1zM977 595h1v1h-1zM978 594h1v1h-1zM979 594h1v1h-1zM980 593h1v1h-1zM981 593h1v1h-1zM982 593h1v1h-1zM983 593h1v1h-1zM984 593h1v1h-1zM985 592h1v1h-1zM986 591h1v1h-1zM987 591h1v1h-1zM988 590h1v1h-1zM989 591h1v2h-1zM990 593h1v2h-1zM991 595h1v2h-1zM992 597h1v1h-1zM993 597h1v1h-1zM994 597h1v1h-1zM995 597h1v1h-1zM996 597h1v1h-1zM997 598h1v1h-1zM998 599h1v1h-1zM999 600h1v1h-1zM1000 601h1v1h-1zM1001 602h1v1h-1zM1002 603h1v1h-1zM1003 603h1v1h-1zM1004 604h1v1h-1zM1005 604h1v1h-1zM1006 604h1v1h-1zM1007 604h1v1h-1zM1008 604h1v1h-1zM1009 605h1v1h-1zM1010 606h1v1h-1zM1011 607h1v1h-1zM1012 608h1v1h-1zM1013 608h1v1h-1zM1014 608h1v1h-1zM1015 608h1v1h-1zM1016 608h1v1h-1zM1017 607h1v1h-1zM1018 606h1v1h-1zM1019 605h1v1h-1zM1020 604h1v1h-1zM1021 605h1v1h-1zM1022 605h1v1h-1zM1023 606h1v1h-1zM1024 606h1v1h-1zM1025 607h1v1h-1zM1026 607h1v1h-1zM1027 608h1v1h-1zM1028 608h1v1h-1zM1029 608h1v1h-1zM1030 607h1v1h-1zM1031 607h1v1h-1zM1032 607h1v1h-1zM1033 606h1v1h-1zM1034 606h1v1h-1zM1035 605h1v1h-1zM1036 603h1v3h-1zM1037 599h1v4h-1zM1038 595h1v4h-1zM1039 591h1v4h-1zM1040 588h1v3h-1zM1041 587h1v1h-1zM1042 587h1v1h-1zM1043 586h1v1h-1zM1044 586h1v1h-1zM1045 584h1v2h-1zM1046 582h1v2h-1zM1047 580h1v2h-1zM1048 578h1v2h-1zM1049 579h1v1h-1zM1050 579h1v1h-1zM1051 580h1v1h-1zM1052 580h1v1h-1zM1053 580h1v1h-1zM1054 579h1v1h-1zM1055 579h1v1h-1zM1056 578h1v2h-1zM1057 575h1v3h-1zM1058 572h1v3h-1zM1059 569h1v3h-1zM1060 567h1v2h-1zM1061 568h1v1h-1zM1062 569h1v1h-1zM1063 570h1v1h-1zM1064 571h1v1h-1zM1065 572h1v1h-1zM1066 572h1v1h-1zM1067 573h1v1h-1zM1068 573h1v1h-1zM1069 571h1v2h-1zM1070 570h1v1h-1zM1071 568h1v2h-1zM1072 567h1v1h-1zM1073 567h1v1h-1zM1074 567h1v1h-1zM1075 567h1v1h-1zM1076 567h1v1h-1zM1077 567h1v1h-1zM1078 568h1v1h-1zM1079 568h1v1h-1zM1080 568h1v1h-1zM1081 567h1v1h-1zM1082 566h1v1h-1zM1083 566h1v1h-1zM1084 565h1v1h-1zM1085 566h1v2h-1zM1086 568h1v2h-1zM1087 570h1v2h-1zM1088 572h1v2h-1zM1089 574h1v1h-1zM1090 575h1v1h-1zM1091 576h1v1h-1zM1092 577h1v1h-1zM1093 577h1v1h-1zM1094 576h1v1h-1zM1095 576h1v1h-1zM1096 576h1v1h-1zM1097 575h1v1h-1zM1098 573h1v2h-1zM1099 572h1v1h-1zM1100 571h1v1h-1zM1101 571h1v1h-1zM1102 570h1v1h-1zM1103 570h1v1h-1zM1104 570h1v1h-1zM1105 571h1v1h-1zM1106 572h1v2h-1zM1107 574h1v1h-1zM1108 575h1v1h-1zM1109 576h1v1h-1zM1110 577h1v2h-1zM1111 579h1v1h-1zM1112 580h1v1h-1zM1113 580h1v1h-1zM1114 579h1v1h-1zM1115 579h1v1h-1zM1116 579h1v1h-1zM1117 578h1v1h-1zM1118 578h1v1h-1zM1119 577h1v1h-1zM1120 577h1v1h-1zM1121 576h1v1h-1zM1122 575h1v1h-1zM1123 575h1v1h-1zM1124 574h1v1h-1zM1125 574h1v1h-1zM1126 575h1v1h-1zM1127 575h1v1h-1zM1128 575h1v1h-1zM1129 576h1v1h-1zM1130 577h1v1h-1zM1131 577h1v1h-1zM1132 578h1v1h-1zM1133 577h1v1h-1zM1134 576h1v1h-1zM1135 575h1v1h-1zM1136 574h1v1h-1zM1137 573h1v1h-1zM1138 573h1v1h-1zM1139 572h1v1h-1zM1140 572h1v1h-1zM1141 570h1v2h-1zM1142 569h1v1h-1zM1143 567h1v2h-1zM1144 566h1v1h-1zM1145 566h1v1h-1zM1146 567h1v1h-1zM1147 567h1v1h-1zM1148 567h1v1h-1zM1149 567h1v1h-1zM1150 567h1v1h-1zM1151 567h1v1h-1zM1152 567h1v1h-1zM1153 568h1v1h-1zM1154 569h1v1h-1zM1155 569h1v1h-1zM1156 570h1v1h-1zM1157 571h1v1h-1zM1158 572h1v1h-1zM1159 572h1v1h-1zM1160 573h1v1h-1zM1161 572h1v1h-1zM1162 572h1v1h-1zM1163 571h1v1h-1zM1164 571h1v1h-1zM1165 572h1v2h-1zM1166 574h1v2h-1zM1167 576h1v2h-1zM1168 578h1v1h-1zM1169 579h1v1h-1zM1170 580h1v1h-1zM1171 581h1v1h-1zM1172 582h1v1h-1zM1173 583h1v1h-1zM1174 583h1v1h-1zM1175 584h1v1h-1zM1176 584h1v1h-1zM1177 585h1v1h-1zM1178 586h1v2h-1zM1179 588h1v1h-1zM1180 589h1v1h-1zM1181 590h1v1h-1zM1182 591h1v2h-1zM1183 593h1v1h-1zM1184 594h1v1h-1zM1185 595h1v1h-1zM1186 596h1v1h-1zM1187 596h1v1h-1zM1188 597h1v1h-1zM1189 595h1v2h-1zM1190 594h1v1h-1zM1191 592h1v2h-1zM1192 591h1v1h-1zM1193 591h1v1h-1zM1194 592h1v1h-1zM1195 592h1v1h-1zM1196 592h1v1h-1zM1197 592h1v1h-1zM1198 592h1v1h-1zM1199 592h1v1h-1zM1200 592h1v1h-1zM1201 591h1v1h-1zM1202 589h1v2h-1zM1203 588h1v1h-1zM1204 587h1v1h-1zM1205 586h1v1h-1zM1206 585h1v1h-1zM1207 584h1v1h-1zM1208 583h1v1h-1zM1209 583h1v1h-1zM1210 584h1v1h-1zM1211 584h1v1h-1zM1212 583h1v2h-1zM1213 579h1v4h-1zM1214 575h1v4h-1zM1215 571h1v4h-1zM1216 568h1v3h-1zM1217 569h1v1h-1zM1218 570h1v1h-1zM1219 570h1v1h-1zM1220 571h1v1h-1zM1221 571h1v1h-1zM1222 570h1v1h-1zM1223 570h1v1h-1zM1224 570h1v1h-1zM1225 571h1v2h-1zM1226 573h1v2h-1zM1227 575h1v2h-1zM1228 577h1v2h-1zM1229 576h1v2h-1zM1230 575h1v1h-1zM1231 573h1v2h-1zM1232 572h1v1h-1zM1233 570h1v2h-1zM1234 569h1v1h-1zM1235 567h1v2h-1zM1236 566h1v1h-1zM1237 564h1v2h-1zM1238 563h1v1h-1zM1239 561h1v2h-1zM1240 560h1v1h-1zM1241 561h1v1h-1zM1242 562h1v1h-1zM1243 562h1v1h-1zM1244 563h1v1h-1zM1245 563h1v1h-1zM1246 563h1v1h-1zM1247 563h1v1h-1zM1248 563h1v1h-1zM1249 563h1v1h-1zM1250 564h1v1h-1zM1251 564h1v1h-1zM1252 564h1v2h-1zM1253 566h1v2h-1zM1254 568h1v2h-1zM1255 570h1v2h-1zM1256 572h1v2h-1zM1257 571h1v2h-1zM1258 570h1v1h-1zM1259 568h1v2h-1zM1260 567h1v1h-1zM1261 568h1v2h-1zM1262 570h1v2h-1zM1263 572h1v2h-1zM1264 574h1v2h-1zM1265 575h1v1h-1zM1266 574h1v1h-1zM1267 574h1v1h-1zM1268 574h1v1h-1z" fill="#1E90FF" shape-rendering="crispEdges"/></g><g clip-path="url(#cd)" shape-rendering="crispEdges"><rect x="4" y="685" width="1" height="7" fill="#C0C0C0"/><rect x="8" y="685" width="1" height="6" fill="#C0C0C0"/><rect x="12" y="685" width="1" height="7" fill="#C0C0C0"/><rect x="16" y="685" width="1" height="7" fill="#C0C0C0"/><rect x="20" y="685" width="1" height="5" fill="#C0C0C0"/><rect x="24" y="685" width="1" height="4" fill="#C0C0C0"/><rect x="28" y="685" width="1" height="4" fill="#C0C0C0"/><rect x="32" y="685" width="1" height="3" fill="#C0C0C0"/><rect x="36" y="685" width="1" height="1" fill="#C0C0C0"/><rect x="40" y="685" width="1" height="1" fill="#C0C0C0"/><rect x="44" y="685" width="1" height="1" fill="#C0C0C0"/><rect x="48" y="685" width="1" height="1" fill="#C0C0C0"/><rect x="52" y="685" width="1" height="1" fill="#C0C0C0"/><rect x="56" y="685" width="1" height="1" fill="#C0C0C0"/><rect x="60" y="685" width="1" height="1" fill="#C0C0C0"/><rect x="64" y="685" width="1" height="1" fill="#C0C0C0"/><rect x="68" y="685" width="1" height="1" fill="#C0C0C0"/><rect x="72" y="685" width="1" height="2" fill="#C0C0C0"/><rect x="76" y="685" width="1" height="2" fill="#C0C0C0"/><rect x="80" y="685" width="1" height="2" fill="#C0C0C0"/><rect x="84" y="685" width="1" height="1" fill="#C0C0C0"/><rect x="88" y="685" width="1" height="1" fill="#C0C0C0"/><rect x="92" y="685" width="1" height="1" fill="#C0C0C0"/><rect x="96" y="685" width="1" height="2" fill="#C0C0C0"/><rect x="100" y="685" width="1" height="3" fill="#C0C0C0"/><rect x="104" y="685" width="1" height="3" fill="#C0C0C0"/><rect x="108" y="685" width="1" height="5" fill="#C0C0C0"/><rect x="112" y="685" width="1" height="4" fill="#C0C0C0"/><rect x="116" y="685" width="1" height="4" fill="#C0C0C0"/><rect x="120" y="685" width="1" height="4" fill="#C0C0C0"/><rect x="124" y="685" width="1" height="2" fill="#C0C0C0"/><rect x="128" y="685" width="1" height="1" fill="#C0C0C0"/><rect x="132" y="684" width="1" height="2" fill="#C0C0C0"/><rect x="136" y="683" width="1" height="3" fill="#C0C0C0"/><rect x="140" y="682" width="1" height="4" fill="#C0C0C0"/><rect x="144" y="681" width="1" height="5" fill="#C0C0C0"/><rect x="148" y="681" width="1" height="5" fill="#C0C0C0"/><rect x="152" y="681" width="1" height="5" fill="#C0C0C0"/><rect x="156" y="681" width="1" height="5" fill="#C0C0C0"/><rect x="160" y="681" width="1" height="5" fill="#C0C0C0"/><rect x="164" y="681" width="1" height="5" fill="#C0C0C0"/><rect x="168" y="681" width="1" height="5" fill="#C0C0C0"/><rect x="172" y="669" width="1" height="17" fill="#C0C0C0"/><rect x="176" y="660" width="1" height="26" fill="#C0C0C0"/><rect x="180" y="653" width="1" height="33" fill="#C0C0C0"/><rect x="184" y="648" width="1" height="38" fill="#C0C0C0"/><rect x="188" y="642" width="1" height="44" fill="#C0C0C0"/><rect x="192" y="638" width="1" height="48" fill="#C0C0C0"/><rect x="196" y="635" width="1" height="51" fill="#C0C0C0"/><rect x="200" y="634" width="1" height="52" fill="#C0C0C0"/><rect x="204" y="634" width="1" height="52" fill="#C0C0C0"/><rect x="208" y="635" width="1" height="51" fill="#C0C0C0"/><rect x="212" y="637" width="1" height="49" fill="#C0C0C0"/><rect x="216" y="640" width="1" height="46" fill="#C0C0C0"/><rect x="220" y="643" width="1" height="43" fill="#C0C0C0"/><rect x="224" y="645" width="1" height="41" fill="#C0C0C0"/><rect x="228" y="645" width="1" height="41" fill="#C0C0C0"/><rect x="232" y="647" width="1" height="39" fill="#C0C0C0"/><rect x="236" y="649" width="1" height="37" fill="#C0C0C0"/><rect x="240" y="650" width="1" height="36" fill="#C0C0C0"/><rect x="244" y="652" width="1" height="34" fill="#C0C0C0"/><rect x="248" y="654" width="1" height="32" fill="#C0C0C0"/><rect x="252" y="656" width="1" height="30" fill="#C0C0C0"/><rect x="256" y="658" width="1" height="28" fill="#C0C0C0"/><rect x="260" y="658" width="1" height="28" fill="#C0C0C0"/><rect x="264" y="659" width="1" height="27" fill="#C0C0C0"/><rect x="268" y="660" width="1" height="26" fill="#C0C0C0"/><rect x="272" y="662" width="1" height="24" fill="#C0C0C0"/><rect x="276" y="664" width="1" height="22" fill="#C0C0C0"/><rect x="280" y="666" width="1" height="20" fill="#C0C0C0"/><rect x="284" y="667" width="1" height="19" fill="#C0C0C0"/><rect x="288" y="668" width="1" height="18" fill="#C0C0C0"/><rect x="292" y="669" width="1" height="17" fill="#C0C0C0"/><rect x="296" y="672" width="1" height="14" fill="#C0C0C0"/><rect x="300" y="675" width="1" height="11" fill="#C0C0C0"/><rect x="304" y="680" width="1" height="6" fill="#C0C0C0"/><rect x="308" y="684" width="1" height="2" fill="#C0C0C0"/><rect x="312" y="685" width="1" height="1" fill="#C0C0C0"/><rect x="316" y="685" width="1" height="3" fill="#C0C0C0"/><rect x="320" y="685" width="1" height="4" fill="#C0C0C0"/><rect x="324" y="685" width="1" height="4" fill="#C0C0C0"/><rect x="328" y="685" width="1" height="5" fill="#C0C0C0"/><rect x="332" y="685" width="1" height="6" fill="#C0C0C0"/><rect x="336" y="685" width="1" height="7" fill="#C0C0C0"/><rect x="340" y="685" width="1" height="8" fill="#C0C0C0"/><rect x="344" y="685" width="1" height="7" fill="#C0C0C0"/><rect x="348" y="685" width="1" height="6" fill="#C0C0C0"/><rect x="352" y="685" width="1" height="6" fill="#C0C0C0"/><rect x="356" y="685" width="1" height="4" fill="#C0C0C0"/><rect x="360" y="685" width="1" height="3" fill="#C0C0C0"/><rect x="364" y="685" width="1" height="3" fill="#C0C0C0"/><rect x="368" y="685" width="1" height="2" fill="#C0C0C0"/><rect x="372" y="685" width="1" height="3" fill="#C0C0C0"/><rect x="376" y="685" width="1" height="4" fill="#C0C0C0"/><rect x="380" y="685" width="1" height="4" fill="#C0C0C0"/><rect x="384" y="685" width="1" height="3" fill="#C0C0C0"/><rect x="388" y="685" width="1" height="4" fill="#C0C0C0"/><rect x="392" y="685" width="1" height="4" fill="#C0C0C0"/><rect x="396" y="685" width="1" height="4" fill="#C0C0C0"/><rect x="400" y="685" width="1" height="3" fill="#C0C0C0"/><rect x="404" y="685" width="1" height="3" fill="#C0C0C0"/><rect x="408" y="685" width="1" height="2" fill="#C0C0C0"/><rect x="412" y="685" width="1" height="2" fill="#C0C0C0"/><rect x="416" y="685" width="1" height="2" fill="#C0C0C0"/><rect x="420" y="685" width="1" height="2" fill="#C0C0C0"/><rect x="424" y="685" width="1" height="3" fill="#C0C0C0"/><rect x="428" y="685" width="1" height="2" fill="#C0C0C0"/><rect x="432" y="685" width="1" height="2" fill="#C0C0C0"/><rect x="436" y="685" width="1" height="1" fill="#C0C0C0"/><rect x="440" y="685" width="1" height="1" fill="#C0C0C0"/><rect x="444" y="685" width="1" height="1" fill="#C0C0C0"/><rect x="448" y="684" width="1" height="2" fill="#C0C0C0"/><rect x="452" y="679" width="1" height="7" fill="#C0C0C0"/><rect x="456" y="674" width="1" height="12" fill="#C0C0C0"/><rect x="460" y="662" width="1" height="24" fill="#C0C0C0"/><rect x="464" y="656" width="1" height="30" fill="#C0C0C0"/><rect x="468" y="649" width="1" height="37" fill="#C0C0C0"/><rect x="472" y="645" width="1" height="41" fill="#C0C0C0"/><rect x="476" y="641" width="1" height="45" fill="#C0C0C0"/><rect x="480" y="638" width="1" height="48" fill="#C0C0C0"/><rect x="484" y="636" width="1" height="50" fill="#C0C0C0"/><rect x="488" y="641" width="1" height="45" fill="#C0C0C0"/><rect x="492" y="643" width="1" height="43" fill="#C0C0C0"/><rect x="496" y="645" width="1" height="41" fill="#C0C0C0"/><rect x="500" y="647" width="1" height="39" fill="#C0C0C0"/><rect x="504" y="650" width="1" height="36" fill="#C0C0C0"/><rect x="508" y="651" width="1" height="35" fill="#C0C0C0"/><rect x="512" y="651" width="1" height="35" fill="#C0C0C0"/><rect x="516" y="652" width="1" height="34" fill="#C0C0C0"/><rect x="520" y="652" width="1" height="34" fill="#C0C0C0"/><rect x="524" y="649" width="1" height="37" fill="#C0C0C0"/><rect x="528" y="647" width="1" height="39" fill="#C0C0C0"/><rect x="532" y="644" width="1" height="42" fill="#C0C0C0"/><rect x="536" y="642" width="1" height="44" fill="#C0C0C0"/><rect x="540" y="641" width="1" height="45" fill="#C0C0C0"/><rect x="544" y="641" width="1" height="45" fill="#C0C0C0"/><rect x="548" y="642" width="1" height="44" fill="#C0C0C0"/><rect x="552" y="642" width="1" height="44" fill="#C0C0C0"/><rect x="556" y="642" width="1" height="44" fill="#C0C0C0"/><rect x="560" y="642" width="1" height="44" fill="#C0C0C0"/><rect x="564" y="645" width="1" height="41" fill="#C0C0C0"/><rect x="568" y="649" width="1" height="37" fill="#C0C0C0"/><rect x="572" y="654" width="1" height="32" fill="#C0C0C0"/><rect x="576" y="659" width="1" height="27" fill="#C0C0C0"/><rect x="580" y="662" width="1" height="24" fill="#C0C0C0"/><rect x="584" y="665" width="1" height="21" fill="#C0C0C0"/><rect x="588" y="668" width="1" height="18" fill="#C0C0C0"/><rect x="592" y="674" width="1" height="12" fill="#C0C0C0"/><rect x="596" y="680" width="1" height="6" fill="#C0C0C0"/><rect x="600" y="685" width="1" height="1" fill="#C0C0C0"/><rect x="604" y="685" width="1" height="1" fill="#C0C0C0"/><rect x="608" y="685" width="1" height="1" fill="#C0C0C0"/><rect x="612" y="685" width="1" height="2" fill="#C0C0C0"/><rect x="616" y="685" width="1" height="1" fill="#C0C0C0"/><rect x="620" y="685" width="1" height="1" fill="#C0C0C0"/><rect x="624" y="685" width="1" height="1" fill="#C0C0C0"/><rect x="628" y="684" width="1" height="2" fill="#C0C0C0"/><rect x="632" y="683" width="1" height="3" fill="#C0C0C0"/><rect x="636" y="681" width="1" height="5" fill="#C0C0C0"/><rect x="640" y="680" width="1" height="6" fill="#C0C0C0"/><rect x="644" y="678" width="1" height="8" fill="#C0C0C0"/><rect x="648" y="676" width="1" height="10" fill="#C0C0C0"/><rect x="652" y="675" width="1" height="11" fill="#C0C0C0"/><rect x="656" y="674" width="1" height="12" fill="#C0C0C0"/><rect x="660" y="673" width="1" height="13" fill="#C0C0C0"/><rect x="664" y="674" width="1" height="12" fill="#C0C0C0"/><rect x="668" y="676" width="1" height="10" fill="#C0C0C0"/><rect x="672" y="678" width="1" height="8" fill="#C0C0C0"/><rect x="676" y="678" width="1" height="8" fill="#C0C0C0"/><rect x="680" y="677" width="1" height="9" fill="#C0C0C0"/><rect x="684" y="677" width="1" height="9" fill="#C0C0C0"/><rect x="688" y="679" width="1" height="7" fill="#C0C0C0"/><rect x="692" y="683" width="1" height="3" fill="#C0C0C0"/><rect x="696" y="685" width="1" height="1" fill="#C0C0C0"/><rect x="700" y="685" width="1" height="3" fill="#C0C0C0"/><rect x="704" y="685" width="1" height="5" fill="#C0C0C0"/><rect x="708" y="685" width="1" height="5" fill="#C0C0C0"/><rect x="712" y="685" width="1" height="6" fill="#C0C0C0"/><rect x="716" y="685" width="1" height="7" fill="#C0C0C0"/><rect x="720" y="685" width="1" height="8" fill="#C0C0C0"/><rect x="724" y="685" width="1" height="9" fill="#C0C0C0"/><rect x="728" y="685" width="1" height="9" fill="#C0C0C0"/><rect x="732" y="685" width="1" height="10" fill="#C0C0C0"/><rect x="736" y="685" width="1" height="10" fill="#C0C0C0"/><rect x="740" y="685" width="1" height="11" fill="#C0C0C0"/><rect x="744" y="685" width="1" height="12" fill="#C0C0C0"/><rect x="748" y="685" width="1" height="12" fill="#C0C0C0"/><rect x="752" y="685" width="1" height="12" fill="#C0C0C0"/><rect x="756" y="685" width="1" height="12" fill="#C0C0C0"/><rect x="760" y="685" width="1" height="13" fill="#C0C0C0"/><rect x="764" y="685" width="1" height="14" fill="#C0C0C0"/><rect x="768" y="685" width="1" height="14" fill="#C0C0C0"/><rect x="772" y="685" width="1" height="15" fill="#C0C0C0"/><rect x="776" y="685" width="1" height="17" fill="#C0C0C0"/><rect x="780" y="685" width="1" height="20" fill="#C0C0C0"/><rect x="784" y="685" width="1" height="23" fill="#C0C0C0"/><rect x="788" y="685" width="1" height="23" fill="#C0C0C0"/><rect x="792" y="685" width="1" height="24" fill="#C0C0C0"/><rect x="796" y="685" width="1" height="23" fill="#C0C0C0"/><rect x="800" y="685" width="1" height="21" fill="#C0C0C0"/><rect x="804" y="685" width="1" height="19" fill="#C0C0C0"/><rect x="808" y="685" width="1" height="17" fill="#C0C0C0"/><rect x="812" y="685" width="1" height="17" fill="#C0C0C0"/><rect x="816" y="685" width="1" height="16" fill="#C0C0C0"/><rect x="820" y="685" width="1" height="14" fill="#C0C0C0"/><rect x="824" y="685" width="1" height="12" fill="#C0C0C0"/><rect x="828" y="685" width="1" height="10" fill="#C0C0C0"/><rect x="832" y="685" width="1" height="9" fill="#C0C0C0"/><rect x="836" y="685" width="1" height="6" fill="#C0C0C0"/><rect x="840" y="685" width="1" height="5" fill="#C0C0C0"/><rect x="844" y="685" width="1" height="4" fill="#C0C0C0"/><rect x="848" y="685" width="1" height="5" fill="#C0C0C0"/><rect x="852" y="685" width="1" height="5" fill="#C0C0C0"/><rect x="856" y="685" width="1" height="4" fill="#C0C0C0"/><rect x="860" y="685" width="1" height="4" fill="#C0C0C0"/><rect x="864" y="685" width="1" height="3" fill="#C0C0C0"/><rect x="868" y="685" width="1" height="2" fill="#C0C0C0"/><rect x="872" y="685" width="1" height="1" fill="#C0C0C0"/><rect x="876" y="684" width="1" height="2" fill="#C0C0C0"/><rect x="880" y="684" width="1" height="2" fill="#C0C0C0"/><rect x="884" y="685" width="1" height="1" fill="#C0C0C0"/><rect x="888" y="685" width="1" height="1" fill="#C0C0C0"/><rect x="892" y="685" width="1" height="1" fill="#C0C0C0"/><rect x="896" y="685" width="1" height="1" fill="#C0C0C0"/><rect x="900" y="685" width="1" height="1" fill="#C0C0C0"/><rect x="904" y="685" width="1" height="4" fill="#C0C0C0"/><rect x="908" y="685" width="1" height="5" fill="#C0C0C0"/><rect x="912" y="685" width="1" height="6" fill="#C0C0C0"/><rect x="916" y="685" width="1" height="8" fill="#C0C0C0"/><rect x="920" y="685" width="1" height="9" fill="#C0C0C0"/><rect x="924" y="685" width="1" height="9" fill="#C0C0C0"/><rect x="928" y="685" width="1" height="9" fill="#C0C0C0"/><rect x="932" y="685" width="1" height="9" fill="#C0C0C0"/><rect x="936" y="685" width="1" height="9" fill="#C0C0C0"/><rect x="940" y="685" width="1" height="8" fill="#C0C0C0"/><rect x="944" y="685" width="1" height="8" fill="#C0C0C0"/><rect x="948" y="685" width="1" height="7" fill="#C0C0C0"/><rect x="952" y="685" width="1" height="8" fill="#C0C0C0"/><rect x="956" y="685" width="1" height="8" fill="#C0C0C0"/><rect x="960" y="685" width="1" height="8" fill="#C0C0C0"/><rect x="964" y="685" width="1" height="9" fill="#C0C0C0"/><rect x="968" y="685" width="1" height="11" fill="#C0C0C0"/><rect x="972" y="685" width="1" height="12" fill="#C0C0C0"/><rect x="976" y="685" width="1" height="14" fill="#C0C0C0"/><rect x="980" y="685" width="1" height="14" fill="#C0C0C0"/><rect x="984" y="685" width="1" height="14" fill="#C0C0C0"/><rect x="988" y="685" width="1" height="13" fill="#C0C0C0"/><rect x="992" y="685" width="1" height="15" fill="#C0C0C0"/><rect x="996" y="685" width="1" height="16" fill="#C0C0C0"/><rect x="1000" y="685" width="1" height="17" fill="#C0C0C0"/><rect x="1004" y="685" width="1" height="19" fill="#C0C0C0"/><rect x="1008" y="685" width="1" height="21" fill="#C0C0C0"/><rect x="1012" y="685" width="1" height="24" fill="#C0C0C0"/><rect x="1016" y="685" width="1" height="26" fill="#C0C0C0"/><rect x="1020" y="685" width="1" height="26" fill="#C0C0C0"/><rect x="1024" y="685" width="1" height="28" fill="#C0C0C0"/><rect x="1028" y="685" width="1" height="29" fill="#C0C0C0"/><rect x="1032" y="685" width="1" height="30" fill="#C0C0C0"/><rect x="1036" y="685" width="1" height="30" fill="#C0C0C0"/><rect x="1040" y="685" width="1" height="27" fill="#C0C0C0"/><rect x="1044" y="685" width="1" height="24" fill="#C0C0C0"/><rect x="1048" y="685" width="1" height="20" fill="#C0C0C0"/><rect x="1052" y="685" width="1" height="16" fill="#C0C0C0"/><rect x="1056" y="685" width="1" height="14" fill="#C0C0C0"/><rect x="1060" y="685" width="1" height="7" fill="#C0C0C0"/><rect x="1064" y="685" width="1" height="4" fill="#C0C0C0"/><rect x="1068" y="685" width="1" height="1" fill="#C0C0C0"/><rect x="1072" y="682" width="1" height="4" fill="#C0C0C0"/><rect x="1076" y="679" width="1" height="7" fill="#C0C0C0"/><rect x="1080" y="676" width="1" height="10" fill="#C0C0C0"/><rect x="1084" y="673" width="1" height="13" fill="#C0C0C0"/><rect x="1088" y="673" width="1" height="13" fill="#C0C0C0"/><rect x="1092" y="674" width="1" height="12" fill="#C0C0C0"/><rect x="1096" y="674" width="1" height="12" fill="#C0C0C0"/><rect x="1100" y="673" width="1" height="13" fill="#C0C0C0"/><rect x="1104" y="672" width="1" height="14" fill="#C0C0C0"/><rect x="1108" y="673" width="1" height="13" fill="#C0C0C0"/><rect x="1112" y="675" width="1" height="11" fill="#C0C0C0"/><rect x="1116" y="676" width="1" height="10" fill="#C0C0C0"/><rect x="1120" y="677" width="1" height="9" fill="#C0C0C0"/><rect x="1124" y="676" width="1" height="10" fill="#C0C0C0"/><rect x="1128" y="676" width="1" height="10" fill="#C0C0C0"/><rect x="1132" y="677" width="1" height="9" fill="#C0C0C0"/><rect x="1136" y="677" width="1" height="9" fill="#C0C0C0"/><rect x="1140" y="676" width="1" height="10" fill="#C0C0C0"/><rect x="1144" y="673" width="1" height="13" fill="#C0C0C0"/><rect x="1148" y="671" width="1" height="15" fill="#C0C0C0"/><rect x="1152" y="670" width="1" height="16" fill="#C0C0C0"/><rect x="1156" y="670" width="1" height="16" fill="#C0C0C0"/><rect x="1160" y="670" width="1" height="16" fill="#C0C0C0"/><rect x="1164" y="670" width="1" height="16" fill="#C0C0C0"/><rect x="1168" y="672" width="1" height="14" fill="#C0C0C0"/><rect x="1172" y="675" width="1" height="11" fill="#C0C0C0"/><rect x="1176" y="678" width="1" height="8" fill="#C0C0C0"/><rect x="1180" y="682" width="1" height="4" fill="#C0C0C0"/><rect x="1184" y="685" width="1" height="1" fill="#C0C0C0"/><rect x="1188" y="685" width="1" height="5" fill="#C0C0C0"/><rect x="1192" y="685" width="1" height="8" fill="#C0C0C0"/><rect x="1196" y="685" width="1" height="10" fill="#C0C0C0"/><rect x="1200" y="685" width="1" height="12" fill="#C0C0C0"/><rect x="1204" y="685" width="1" height="12" fill="#C0C0C0"/><rect x="1208" y="685" width="1" height="10" fill="#C0C0C0"/><rect x="1212" y="685" width="1" height="10" fill="#C0C0C0"/><rect x="1216" y="685" width="1" height="3" fill="#C0C0C0"/><rect x="1220" y="685" width="1" height="1" fill="#C0C0C0"/><rect x="1224" y="682" width="1" height="4" fill="#C0C0C0"/><rect x="1228" y="682" width="1" height="4" fill="#C0C0C0"/><rect x="1232" y="679" width="1" height="7" fill="#C0C0C0"/><rect x="1236" y="674" width="1" height="12" fill="#C0C0C0"/><rect x="1240" y="665" width="1" height="21" fill="#C0C0C0"/><rect x="1244" y="659" width="1" height="27" fill="#C0C0C0"/><rect x="1248" y="655" width="1" height="31" fill="#C0C0C0"/><rect x="1252" y="653" width="1" height="33" fill="#C0C0C0"/><rect x="1256" y="654" width="1" height="32" fill="#C0C0C0"/><rect x="1260" y="652" width="1" height="34" fill="#C0C0C0"/><rect x="1264" y="654" width="1" height="32" fill="#C0C0C0"/><rect x="1268" y="656" width="1" height="30" fill="#C0C0C0"/></g><g clip-path="url(#cd)"><path d="M4 695h1v1h-1zM5 695h1v1h-1zM6 695h1v1h-1zM10 694h1v1h-1zM11 694h1v1h-1zM12 694h1v1h-1zM16 694h1v1h-1zM17 694h1v1h-1zM18 693h1v1h-1zM22 692h1v1h-1zM23 692h1v1h-1zM24 692h1v1h-1zM28 691h1v1h-1zM29 691h1v1h-1zM30 691h1v1h-1zM34 690h1v1h-1zM35 690h1v1h-1zM36 690h1v1h-1zM40 689h1v1h-1zM41 689h1v1h-1zM42 689h1v1h-1zM46 688h1v1h-1zM47 688h1v1h-1zM48 688h1v1h-1zM52 687h1v1h-1zM53 687h1v1h-1zM54 686h1v1h-1zM58 686h1v1h-1zM59 686h1v1h-1zM60 686h1v1h-1zM64 686h1v1h-1zM65 686h1v1h-1zM66 685h1v1h-1zM70 685h1v1h-1zM71 685h1v1h-1zM72 685h1v1h-1zM76 686h1v1h-1zM77 686h1v1h-1zM78 686h1v1h-1zM82 686h1v1h-1zM83 686h1v1h-1zM84 686h1v1h-1zM88 686h1v1h-1zM89 686h1v1h-1zM90 686h1v1h-1zM94 686h1v1h-1zM95 686h1v1h-1zM96 686h1v1h-1zM100 687h1v1h-1zM101 687h1v1h-1zM102 687h1v1h-1zM106 687h1v1h-1zM107 687h1v1h-1zM108 687h1v1h-1zM112 687h1v1h-1zM113 687h1v1h-1zM114 688h1v1h-1zM118 688h1v1h-1zM119 688h1v1h-1zM120 688h1v1h-1zM124 688h1v1h-1zM125 688h1v1h-1zM126 688h1v1h-1zM130 688h1v1h-1zM131 688h1v1h-1zM132 688h1v1h-1zM136 687h1v1h-1zM137 687h1v1h-1zM138 686h1v1h-1zM142 685h1v1h-1zM143 685h1v1h-1zM144 685h1v1h-1zM148 684h1v1h-1zM149 684h1v1h-1zM150 683h1v1h-1zM154 682h1v1h-1zM155 682h1v1h-1zM156 682h1v1h-1zM160 681h1v1h-1zM161 681h1v1h-1zM162 681h1v1h-1zM166 680h1v1h-1zM167 680h1v1h-1zM168 680h1v1h-1zM172 679h1v1h-1zM173 678h1v1h-1zM174 677h1v1h-1zM178 674h1v1h-1zM179 674h1v1h-1zM180 673h1v1h-1zM184 669h1v1h-1zM185 668h1v1h-1zM186 667h1v1h-1zM190 662h1v2h-1zM191 661h1v1h-1zM194 657h1v1h-1zM195 656h1v1h-1zM196 655h1v1h-1zM199 651h1v1h-1zM200 650h1v1h-1zM201 649h1v1h-1zM204 645h1v1h-1zM205 644h1v1h-1zM206 643h1v1h-1zM210 640h1v1h-1zM211 639h1v1h-1zM212 639h1v1h-1zM216 637h1v1h-1zM217 637h1v1h-1zM218 637h1v1h-1zM222 637h1v1h-1zM223 637h1v1h-1zM224 637h1v1h-1zM228 638h1v1h-1zM229 638h1v1h-1zM230 639h1v1h-1zM234 640h1v1h-1zM235 641h1v1h-1zM236 641h1v1h-1zM240 642h1v1h-1zM241 643h1v1h-1zM242 643h1v1h-1zM246 645h1v1h-1zM247 646h1v1h-1zM248 646h1v1h-1zM252 648h1v1h-1zM253 649h1v1h-1zM254 649h1v1h-1zM258 651h1v1h-1zM259 651h1v1h-1zM260 651h1v1h-1zM264 653h1v1h-1zM265 653h1v1h-1zM266 654h1v1h-1zM270 655h1v1h-1zM271 656h1v1h-1zM272 656h1v1h-1zM276 657h1v1h-1zM277 658h1v1h-1zM278 658h1v1h-1zM282 660h1v1h-1zM283 660h1v1h-1zM284 660h1v1h-1zM288 661h1v1h-1zM289 662h1v1h-1zM290 662h1v1h-1zM294 664h1v1h-1zM295 664h1v1h-1zM296 664h1v1h-1zM300 666h1v1h-1zM301 667h1v1h-1zM302 667h1v1h-1zM306 670h1v1h-1zM307 670h1v1h-1zM308 671h1v1h-1zM312 673h1v1h-1zM313 674h1v1h-1zM314 675h1v1h-1zM318 677h1v1h-1zM319 678h1v1h-1zM320 678h1v1h-1zM324 681h1v1h-1zM325 682h1v1h-1zM326 682h1v1h-1zM330 684h1v1h-1zM331 685h1v1h-1zM332 685h1v1h-1zM336 687h1v1h-1zM337 688h1v1h-1zM338 688h1v1h-1zM342 690h1v1h-1zM343 690h1v1h-1zM344 690h1v1h-1zM348 690h1v1h-1zM349 690h1v1h-1zM350 691h1v1h-1zM354 691h1v1h-1zM355 691h1v1h-1zM356 691h1v1h-1zM360 691h1v1h-1zM361 691h1v1h-1zM362 690h1v1h-1zM366 690h1v1h-1zM367 690h1v1h-1zM368 690h1v1h-1zM372 690h1v1h-1zM373 690h1v1h-1zM374 689h1v1h-1zM378 689h1v1h-1zM379 689h1v1h-1zM380 689h1v1h-1zM384 689h1v1h-1zM385 689h1v1h-1zM386 688h1v1h-1zM390 688h1v1h-1zM391 688h1v1h-1zM392 688h1v1h-1zM396 688h1v1h-1zM397 688h1v1h-1zM398 688h1v1h-1zM402 688h1v1h-1zM403 688h1v1h-1zM404 688h1v1h-1zM408 688h1v1h-1zM409 688h1v1h-1zM410 688h1v1h-1zM414 688h1v1h-1zM415 688h1v1h-1zM416 688h1v1h-1zM420 688h1v1h-1zM421 688h1v1h-1zM422 688h1v1h-1zM426 688h1v1h-1zM427 688h1v1h-1zM428 688h1v1h-1zM432 688h1v1h-1zM433 688h1v1h-1zM434 687h1v1h-1zM438 687h1v1h-1zM439 687h1v1h-1zM440 687h1v1h-1zM444 687h1v1h-1zM445 687h1v1h-1zM446 686h1v1h-1zM450 685h1v1h-1zM451 685h1v1h-1zM452 685h1v1h-1zM456 684h1v1h-1zM457 683h1v1h-1zM458 682h1v1h-1zM462 679h1v1h-1zM463 678h1v1h-1zM464 677h1v1h-1zM468 673h1v1h-1zM469 672h1v1h-1zM470 671h1v1h-1zM473 667h1v1h-1zM474 665h1v2h-1zM477 661h1v1h-1zM478 660h1v1h-1zM479 659h1v1h-1zM482 654h1v2h-1zM483 653h1v1h-1zM487 649h1v1h-1zM488 648h1v1h-1zM489 647h1v1h-1zM493 644h1v1h-1zM494 644h1v1h-1zM495 643h1v1h-1zM499 642h1v1h-1zM500 642h1v1h-1zM501 642h1v1h-1zM505 642h1v1h-1zM506 642h1v1h-1zM507 642h1v1h-1zM511 644h1v1h-1zM512 644h1v1h-1zM513 644h1v1h-1zM517 646h1v1h-1zM518 646h1v1h-1zM519 647h1v1h-1zM523 648h1v1h-1zM524 648h1v1h-1zM525 648h1v1h-1zM529 648h1v1h-1zM530 648h1v1h-1zM531 648h1v1h-1zM535 648h1v1h-1zM536 648h1v1h-1zM537 648h1v1h-1zM541 647h1v1h-1zM542 646h1v1h-1zM543 646h1v1h-1zM547 645h1v1h-1zM548 645h1v1h-1zM549 644h1v1h-1zM553 643h1v1h-1zM554 642h1v1h-1zM555 642h1v1h-1zM559 642h1v1h-1zM560 642h1v1h-1zM561 642h1v1h-1zM565 641h1v1h-1zM566 642h1v1h-1zM567 642h1v1h-1zM571 643h1v1h-1zM572 643h1v1h-1zM573 644h1v1h-1zM577 646h1v1h-1zM578 646h1v1h-1zM579 647h1v1h-1zM583 649h1v1h-1zM584 650h1v1h-1zM585 651h1v1h-1zM589 654h1v1h-1zM590 655h1v1h-1zM591 655h1v1h-1zM594 659h1v1h-1zM595 660h1v1h-1zM596 661h1v1h-1zM600 665h1v1h-1zM601 666h1v1h-1zM602 667h1v1h-1zM606 671h1v1h-1zM607 672h1v1h-1zM608 673h1v1h-1zM612 676h1v1h-1zM613 677h1v1h-1zM614 678h1v1h-1zM618 681h1v1h-1zM619 681h1v1h-1zM620 682h1v1h-1zM624 684h1v1h-1zM625 684h1v1h-1zM626 685h1v1h-1zM630 685h1v1h-1zM631 685h1v1h-1zM632 685h1v1h-1zM636 685h1v1h-1zM637 685h1v1h-1zM638 684h1v1h-1zM642 683h1v1h-1zM643 683h1v1h-1zM644 683h1v1h-1zM648 681h1v1h-1zM649 681h1v1h-1zM650 680h1v1h-1zM654 679h1v1h-1zM655 679h1v1h-1zM656 679h1v1h-1zM660 677h1v1h-1zM661 677h1v1h-1zM662 676h1v1h-1zM666 675h1v1h-1zM667 675h1v1h-1zM668 675h1v1h-1zM672 675h1v1h-1zM673 675h1v1h-1zM674 675h1v1h-1zM678 675h1v1h-1zM679 675h1v1h-1zM680 675h1v1h-1zM684 675h1v1h-1zM685 675h1v1h-1zM686 675h1v1h-1zM690 676h1v1h-1zM691 676h1v1h-1zM692 676h1v1h-1zM696 678h1v1h-1zM697 678h1v1h-1zM698 679h1v1h-1zM702 680h1v1h-1zM703 681h1v1h-1zM704 681h1v1h-1zM708 682h1v1h-1zM709 683h1v1h-1zM710 683h1v1h-1zM714 685h1v1h-1zM715 686h1v1h-1zM716 686h1v1h-1zM720 688h1v1h-1zM721 688h1v1h-1zM722 689h1v1h-1zM726 690h1v1h-1zM727 691h1v1h-1zM728 691h1v1h-1zM732 692h1v1h-1zM733 692h1v1h-1zM734 693h1v1h-1zM738 693h1v1h-1zM739 693h1v1h-1zM740 693h1v1h-1zM744 694h1v1h-1zM745 694h1v1h-1zM746 695h1v1h-1zM750 695h1v1h-1zM751 695h1v1h-1zM752 695h1v1h-1zM756 696h1v1h-1zM757 696h1v1h-1zM758 696h1v1h-1zM762 697h1v1h-1zM763 697h1v1h-1zM764 697h1v1h-1zM768 697h1v1h-1zM769 697h1v1h-1zM770 698h1v1h-1zM774 698h1v1h-1zM775 698h1v1h-1zM776 698h1v1h-1zM780 699h1v1h-1zM781 699h1v1h-1zM782 700h1v1h-1zM786 701h1v1h-1zM787 702h1v1h-1zM788 702h1v1h-1zM792 703h1v1h-1zM793 703h1v1h-1zM794 704h1v1h-1zM798 705h1v1h-1zM799 705h1v1h-1zM800 705h1v1h-1zM804 705h1v1h-1zM805 705h1v1h-1zM806 706h1v1h-1zM810 706h1v1h-1zM811 706h1v1h-1zM812 706h1v1h-1zM816 705h1v1h-1zM817 705h1v1h-1zM818 704h1v1h-1zM822 703h1v1h-1zM823 703h1v1h-1zM824 703h1v1h-1zM828 702h1v1h-1zM829 701h1v1h-1zM830 701h1v1h-1zM834 699h1v1h-1zM835 698h1v1h-1zM836 698h1v1h-1zM840 697h1v1h-1zM841 696h1v1h-1zM842 696h1v1h-1zM846 694h1v1h-1zM847 694h1v1h-1zM848 694h1v1h-1zM852 693h1v1h-1zM853 693h1v1h-1zM854 692h1v1h-1zM858 691h1v1h-1zM859 691h1v1h-1zM860 691h1v1h-1zM864 690h1v1h-1zM865 690h1v1h-1zM866 689h1v1h-1zM870 688h1v1h-1zM871 688h1v1h-1zM872 688h1v1h-1zM876 688h1v1h-1zM877 688h1v1h-1zM878 687h1v1h-1zM882 686h1v1h-1zM883 686h1v1h-1zM884 686h1v1h-1zM888 686h1v1h-1zM889 686h1v1h-1zM890 685h1v1h-1zM894 685h1v1h-1zM895 685h1v1h-1zM896 685h1v1h-1zM900 684h1v1h-1zM901 684h1v1h-1zM902 685h1v1h-1zM906 685h1v1h-1zM907 685h1v1h-1zM908 685h1v1h-1zM912 686h1v1h-1zM913 686h1v1h-1zM914 687h1v1h-1zM918 688h1v1h-1zM919 688h1v1h-1zM920 688h1v1h-1zM924 689h1v1h-1zM925 689h1v1h-1zM926 690h1v1h-1zM930 691h1v1h-1zM931 691h1v1h-1zM932 691h1v1h-1zM936 692h1v1h-1zM937 692h1v1h-1zM938 693h1v1h-1zM942 693h1v1h-1zM943 693h1v1h-1zM944 693h1v1h-1zM948 693h1v1h-1zM949 693h1v1h-1zM950 693h1v1h-1zM954 693h1v1h-1zM955 693h1v1h-1zM956 693h1v1h-1zM960 693h1v1h-1zM961 693h1v1h-1zM962 693h1v1h-1zM966 693h1v1h-1zM967 693h1v1h-1zM968 693h1v1h-1zM972 694h1v1h-1zM973 694h1v1h-1zM974 694h1v1h-1zM978 695h1v1h-1zM979 695h1v1h-1zM980 695h1v1h-1zM984 696h1v1h-1zM985 696h1v1h-1zM986 697h1v1h-1zM990 697h1v1h-1zM991 697h1v1h-1zM992 697h1v1h-1zM996 698h1v1h-1zM997 698h1v1h-1zM998 699h1v1h-1zM1002 700h1v1h-1zM1003 700h1v1h-1zM1004 700h1v1h-1zM1008 701h1v1h-1zM1009 701h1v1h-1zM1010 702h1v1h-1zM1014 703h1v1h-1zM1015 703h1v1h-1zM1016 703h1v1h-1zM1020 705h1v1h-1zM1021 705h1v1h-1zM1022 706h1v1h-1zM1026 707h1v1h-1zM1027 708h1v1h-1zM1028 708h1v1h-1zM1032 709h1v1h-1zM1033 710h1v1h-1zM1034 710h1v1h-1zM1038 712h1v1h-1zM1039 712h1v1h-1zM1040 712h1v1h-1zM1044 712h1v1h-1zM1045 712h1v1h-1zM1046 712h1v1h-1zM1050 711h1v1h-1zM1051 711h1v1h-1zM1052 711h1v1h-1zM1056 709h1v1h-1zM1057 708h1v1h-1zM1058 708h1v1h-1zM1062 705h1v1h-1zM1063 705h1v1h-1zM1064 704h1v1h-1zM1068 701h1v1h-1zM1069 700h1v1h-1zM1070 699h1v1h-1zM1074 695h1v1h-1zM1075 694h1v1h-1zM1076 693h1v1h-1zM1080 690h1v1h-1zM1081 689h1v1h-1zM1082 688h1v1h-1zM1086 684h1v1h-1zM1087 684h1v1h-1zM1088 683h1v1h-1zM1092 680h1v1h-1zM1093 679h1v1h-1zM1094 679h1v1h-1zM1098 677h1v1h-1zM1099 676h1v1h-1zM1100 676h1v1h-1zM1104 674h1v1h-1zM1105 674h1v1h-1zM1106 673h1v1h-1zM1110 673h1v1h-1zM1111 673h1v1h-1zM1112 673h1v1h-1zM1116 673h1v1h-1zM1117 673h1v1h-1zM1118 673h1v1h-1zM1122 674h1v1h-1zM1123 674h1v1h-1zM1124 674h1v1h-1zM1128 674h1v1h-1zM1129 674h1v1h-1zM1130 674h1v1h-1zM1134 674h1v1h-1zM1135 674h1v1h-1zM1136 674h1v1h-1zM1140 675h1v1h-1zM1141 675h1v1h-1zM1142 675h1v1h-1zM1146 674h1v1h-1zM1147 674h1v1h-1zM1148 674h1v1h-1zM1152 674h1v1h-1zM1153 674h1v1h-1zM1154 673h1v1h-1zM1158 672h1v1h-1zM1159 672h1v1h-1zM1160 672h1v1h-1zM1164 672h1v1h-1zM1165 672h1v1h-1zM1166 671h1v1h-1zM1170 671h1v1h-1zM1171 671h1v1h-1zM1172 671h1v1h-1zM1176 671h1v1h-1zM1177 671h1v1h-1zM1178 672h1v1h-1zM1182 673h1v1h-1zM1183 674h1v1h-1zM1184 674h1v1h-1zM1188 676h1v1h-1zM1189 677h1v1h-1zM1190 678h1v1h-1zM1194 681h1v1h-1zM1195 681h1v1h-1zM1196 682h1v1h-1zM1200 685h1v1h-1zM1201 686h1v1h-1zM1202 687h1v1h-1zM1206 689h1v1h-1zM1207 690h1v1h-1zM1208 690h1v1h-1zM1212 692h1v1h-1zM1213 692h1v1h-1zM1214 693h1v1h-1zM1218 693h1v1h-1zM1219 693h1v1h-1zM1220 693h1v1h-1zM1224 692h1v1h-1zM1225 691h1v1h-1zM1226 691h1v1h-1zM1230 689h1v1h-1zM1231 688h1v1h-1zM1232 688h1v1h-1zM1236 686h1v1h-1zM1237 685h1v1h-1zM1238 684h1v1h-1zM1242 680h1v1h-1zM1243 679h1v1h-1zM1244 678h1v1h-1zM1247 674h1v1h-1zM1248 673h1v1h-1zM1249 672h1v1h-1zM1253 668h1v1h-1zM1254 667h1v1h-1zM1255 667h1v1h-1zM1259 664h1v1h-1zM1260 663h1v1h-1zM1261 662h1v1h-1zM1265 659h1v1h-1zM1266 658h1v1h-1zM1267 658h1v1h-1z" fill="#FF0000" shape-rendering="crispEdges"/></g></svg>
<div class="a" style="left:19px;top:30px;font-size:10px;letter-spacing:-0.23px;color:#000;-webkit-text-stroke:0.2px #000">USDCNH,Daily&nbsp; 7.08569 7.09361 7.07312 7.08897</div>
<div class="a" style="left:8px;top:538px;font-size:10px;letter-spacing:-0.3px;color:#000;-webkit-text-stroke:0.2px #000">RSI(14) 56.6588</div>
<div class="a" style="left:8px;top:632px;font-size:10px;letter-spacing:-0.3px;color:#000;-webkit-text-stroke:0.2px #000">MACD(12,26,9) 0.033944 0.031764</div>
<div class="a pl" style="top:28px">7.21360</div>
<div class="a pl" style="top:61px">7.17620</div>
<div class="a pl" style="top:94px">7.13990</div>
<div class="a pl" style="top:127px">7.10250</div>
<div class="a pl" style="top:160px">7.06510</div>
<div class="a pl" style="top:193px">7.02880</div>
<div class="a pl" style="top:226px">6.99140</div>
<div class="a pl" style="top:259px">6.95510</div>
<div class="a pl" style="top:292px">6.91770</div>
<div class="a pl" style="top:325px">6.88030</div>
<div class="a pl" style="top:358px">6.84400</div>
<div class="a pl" style="top:391px">6.80660</div>
<div class="a pl" style="top:424px">6.76920</div>
<div class="a pl" style="top:457px">6.73290</div>
<div class="a pl" style="top:490px">6.69550</div>
<div class="a pl" style="top:523px">6.65920</div>
<div class="a" style="left:1598px;top:38px;width:41px;height:11px;background:#FF0000"></div>
<div class="a pl" style="top:38px;color:#fff">7.20193</div>
<div class="a" style="left:1598px;top:129px;width:41px;height:11px;background:#FF0000"></div>
<div class="a pl" style="top:129px;color:#fff">7.10011</div>
<div class="a" style="left:1598px;top:140px;width:41px;height:11px;background:#000"></div>
<div class="a pl" style="top:140px;color:#fff">7.08897</div>
<div class="a" style="left:1598px;top:218px;width:41px;height:11px;background:#00FF00"></div>
<div class="a pl" style="top:218px;color:#fff">7.00029</div>
<div class="a" style="left:1598px;top:323px;width:41px;height:11px;background:#0000FF"></div>
<div class="a pl" style="top:323px;color:#fff">6.88250</div>
<div class="a" style="left:1598px;top:431px;width:41px;height:11px;background:#0000FF"></div>
<div class="a pl" style="top:431px;color:#fff">6.76171</div>
<div class="a pl" style="top:536px;left:1600px">100</div>
<div class="a pl" style="top:556px;left:1600px">70</div>
<div class="a pl" style="top:592px;left:1600px">30</div>
<div class="a pl" style="top:613px;left:1600px">0</div>
<div class="a pl" style="top:629px;left:1600px">0.063113</div>
<div class="a pl" style="top:679px;left:1600px">0.00</div>
<div class="a pl" style="top:707px;left:1600px">-0.038872</div>
<div class="a dl" style="left:4px">18 Mar 2019</div>
<div class="a dl" style="left:68px">5 Apr 2019</div>
<div class="a dl" style="left:132px">25 Apr 2019</div>
<div class="a dl" style="left:196px">20 May 2019</div>
<div class="a dl" style="left:260px">7 Jun 2019</div>
<div class="a dl" style="left:324px">26 Jun 2019</div>
<div class="a dl" style="left:388px">15 Jul 2019</div>
<div class="a dl" style="left:452px">2 Aug 2019</div>
<div class="a dl" style="left:516px">21 Aug 2019</div>
<div class="a dl" style="left:580px">9 Sep 2019</div>
<div class="a dl" style="left:644px">27 Sep 2019</div>
<div class="a dl" style="left:708px">16 Oct 2019</div>
<div class="a dl" style="left:772px">4 Nov 2019</div>
<div class="a dl" style="left:836px">22 Nov 2019</div>
<div class="a dl" style="left:900px">11 Dec 2019</div>
<div class="a dl" style="left:964px">30 Dec 2019</div>
<div class="a dl" style="left:1028px">17 Jan 2020</div>
<div class="a dl" style="left:1092px">5 Feb 2020</div>
<div class="a dl" style="left:1156px">24 Feb 2020</div>
<div class="a dl" style="left:1220px">13 Mar 2020</div>
<div class="a" style="left:0;top:741px;width:1640px;height:1px;background:#E3E3E3"></div>
<div class="a" style="left:0;top:743px;width:1640px;height:1px;background:#000"></div>
<div class="a" style="left:0;top:744px;width:1640px;height:19px;background:#F0F0F0"></div>
<div class="a" style="left:0;top:764px;width:1640px;height:2px;background:#F0F0F0"></div>
<div class="a" style="left:0;top:743px;width:1px;height:20px;background:#6E6E6E"></div>
<div class="a" style="left:417px;top:743px;width:102px;height:18px;background:#fff;border:1px solid #000;border-top:none"></div>
<div class="a tab" style="left:17.5px">EURUSD,Daily</div>
<div class="a tab" style="left:119.5px">USDCHF,Daily</div>
<div class="a tab" style="left:220.5px">AUDUSD,Daily</div>
<div class="a tab" style="left:324px">USDCAD,Daily</div>
<div class="a tab" style="left:533px">EURUSD,Daily</div>
<div class="a tab" style="left:637px">GBPUSD,H4</div>
<div class="a tab" style="left:728px">XAUUSD,H1</div>
<div class="a tab" style="left:820px">HK50,H1</div>
<div class="a tab" style="left:892.5px">UK100,H1</div>
<div class="a tab" style="left:972.5px">UK100,H1</div>
<div class="a tab" style="left:1052.5px">GER30,H1</div>
<div class="a tab" style="left:1131px">FRA40,H1</div>
<div class="a tab" style="left:1207px">USOil,H1</div>
<div class="a tab" style="left:1279.5px">USDJPY,H1</div>
<div class="a tab" style="left:427.5px;color:#000">USDCNH,Daily</div>
<div class="sep" style="left:109px"></div>
<div class="sep" style="left:209px"></div>
<div class="sep" style="left:313px"></div>
<div class="sep" style="left:625px"></div>
<div class="sep" style="left:717px"></div>
<div class="sep" style="left:809px"></div>
<div class="sep" style="left:881px"></div>
<div class="sep" style="left:961px"></div>
<div class="sep" style="left:1041px"></div>
<div class="sep" style="left:1121px"></div>
<div class="sep" style="left:1197px"></div>
<div class="sep" style="left:1269px"></div>
<div class="sep" style="left:1353px"></div>
<svg class="a" style="left:1600px;top:744px" width="40" height="14"><path d="M17 4.5 L13 8 L17 11.5 Z" fill="#A0A0A0"/><path d="M31 4.5 L35 8 L31 11.5 Z" fill="#A0A0A0"/></svg>
</body></html>
